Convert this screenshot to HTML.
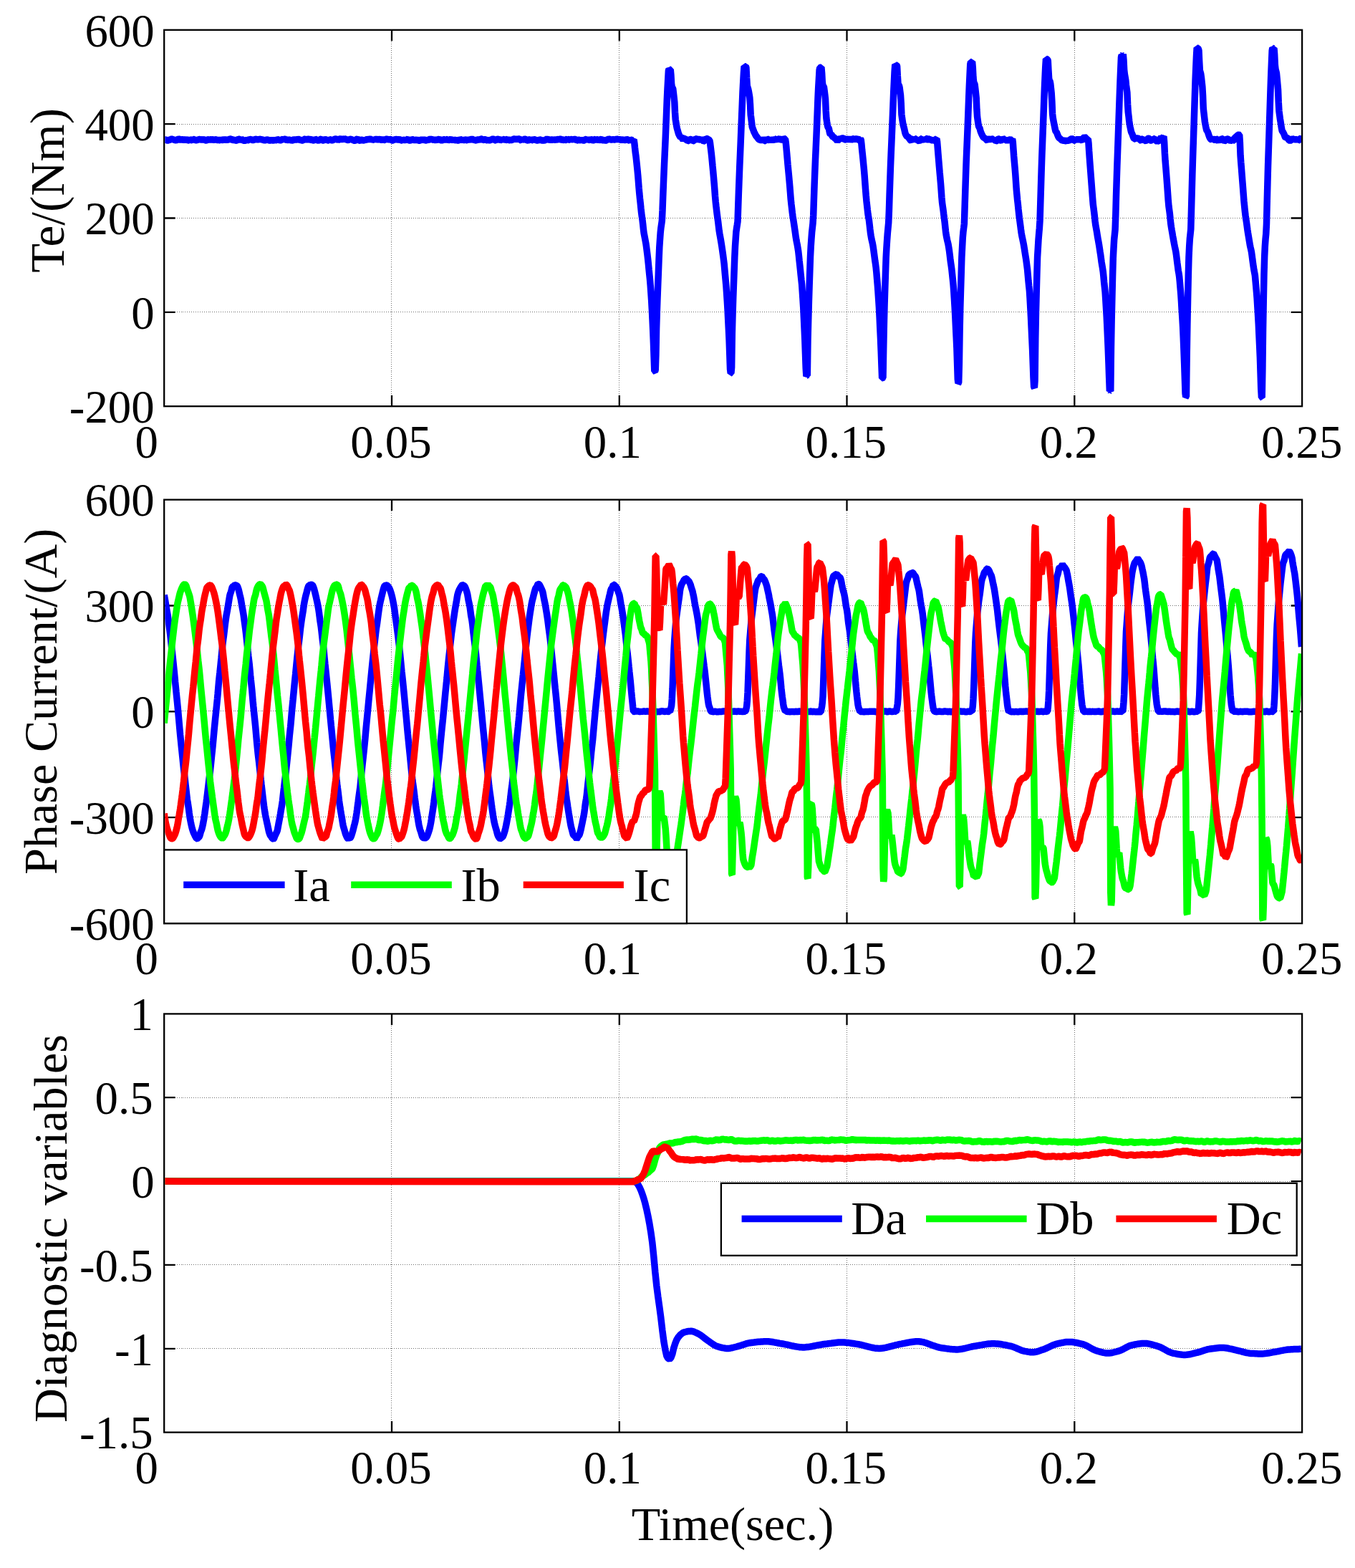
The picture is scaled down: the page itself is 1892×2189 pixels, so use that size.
<!DOCTYPE html>
<html lang="en"><head><meta charset="utf-8"><title>Te, phase current and diagnostic variables</title>
<style>
html,body{margin:0;padding:0;background:#fff}
body{width:1892px;height:2189px;overflow:hidden}
svg{display:block}
text{font-family:"Liberation Serif","DejaVu Serif",serif;fill:#000}
.tl text{font-size:64.8px}
.al{font-size:66.2px}
.lg{font-size:66.4px}
.g{stroke:#707070;stroke-width:1;stroke-dasharray:1 1.92;fill:none;shape-rendering:crispEdges}
.a{stroke:#000;stroke-width:2.3;fill:none}
.c{fill:none;stroke-width:9.5;stroke-linejoin:bevel;stroke-linecap:butt}
</style></head>
<body>
<svg width="1892" height="2189" viewBox="0 0 1892 2189">
<rect width="1892" height="2189" fill="#fff"/>
<defs>
<clipPath id="cp0"><rect x="230.35" y="42.95" width="1586.6" height="523.1"/></clipPath>
<clipPath id="cp1"><rect x="230.35" y="698.75" width="1586.6" height="589.2"/></clipPath>
<clipPath id="cp2"><rect x="230.35" y="1416.55" width="1586.6" height="581.9"/></clipPath>
</defs>
<g id="axes1">
<path class="g" d="M546.5 567.2V41.8M864.5 567.2V41.8M1182.5 567.2V41.8M1500.5 567.2V41.8M229.2 173.5H1818.1M229.2 304.5H1818.1M229.2 435.5H1818.1"/>
<path class="a" d="M547 567.2v-15.5M547 41.8v15.5M864.8 567.2v-15.5M864.8 41.8v15.5M1182.5 567.2v-15.5M1182.5 41.8v15.5M1500.3 567.2v-15.5M1500.3 41.8v15.5M229.2 173.2h15.5M1818.1 173.2h-15.5M229.2 304.5h15.5M1818.1 304.5h-15.5M229.2 435.9h15.5M1818.1 435.9h-15.5"/>
<rect class="a" x="229.2" y="41.8" width="1588.9" height="525.4"/>
<g clip-path="url(#cp0)">
<path class="c" stroke="#0000ff" d="M229.2 195.8l0.7-0.3l0.7-0.4l0.7 0l0.7 0.3l0.7 0.3l0.7 0.3l0.7 0.2l0.7-0.2l0.7-0.5l0.7-0.3l0.7 0l0.7-0.1l0.7-0.4l0.7-0.4l0.7-0.2l0.7 0.2l0.7 0.2l0.7 0.3l0.7 0.2l0.7 0.2l0.7 0.2l0.7 0.2l0.7 0.1l0.7 0.1l0.7-0.2l0.7-0.5l0.7-0.4l0.7-0.3l0.7-0.3l0.7 0.1l0.7 0.3l0.7 0.4l0.7 0.6l0.7 0.6l0.7-0.7l0.7-0.7l0.7-0.2l0.7 0.3l0.7 0.3l0.7 0.5l0.7 0.5l0.7-0.6l0.7-0.9l0.7-0.5l0.7 0.6l0.7 0.6l0.7 0.4l0.7 0.3l0.7-0.1l0.7-0.7l0.7-0.8l0.7 0.4l0.7 0.3l0.7 0.4l0.7 0.3l0.7 0.2l0.7-0.8l0.7-0.8l0.7 0.1l0.7 0.4l0.7 0.3l0.7 0.3l0.7 0.2l0.7 0l0.7-0.1l0.7-0.1l0.7-0.3l0.7-0.2l0.7-0.2l0.7-0.3l0.7 0l0.7 0.3l0.7 0.3l0.7-0.1l0.7-0.2l0.7 0.1l0.7 0.1l0.7 0l0.7-0.1l0.7-0.1l0.7 0.4l0.7 0.5l0.7 0.2l0.7 0l0.7-0.1l0.7-0.5l0.7-0.4l0.7-0.1l0.7 0.3l0.7 0.2l0.7-0.3l0.7-0.4l0.7 0.1l0.7 0.2l0.7 0.1l0.7-0.1l0.7-0.1l0.7 0.2l0.7 0.3l0.7 0.1l0.7-0.3l0.7-0.3l0.7 0.1l0.7 0.1l0.7 0.2l0.7 0.2l0.7 0.2l0.7-0.3l0.7-0.3l0.7 0.3l0.7 0.5l0.7 0.1l0.7-0.7l0.7-0.8l0.7 0.4l0.7 0.6l0.7 0.2l0.7-0.3l0.7-0.4l0.7 0l0.7 0l0.7 0.2l0.7 0.2l0.7 0.1l0.7-0.1l0.7-0.1l0.7-0.1l0.7-0.1l0.7-0.2l0.7-0.4l0.7-0.5l0.7 0.1l0.7 0l0.7 0.4l0.7 0.6l0.7 0.6l0.7-0.1l0.7-0.2l0.7 0l0.7 0.2l0.7 0.1l0.7 0.3l0.7 0.3l0.7-0.1l0.7-0.3l0.7-0.4l0.7-0.7l0.7-0.6l0.7 0.1l0.7 0.3l0.7 0.3l0.7 0.3l0.7 0.2l0.7-0.3l0.7-0.4l0.7 0.3l0.7 0.7l0.7 0.7l0.7 0l0.7-0.1l0.7 0l0.7-0.1l0.7-0.2l0.7-0.4l0.7-0.4l0.7 0.3l0.7 0.4l0.7-0.1l0.7-0.8l0.7-0.7l0.7 0.2l0.7 0.2l0.7 0.1l0.7 0.2l0.7 0.2l0.7 0.3l0.7 0.2l0.7-0.1l0.7-0.2l0.7-0.3l0.7-0.4l0.7-0.3l0.7 0.1l0.7 0.2l0.7 0.1l0.7 0l0.7 0l0.7 0l0.7-0.1l0.7-0.1l0.7-0.1l0.7-0.1l0.7 0.3l0.7 0.2l0.7 0.1l0.7 0.1l0.7 0.1l0.7 0.3l0.7 0.4l0.7 0l0.7 0l0.7-0.1l0.7-0.2l0.7-0.3l0.7-0.1l0.7-0.1l0.7 0.2l0.7 0.3l0.7 0.3l0.7 0.1l0.7 0.2l0.7-0.2l0.7-0.2l0.7-0.1l0.7 0.1l0.7 0.2l0.7 0.1l0.7 0.1l0.7-0.3l0.7-0.9l0.7-0.9l0.7 0.8l0.7 0.9l0.7 0l0.7-0.6l0.7-0.5l0.7 0.2l0.7 0.2l0.7 0.3l0.7 0.3l0.7 0.2l0.7 0l0.7-0.1l0.7-0.5l0.7-0.6l0.7-0.1l0.7 0.5l0.7 0.5l0.7-0.6l0.7-0.6l0.7-0.1l0.7 0.3l0.7 0.3l0.7 0.5l0.7 0.5l0.7-0.2l0.7-0.4l0.7-0.2l0.7 0.2l0.7 0.1l0.7 0.2l0.7 0.1l0.7 0.1l0.7 0.1l0.7 0.1l0.7 0l0.7-0.1l0.7-0.5l0.7-0.7l0.7-0.7l0.7 0.5l0.7 0.4l0.7 0.2l0.7 0l0.7-0.1l0.7-0.4l0.7-0.4l0.7 0.3l0.7 0.5l0.7 0.4l0.7 0l0.7 0.1l0.7 0.2l0.7 0.2l0.7 0.2l0.7 0.1l0.7 0l0.7-0.8l0.7-0.9l0.7-0.1l0.7 0.1l0.7 0.2l0.7 0.4l0.7 0.5l0.7-0.4l0.7-0.6l0.7-0.3l0.7 0.1l0.7 0.1l0.7 0.4l0.7 0.4l0.7-0.1l0.7-0.5l0.7-0.2l0.7 0.6l0.7 0.6l0.7 0.3l0.7 0.1l0.7-0.2l0.7-0.9l0.7-0.8l0.7 0.3l0.7 0.5l0.7 0.4l0.7 0.3l0.7 0.3l0.7 0.1l0.7 0.2l0.7-0.3l0.7-0.7l0.7-0.7l0.7-0.1l0.7-0.1l0.7 0.5l0.7 0.7l0.7 0.6l0.7 0l0.7 0l0.7-0.6l0.7-0.7l0.7-0.3l0.7 0.2l0.7 0.3l0.7 0.3l0.7 0.2l0.7 0.2l0.7 0.2l0.7 0l0.7-0.7l0.7-0.7l0.7 0.2l0.7 0.5l0.7 0.4l0.7 0.1l0.7 0.2l0.7-0.2l0.7-0.3l0.7-0.3l0.7-0.4l0.7-0.4l0.7-0.2l0.7-0.1l0.7 0.1l0.7 0.3l0.7 0.2l0.7 0.6l0.7 0.5l0.7-0.4l0.7-0.8l0.7-0.5l0.7-0.1l0.7 0l0.7 0.3l0.7 0.4l0.7 0l0.7-0.3l0.7-0.3l0.7 0.1l0.7 0.1l0.7 0l0.7-0.2l0.7 0l0.7 0.5l0.7 0.5l0.7 0.3l0.7 0.2l0.7 0l0.7-0.2l0.7-0.3l0.7-0.3l0.7-0.3l0.7-0.1l0.7 0.2l0.7 0.2l0.7 0.3l0.7 0.2l0.7 0.4l0.7 0.3l0.7 0.3l0.7 0.1l0.7 0l0.7-0.5l0.7-0.8l0.7-0.6l0.7-0.2l0.7-0.3l0.7 0.7l0.7 0.9l0.7 0.5l0.7 0.1l0.7 0.1l0.7-0.5l0.7-0.5l0.7 0l0.7 0.3l0.7 0.3l0.7 0.1l0.7 0.1l0.7-0.2l0.7-0.2l0.7-0.1l0.7 0.2l0.7 0.3l0.7-0.7l0.7-0.9l0.7-0.4l0.7 0.3l0.7 0.2l0.7 0.1l0.7 0l0.7-0.1l0.7-0.2l0.7 0l0.7 0.8l0.7 0.8l0.7-0.4l0.7-0.9l0.7-0.5l0.7 0.7l0.7 0.7l0.7-0.5l0.7-0.6l0.7-0.2l0.7 0.3l0.7 0.3l0.7 0l0.7 0.1l0.7-0.1l0.7-0.3l0.7-0.1l0.7 0.3l0.7 0.4l0.7 0.1l0.7 0l0.7-0.1l0.7-0.2l0.7-0.2l0.7 0.3l0.7 0.5l0.7 0l0.7-0.6l0.7-0.6l0.7 0l0.7 0l0.7 0.1l0.7 0.2l0.7 0.2l0.7 0l0.7 0l0.7-0.1l0.7-0.2l0.7 0.1l0.7 0.7l0.7 0.8l0.7 0l0.7-0.1l0.7-0.4l0.7-0.7l0.7-0.8l0.7 0.3l0.7 0.3l0.7 0l0.7-0.1l0.7-0.1l0.7 0.2l0.7 0.2l0.7 0l0.7-0.2l0.7-0.1l0.7 0.3l0.7 0.2l0.7 0.4l0.7 0.4l0.7 0l0.7-0.5l0.7-0.6l0.7 0.3l0.7 0.3l0.7 0.1l0.7-0.1l0.7 0l0.7 0.1l0.7 0.2l0.7-0.5l0.7-0.7l0.7-0.3l0.7 0.7l0.7 0.7l0.7 0.3l0.7 0.2l0.7 0l0.7-0.4l0.7-0.3l0.7-0.3l0.7-0.4l0.7 0.1l0.7 0.4l0.7 0.4l0.7 0l0.7 0l0.7 0l0.7 0l0.7-0.2l0.7-0.6l0.7-0.5l0.7 0.7l0.7 0.8l0.7 0.5l0.7 0l0.7 0l0.7-0.6l0.7-0.5l0.7-0.2l0.7 0.2l0.7 0.1l0.7-0.6l0.7-0.6l0.7 0.6l0.7 0.9l0.7 0.7l0.7-0.2l0.7-0.2l0.7-0.1l0.7-0.2l0.7-0.1l0.7 0.1l0.7 0.2l0.7-0.6l0.7-0.6l0.7-0.2l0.7 0.1l0.7 0.1l0.7 0l0.7-0.1l0.7 0.2l0.7 0.4l0.7 0.1l0.7-0.5l0.7-0.5l0.7 0.6l0.7 0.8l0.7 0.3l0.7-0.4l0.7-0.5l0.7 0l0.7 0l0.7-0.2l0.7-0.4l0.7-0.2l0.7 0.6l0.7 0.6l0.7 0.3l0.7 0.1l0.7 0.1l0.7-0.2l0.7-0.2l0.7-0.4l0.7-0.4l0.7 0l0.7 0.6l0.7 0.5l0.7-0.6l0.7-0.7l0.7 0.1l0.7 0.7l0.7 0.6l0.7-0.3l0.7-0.2l0.7-0.3l0.7-0.3l0.7-0.1l0.7 0.2l0.7 0.2l0.7 0.2l0.7 0.1l0.7-0.1l0.7-0.4l0.7-0.4l0.7 0.6l0.7 0.6l0.7 0l0.7-0.4l0.7-0.3l0.7 0.5l0.7 0.5l0.7 0.1l0.7-0.1l0.7-0.3l0.7-0.7l0.7-0.8l0.7 0.4l0.7 0.6l0.7 0.1l0.7-0.3l0.7-0.4l0.7 0.5l0.7 0.5l0.7 0l0.7-0.2l0.7-0.2l0.7-0.1l0.7-0.1l0.7 0.3l0.7 0.5l0.7 0.1l0.7-0.9l0.7-0.9l0.7 0.4l0.7 0.5l0.7 0.2l0.7-0.3l0.7-0.2l0.7-0.3l0.7-0.3l0.7 0.3l0.7 0.7l0.7 0.6l0.7-0.2l0.7-0.2l0.7 0.2l0.7 0.4l0.7 0.1l0.7-0.3l0.7-0.3l0.7-0.3l0.7-0.2l0.7 0.1l0.7 0.7l0.7 0.6l0.7-0.9l0.7-0.9l0.7-0.4l0.7 0l0.7 0l0.7 0.7l0.7 0.7l0.7-0.1l0.7-0.3l0.7-0.3l0.7 0l0.7 0l0.7 0.4l0.7 0.6l0.7 0l0.7-0.5l0.7-0.6l0.7 0.6l0.7 0.5l0.7 0.1l0.7-0.2l0.7-0.3l0.7-0.3l0.7-0.3l0.7-0.3l0.7-0.3l0.7-0.1l0.7 0.2l0.7 0.2l0.7 0.6l0.7 0.8l0.7 0.1l0.7-0.5l0.7-0.6l0.7-0.3l0.7-0.2l0.7-0.1l0.7 0.2l0.7 0.2l0.7 0.6l0.7 0.6l0.7-0.3l0.7-0.8l0.7-0.3l0.7 0.6l0.7 0.6l0.7-0.5l0.7-0.6l0.7 0l0.7 0.8l0.7 0.9l0.7-0.5l0.7-0.4l0.7-0.5l0.7-0.5l0.7-0.3l0.7 0.9l0.7 0.9l0.7-0.1l0.7-0.6l0.7-0.3l0.7 0.4l0.7 0.3l0.7-0.1l0.7-0.2l0.7-0.3l0.7-0.5l0.7-0.4l0.7 0l0.7 0l0.7 0.1l0.7 0l0.7 0l0.7 0.1l0.7 0l0.7-0.1l0.7-0.1l0.7-0.1l0.7 0l0.7 0l0.7 0.8l0.7 0.9l0.7 0.2l0.7-0.9l0.7-0.9l0.7 0.4l0.7 0.5l0.7-0.1l0.7-0.4l0.7-0.3l0.7 0.1l0.7 0.1l0.7 0.4l0.7 0.6l0.7 0.4l0.7 0.2l0.7 0.2l0.7-0.4l0.7-0.5l0.7-0.5l0.7-0.4l0.7-0.5l0.7 1l0.7 1l0.7-0.1l0.7-1l0.7-0.8l0.7 0.4l0.7 0.3l0.7 0.3l0.7 0.1l0.7 0.2l0.7 0.4l0.7 0.3l0.7 0l0.7 0l0.7-0.2l0.7-0.2l0.7-0.2l0.7-0.2l0.7-0.2l0.7 0.1l0.7 0.5l0.7 0.4l0.7 0l0.7 0l0.7 0l0.7 0l0.7 0l0.7-0.2l0.7-0.1l0.7-0.6l0.7-0.6l0.7-0.3l0.7 0.2l0.7 0.2l0.7 0.2l0.7 0.2l0.7 0.1l0.7 0l0.7 0.1l0.7 0.3l0.7 0.4l0.7-0.4l0.7-0.6l0.7-0.3l0.7 0.4l0.7 0.5l0.7-0.2l0.7-0.3l0.7 0l0.7 0.4l0.7 0.4l0.7-0.6l0.7-0.6l0.7-0.1l0.7 0.3l0.7 0.2l0.7-0.4l0.7-0.4l0.7 0l0.7 0.1l0.7 0.3l0.7 0.8l0.7 0.7l0.7-0.4l0.7-0.7l0.7-0.1l0.7 0.6l0.7 0.6l0.7-0.4l0.7-0.4l0.7-0.4l0.7-0.5l0.7-0.3l0.7 0.8l0.7 0.7l0.7-0.3l0.7-0.8l0.7-0.3l0.7 0.8l0.7 0.8l0.7-0.6l0.7-0.8l0.7-0.2l0.7 0.7l0.7 0.7l0.7-0.6l0.7-0.5l0.7-0.1l0.7 0.2l0.7 0.2l0.7 0.6l0.7 0.7l0.7-0.2l0.7-0.5l0.7-0.3l0.7 0.2l0.7 0.2l0.7 0.1l0.7 0.1l0.7-0.3l0.7-0.6l0.7-0.7l0.7 0.8l0.7 0.7l0.7 0.4l0.7 0.1l0.7-0.1l0.7-0.7l0.7-0.8l0.7 0l0.7 0.4l0.7 0.3l0.7-0.3l0.7-0.3l0.7 0.4l0.7 0.5l0.7-0.1l0.7-0.7l0.7-0.8l0.7 0.5l0.7 0.5l0.7 0.4l0.7 0.3l0.7 0.2l0.7 0l0.7-0.1l0.7-0.5l0.7-0.6l0.7-0.2l0.7 0.7l0.7 0.7l0.7-0.4l0.7-0.6l0.7-0.1l0.7 0.6l0.7 0.6l0.7-0.3l0.7-0.4l0.7-0.3l0.7-0.3l0.7-0.2l0.7 0.5l0.7 0.6l0.7 0.3l0.7 0l0.7 0.1l0.7-0.2l0.7-0.1l0.7 0.3l0.7 0.2l0.7-0.1l0.7-0.8l0.7-0.7l0.7 0l0.7 0l0.7-0.1l0.7-0.1l0.7 0l0.7 0.4l0.7 0.4l0.7 0l0.7-0.1l0.7-0.1l0.7-0.1l0.7 0l0.7 0.1l0.7 0.1l0.7-0.1l0.7-0.2l0.7-0.1l0.7-0.3l0.7-0.3l0.7 0.2l0.7 0.4l0.7 0.4l0.7-0.2l0.7-0.2l0.7 0.1l0.7 0.2l0.7 0.2l0.7 0.5l0.7 0.5l0.7-0.6l0.7-0.7l0.7-0.3l0.7 0.5l0.7 0.5l0.7 0l0.7 0l0.7-0.2l0.7-0.4l0.7-0.3l0.7 0.2l0.7 0.2l0.7 0.4l0.7 0.5l0.7 0.2l0.7-0.6l0.7-0.7l0.7 0.3l0.7 0.3l0.7 0.3l0.7 0.1l0.7 0.2l0.7-0.5l0.7-0.5l0.7 4.6l0.7 6.7l0.7 6.4l0.7 4.8l0.7 6.3l0.7 6.7l0.7 6.8l0.7 7.3l0.7 8.8l0.7 8.9l0.7 8l0.7 7l0.7 6.2l0.7 6.9l0.7 6.8l0.7 5.1l0.7 4.8l0.7 6l0.7 6.8l0.7 5.5l0.7 3.6l0.7 3.6l0.7 3.7l0.7 3.8l0.7 4.9l0.7 5.6l0.7 5.6l0.7 6.1l0.7 6.8l0.7 7.4l0.7 6.9l0.7 6.9l0.7 8.4l0.7 9.9l0.7 10.2l0.7 12.6l0.7 14.8l0.7 15l0.7 17.1l0.7 20.1l0.7 19.6l0.7 0.3l0.7-1.6l0.7-21l0.7-37.6l0.7-22.4l0.7-20l0.7-18.4l0.7-17.8l0.7-18.8l0.7-16l0.7-10.4l0.7-9.8l0.7-6.4l0.7-4.8l0.7-4.9l0.7-14.7l0.7-19.2l0.7-17.6l0.7-17.3l0.7-16.1l0.7-15.1l0.7-15.6l0.7-17.4l0.7-18.3l0.7-18.3l0.7-15.1l0.7-12.8l0.7-12.3l0.7-2.1l0.7 0.5l0.7 0.1l0.7 0.1l0.7 7.6l0.7 12.2l0.7 4.6l0.7 1l0.7 1.2l0.7 6l0.7 6.3l0.7 6.4l0.7 14.6l0.7 9.6l0.7 4.4l0.7 4.4l0.7 3.5l0.7 2.5l0.7 2.5l0.7 2.5l0.7 1.6l0.7 1.3l0.7 1.3l0.7 0.8l0.7-0.4l0.7-0.5l0.7 1.5l0.7 2l0.7 0.8l0.7-0.9l0.7-0.8l0.7 0.4l0.7 0.4l0.7 0.4l0.7 0.3l0.7 0.4l0.7 0.9l0.7 0.9l0.7-0.2l0.7-0.6l0.7-0.6l0.7-0.5l0.7-0.5l0.7 0l0.7 0l0.7 0.5l0.7 1l0.7 1l0.7-0.2l0.7-0.1l0.7-0.8l0.7-1.3l0.7-1.1l0.7 0.2l0.7 0.2l0.7 0.2l0.7 0.3l0.7 0l0.7-0.2l0.7-0.3l0.7 0.5l0.7 0.6l0.7 0.1l0.7-0.6l0.7-0.7l0.7 0.7l0.7 0.7l0.7 0.7l0.7 0.6l0.7 0.6l0.7-0.2l0.7-0.1l0.7-1.1l0.7-1.4l0.7-1l0.7 0.2l0.7 0.2l0.7 0.4l0.7 0.4l0.7 0.4l0.7 0.4l0.7 0.5l0.7 3.9l0.7 5.6l0.7 5.7l0.7 6.1l0.7 7.1l0.7 7.5l0.7 7.4l0.7 7.8l0.7 8.3l0.7 8.7l0.7 9.7l0.7 8.1l0.7 6.2l0.7 6l0.7 5.8l0.7 5.1l0.7 4.9l0.7 6l0.7 6l0.7 4.4l0.7 3.9l0.7 3.9l0.7 4.2l0.7 4.3l0.7 4.7l0.7 4.9l0.7 5l0.7 5.5l0.7 5.5l0.7 8l0.7 8l0.7 7.5l0.7 7.7l0.7 10.3l0.7 10.7l0.7 11.8l0.7 14.4l0.7 13.8l0.7 14.8l0.7 20.2l0.7 20.2l0.7 5.5l0.7-0.2l0.7-7.6l0.7-47.6l0.7-26.2l0.7-22.6l0.7-19.1l0.7-19.1l0.7-19.5l0.7-15.1l0.7-10.2l0.7-10.2l0.7-5l0.7-4.5l0.7-4.6l0.7-20.8l0.7-20.4l0.7-18.4l0.7-18.3l0.7-16.3l0.7-16.9l0.7-18.1l0.7-17.4l0.7-17.2l0.7-17.3l0.7-13.5l0.7-13.1l0.7-9.2l0.7 0.2l0.7 0.1l0.7 0l0.7 1.5l0.7 14l0.7 11.7l0.7 2.4l0.7 2l0.7 3.4l0.7 4.1l0.7 4.1l0.7 10.1l0.7 14.5l0.7 5.1l0.7 5.8l0.7 5.9l0.7 1.8l0.7 1.8l0.7 2l0.7 1.9l0.7 1l0.7 1.5l0.7 1.5l0.7 1.1l0.7 0.9l0.7 0.8l0.7 0.9l0.7 1l0.7 0.7l0.7 0.6l0.7 0.3l0.7 0l0.7 0l0.7 0.6l0.7 0.5l0.7-0.5l0.7-1.3l0.7-1l0.7 0.9l0.7 0.9l0.7 0.8l0.7 0.7l0.7 0.1l0.7-1.6l0.7-1.6l0.7 0.4l0.7 0.6l0.7 0.5l0.7 0.3l0.7 0.2l0.7-0.5l0.7-0.6l0.7 0.4l0.7 1.2l0.7 0.9l0.7-0.9l0.7-0.9l0.7-0.3l0.7 0l0.7 0.2l0.7 0.9l0.7 0.8l0.7-1.4l0.7-1.6l0.7-0.3l0.7 1.6l0.7 1.6l0.7-1.4l0.7-1.4l0.7-0.3l0.7 0.5l0.7 0.4l0.7 0.2l0.7 0.2l0.7 0l0.7 0l0.7-0.2l0.7-0.9l0.7-0.8l0.7 0.4l0.7 0.5l0.7 0.3l0.7 4.5l0.7 6.8l0.7 7.8l0.7 8.2l0.7 8l0.7 7.5l0.7 7.3l0.7 7.8l0.7 7.9l0.7 8.9l0.7 9.1l0.7 6.6l0.7 6.1l0.7 6.1l0.7 5.3l0.7 4.3l0.7 4.6l0.7 4.7l0.7 4.8l0.7 5.1l0.7 5.1l0.7 4.2l0.7 3.6l0.7 3.5l0.7 4.1l0.7 4.5l0.7 6.3l0.7 6.9l0.7 6.4l0.7 6.7l0.7 7.1l0.7 6.5l0.7 6.3l0.7 10.2l0.7 10.9l0.7 10.9l0.7 14.9l0.7 15.3l0.7 15.5l0.7 19.6l0.7 19.8l0.7 11.1l0.7-0.9l0.7-0.1l0.7-49.5l0.7-27.7l0.7-25.9l0.7-21.8l0.7-20.7l0.7-20.3l0.7-13.8l0.7-10.4l0.7-9.4l0.7-6.3l0.7-6.3l0.7-11.3l0.7-21.7l0.7-20.4l0.7-18.4l0.7-17.4l0.7-15.6l0.7-15.9l0.7-17.3l0.7-18.4l0.7-18.5l0.7-14.8l0.7-12l0.7-12.5l0.7-3.3l0.7-0.3l0.7-0.1l0.7-0.1l0.7 7.8l0.7 12.9l0.7 5.2l0.7 0.6l0.7 0.7l0.7 5.2l0.7 5.7l0.7 6.2l0.7 16l0.7 10.9l0.7 4.8l0.7 4.6l0.7 2.9l0.7 1l0.7 1l0.7 3.9l0.7 3l0.7 1.1l0.7-0.1l0.7 0.1l0.7 1.5l0.7 1.6l0.7 0.4l0.7 0.3l0.7 0.4l0.7 0.8l0.7 0.7l0.7 0.5l0.7 0.6l0.7 0.7l0.7 1l0.7 1l0.7-0.9l0.7-0.9l0.7-0.7l0.7-0.6l0.7-0.5l0.7 0.3l0.7 0.3l0.7-0.3l0.7-0.5l0.7-0.3l0.7 0l0.7 0l0.7 0.7l0.7 0.8l0.7 0.5l0.7 0.1l0.7 0.2l0.7-0.5l0.7-0.5l0.7-0.1l0.7 0.3l0.7 0.1l0.7-0.5l0.7-0.6l0.7 0.6l0.7 1.1l0.7 0.6l0.7-0.5l0.7-0.5l0.7-0.5l0.7-0.4l0.7 0l0.7 0.7l0.7 0.6l0.7-0.5l0.7-0.6l0.7-0.1l0.7 0.1l0.7 0.1l0.7-0.3l0.7-0.3l0.7 0.8l0.7 1.2l0.7 0.6l0.7-0.9l0.7-1l0.7 1l0.7 5.6l0.7 7.8l0.7 6.5l0.7 6.7l0.7 7.3l0.7 7.3l0.7 8.3l0.7 9.7l0.7 9.5l0.7 8.6l0.7 7.9l0.7 6.3l0.7 6.4l0.7 6l0.7 4.4l0.7 3.7l0.7 6l0.7 6.3l0.7 5.9l0.7 4.2l0.7 4.1l0.7 3l0.7 3l0.7 3.7l0.7 4.7l0.7 5.3l0.7 5.3l0.7 5.4l0.7 4.5l0.7 5.4l0.7 7.1l0.7 8.4l0.7 8.4l0.7 9.5l0.7 10.5l0.7 10.8l0.7 13.8l0.7 15.7l0.7 14.5l0.7 17l0.7 19.5l0.7 18.6l0.7 0l0.7-0.6l0.7-40.1l0.7-34.9l0.7-27.7l0.7-22.5l0.7-21.5l0.7-21.1l0.7-12.9l0.7-11l0.7-9.6l0.7-7.5l0.7-7.5l0.7-16.7l0.7-22.5l0.7-20.1l0.7-19.9l0.7-17.3l0.7-16.2l0.7-17l0.7-17.3l0.7-17.3l0.7-17.8l0.7-14.8l0.7-14.4l0.7-9.6l0.7 0.5l0.7 0.3l0.7 0.1l0.7 1.3l0.7 13.3l0.7 11.3l0.7 1.6l0.7 0.9l0.7 2.9l0.7 5.3l0.7 5.4l0.7 10.9l0.7 16l0.7 5.3l0.7 4.4l0.7 4.4l0.7 2.5l0.7 2.5l0.7 3l0.7 3.3l0.7 2.2l0.7 1.2l0.7 1.2l0.7 0.6l0.7 0.2l0.7 0.1l0.7 1.2l0.7 1.3l0.7 0.9l0.7 0.9l0.7 0.8l0.7 0.5l0.7 0.6l0.7-1.4l0.7-1.7l0.7-0.3l0.7 1.5l0.7 1.5l0.7-1.4l0.7-1.5l0.7 0.1l0.7 1.2l0.7 1l0.7-0.1l0.7-0.2l0.7 0.4l0.7 0.7l0.7 0.3l0.7-0.6l0.7-0.6l0.7-1l0.7-1.1l0.7-0.1l0.7 1.2l0.7 1.1l0.7-0.8l0.7-0.8l0.7 0.3l0.7 1.1l0.7 0.7l0.7-1.5l0.7-1.5l0.7 0l0.7 0.5l0.7 0.6l0.7 0.7l0.7 0.6l0.7-0.7l0.7-1l0.7-0.2l0.7 1l0.7 0.9l0.7 0l0.7-0.1l0.7 0l0.7 0l0.7 0l0.7 0.3l0.7 0.3l0.7-0.6l0.7-0.9l0.7-0.7l0.7-0.3l0.7 4l0.7 8.7l0.7 8.8l0.7 8.4l0.7 8.3l0.7 8.4l0.7 7.7l0.7 8.1l0.7 9.1l0.7 10l0.7 7.9l0.7 4.9l0.7 4.9l0.7 5.7l0.7 5.6l0.7 5.5l0.7 6.6l0.7 6.7l0.7 5l0.7 3.7l0.7 3.3l0.7 2.9l0.7 2.9l0.7 4.1l0.7 4.5l0.7 5.5l0.7 5.9l0.7 5.7l0.7 4.5l0.7 5.1l0.7 6.7l0.7 6.6l0.7 6.9l0.7 9.1l0.7 11.3l0.7 11.6l0.7 13.2l0.7 15.2l0.7 14l0.7 14.9l0.7 21.9l0.7 21.9l0.7 5.5l0.7-0.8l0.7-26.6l0.7-46l0.7-31.9l0.7-24.3l0.7-23.1l0.7-23.6l0.7-13.7l0.7-13.4l0.7-8l0.7-5.6l0.7-5.8l0.7-22.5l0.7-22.4l0.7-21.5l0.7-20.6l0.7-17.2l0.7-16.6l0.7-17.4l0.7-18.8l0.7-18.8l0.7-17.4l0.7-14.7l0.7-14.5l0.7-3.3l0.7 0l0.7-0.1l0.7-0.2l0.7 8l0.7 14l0.7 6.5l0.7 1.5l0.7 1.6l0.7 5.8l0.7 6.5l0.7 6.4l0.7 15.9l0.7 10.8l0.7 5l0.7 5l0.7 3.5l0.7 1.2l0.7 1.3l0.7 2.8l0.7 2.2l0.7 1.7l0.7 1.6l0.7 1.5l0.7 1.3l0.7 1.4l0.7 0.4l0.7 0.4l0.7 0.5l0.7 0.4l0.7 0.5l0.7 0.8l0.7 1l0.7 0.4l0.7-0.9l0.7-0.9l0.7 0l0.7 0.1l0.7 0l0.7 0.1l0.7 0.1l0.7-0.4l0.7-0.5l0.7 0.3l0.7 0.9l0.7 0.8l0.7-0.5l0.7-0.4l0.7 0.6l0.7 0.9l0.7 0.7l0.7-0.2l0.7-0.2l0.7-1l0.7-1.1l0.7-0.6l0.7 0l0.7 0l0.7 1.1l0.7 1l0.7 0.2l0.7-0.4l0.7-0.6l0.7-1l0.7-1l0.7 0.5l0.7 1.2l0.7 0.7l0.7-0.5l0.7-0.4l0.7 0.6l0.7 0.7l0.7 0.4l0.7-0.4l0.7-0.4l0.7 0.1l0.7 0l0.7-0.4l0.7-0.4l0.7-0.3l0.7 0.4l0.7 0.4l0.7-0.7l0.7-0.7l0.7 4.3l0.7 10.1l0.7 9.8l0.7 8.1l0.7 7.9l0.7 8.8l0.7 10.3l0.7 10.4l0.7 7.5l0.7 7.5l0.7 6.1l0.7 6.9l0.7 6.7l0.7 6l0.7 5.2l0.7 5.3l0.7 5.5l0.7 5.1l0.7 4l0.7 3.1l0.7 3.4l0.7 3.4l0.7 3.8l0.7 4.4l0.7 4.5l0.7 4.3l0.7 4.3l0.7 4.9l0.7 5.4l0.7 5.4l0.7 7.9l0.7 8l0.7 6.9l0.7 6.6l0.7 10.9l0.7 12.9l0.7 12.9l0.7 15.3l0.7 14.9l0.7 15.2l0.7 19.5l0.7 19.9l0.7 12.9l0.7 1l0.7-9.8l0.7-59l0.7-36.2l0.7-27.2l0.7-26.4l0.7-23.7l0.7-11.7l0.7-12.3l0.7-8.6l0.7-7.9l0.7-11.2l0.7-23.8l0.7-22.9l0.7-23.2l0.7-20.7l0.7-17.6l0.7-18.2l0.7-18.8l0.7-19l0.7-19.2l0.7-15.6l0.7-15.2l0.7-10.8l0.7 0.2l0.7 0.3l0.7 0.4l0.7 1.6l0.7 13.8l0.7 11.6l0.7 2l0.7 1.4l0.7 3.5l0.7 6.5l0.7 6.5l0.7 11.8l0.7 17.2l0.7 6l0.7 3.7l0.7 3.8l0.7 3.2l0.7 3.7l0.7 3.1l0.7 1.5l0.7 0.3l0.7 1.7l0.7 2l0.7 1.7l0.7 1.6l0.7 1l0.7 0.6l0.7 0.5l0.7 0.6l0.7 0.7l0.7 0.6l0.7 0.5l0.7 0.6l0.7-0.1l0.7-0.1l0.7-0.1l0.7 0.2l0.7 0.2l0.7 0.2l0.7 0.1l0.7-0.4l0.7-1l0.7-1.1l0.7 1l0.7 0.9l0.7 0.1l0.7-0.6l0.7-0.6l0.7-0.5l0.7-0.4l0.7-0.3l0.7-0.2l0.7 0.2l0.7 1.2l0.7 1.1l0.7-0.1l0.7-0.2l0.7-0.6l0.7-1.1l0.7-1.1l0.7 1l0.7 1l0.7-0.2l0.7-1l0.7-0.8l0.7 0.7l0.7 0.6l0.7 0.5l0.7 0.3l0.7 0.3l0.7 0.1l0.7 0.2l0.7-0.8l0.7-1.3l0.7-1.1l0.7-0.7l0.7-0.7l0.7 0.5l0.7 0.8l0.7 0.7l0.7 0.5l0.7 0.4l0.7-0.1l0.7 0l0.7 5.9l0.7 11l0.7 10.1l0.7 9.3l0.7 9.2l0.7 9.2l0.7 9.2l0.7 9.3l0.7 9.2l0.7 8.7l0.7 5.3l0.7 5.4l0.7 6.2l0.7 6.8l0.7 5.4l0.7 3.8l0.7 3.8l0.7 4.3l0.7 4.6l0.7 3.8l0.7 3.9l0.7 4l0.7 4.6l0.7 4.7l0.7 4.4l0.7 5.2l0.7 5.2l0.7 4.1l0.7 4.1l0.7 4.8l0.7 7l0.7 7.7l0.7 6.5l0.7 6.6l0.7 10.6l0.7 12.1l0.7 11.8l0.7 14.4l0.7 15.9l0.7 16.1l0.7 18.8l0.7 20.5l0.7 18.3l0.7-0.4l0.7 0.8l0.7-61.2l0.7-39.4l0.7-30.4l0.7-29.6l0.7-25l0.7-13.6l0.7-12.6l0.7-6.7l0.7-7l0.7-19.1l0.7-26.5l0.7-22.7l0.7-21.8l0.7-19.1l0.7-20.1l0.7-21l0.7-19.9l0.7-19.8l0.7-18.6l0.7-16.2l0.7-15.9l0.7-3.3l0.7 0.6l0.7-0.6l0.7-0.9l0.7 7.6l0.7 14.2l0.7 6.1l0.7 3.8l0.7 4.2l0.7 6.8l0.7 5.3l0.7 5.4l0.7 16.3l0.7 10.9l0.7 5.7l0.7 6.4l0.7 5.3l0.7 3.6l0.7 3.5l0.7 3l0.7 1.7l0.7 1.4l0.7 2l0.7 1.9l0.7 1.5l0.7 1.5l0.7 0l0.7-0.5l0.7-0.5l0.7 0l0.7 0.1l0.7 0l0.7 0.1l0.7 0.1l0.7 0.4l0.7 0.4l0.7 0.6l0.7 0.6l0.7 0.7l0.7 0.5l0.7 0.5l0.7-1.4l0.7-1.7l0.7-0.3l0.7 1.5l0.7 1.6l0.7-0.1l0.7-0.1l0.7-0.1l0.7-0.2l0.7-0.3l0.7-1l0.7-1.1l0.7-0.4l0.7-0.1l0.7 0.2l0.7 1.3l0.7 1.3l0.7 0.1l0.7-0.2l0.7-0.4l0.7-0.5l0.7-0.5l0.7 0l0.7-0.1l0.7-0.3l0.7-0.6l0.7-0.3l0.7 1.8l0.7 1.9l0.7 0.3l0.7-0.3l0.7-0.2l0.7 0.3l0.7 0l0.7-0.9l0.7-1l0.7-1.2l0.7-1.3l0.7-1.2l0.7 0.8l0.7 0.7l0.7-0.4l0.7-1.2l0.7-0.9l0.7 8.1l0.7 15.3l0.7 10.7l0.7 8.4l0.7 8.7l0.7 9.4l0.7 9.4l0.7 9.9l0.7 10l0.7 7.7l0.7 5.2l0.7 5.2l0.7 7l0.7 6.8l0.7 4.8l0.7 4.2l0.7 4.1l0.7 4.2l0.7 4l0.7 3.6l0.7 3.8l0.7 3.6l0.7 3.3l0.7 3.3l0.7 4.6l0.7 5.8l0.7 5.7l0.7 5.3l0.7 5.4l0.7 3.6l0.7 4.7l0.7 7.4l0.7 8.2l0.7 8.2l0.7 10.4l0.7 12.5l0.7 11l0.7 12.2l0.7 15.7l0.7 17.4l0.7 18.6l0.7 21l0.7 20.8l0.7 4.4l0.7-0.6l0.7-55.9l0.7-44.2l0.7-34.6l0.7-33.5l0.7-25.9l0.7-15.1l0.7-10.9l0.7-6.5l0.7-6.8l0.7-25.6l0.7-26.1l0.7-25.5l0.7-22.9l0.7-20.7l0.7-21.6l0.7-22.1l0.7-21.9l0.7-21.9l0.7-16.7l0.7-16l0.7-12.2l0.7 0.2l0.7 0.2l0.7 1.1l0.7 2.1l0.7 15.4l0.7 12.6l0.7 2.2l0.7 2.7l0.7 5l0.7 6.4l0.7 6.5l0.7 12l0.7 18.2l0.7 6.1l0.7 6.2l0.7 6.2l0.7 3.8l0.7 3.5l0.7 3.4l0.7 1.9l0.7 0.5l0.7 1.7l0.7 2.1l0.7 2.1l0.7 2.1l0.7 1.5l0.7 1l0.7 1.1l0.7 0.2l0.7-0.9l0.7-0.8l0.7 0.7l0.7 0.7l0.7 0.3l0.7 0.4l0.7 0.1l0.7-0.8l0.7-0.8l0.7 0.4l0.7 0.9l0.7 0.8l0.7 0.7l0.7 0.7l0.7-1l0.7-1.4l0.7-0.6l0.7 0.4l0.7 0.4l0.7-0.7l0.7-0.6l0.7 0.1l0.7 0.8l0.7 0.7l0.7 0.9l0.7 0.8l0.7-0.3l0.7-0.8l0.7-0.8l0.7-0.6l0.7-0.6l0.7 0.1l0.7 0.1l0.7 0.4l0.7 0.6l0.7 0.6l0.7 0.4l0.7 0.5l0.7-0.3l0.7-0.7l0.7-0.7l0.7 0.1l0.7 0.1l0.7 0.4l0.7 0.6l0.7 0l0.7-2.6l0.7-2.7l0.7-0.1l0.7 0.3l0.7-0.7l0.7-0.9l0.7-0.9l0.7-0.3l0.7-0.2l0.7 0.3l0.7 10.6l0.7 18.5l0.7 9.4l0.7 8.6l0.7 9l0.7 9l0.7 9l0.7 9.2l0.7 9.3l0.7 7.2l0.7 6.8l0.7 6l0.7 4.9l0.7 4.4l0.7 5.2l0.7 5.3l0.7 4.6l0.7 4.2l0.7 4.2l0.7 4.3l0.7 4.2l0.7 3.3l0.7 3l0.7 3.4l0.7 4.9l0.7 5.7l0.7 5.1l0.7 5l0.7 4.4l0.7 3.6l0.7 3.8l0.7 7.7l0.7 7.7l0.7 8l0.7 8.8l0.7 11.9l0.7 11.8l0.7 12.1l0.7 15.4l0.7 15l0.7 15.7l0.7 22l0.7 22.2l0.7 12l0.7 0.3l0.7-38l0.7-57.1l0.7-39.8l0.7-37.2l0.7-24.6l0.7-14.8l0.7-9.9l0.7-7.1l0.7-13.4l0.7-29l0.7-26.8l0.7-25.9l0.7-21.3l0.7-20.9l0.7-22l0.7-21.7l0.7-21.7l0.7-19.7l0.7-16.6l0.7-16.6l0.7-4l0.7 0.5l0.7 0.1l0.7-0.2l0.7 8.6l0.7 14.8l0.7 6.1l0.7 2.6l0.7 3l0.7 7.4l0.7 7.7l0.7 7.7l0.7 17.8l0.7 12.1l0.7 5.2l0.7 5.4l0.7 4.2l0.7 4.6l0.7 4.6l0.7 3.3l0.7 1.3l0.7 0.9l0.7 1.4l0.7 1.4l0.7 1.8l0.7 2.1l0.7 0.7l0.7 0l0.7 0.1l0.7 0.4l0.7 0.4l0.7 0.7l0.7 1.2l0.7 1.1l0.7 0.2l0.7 0.3l0.7-0.3l0.7-0.8l0.7-0.7l0.7-0.4l0.7-0.5l0.7 0.3l0.7 0.6l0.7 0.4l0.7-0.2l0.7-0.1l0.7 0l0.7 0.1l0.7-0.1l0.7-0.4l0.7-0.4l0.7 1l0.7 1l0.7-0.2l0.7-1l0.7-1l0.7-0.3l0.7-0.3l0.7 0.8"/>
</g>
<g class="tl" text-anchor="end"><text x="215.6" y="64.5">600</text><text x="215.6" y="195.9">400</text><text x="215.6" y="327.2">200</text><text x="215.6" y="458.6">0</text><text x="215.6" y="589.9">-200</text></g>
<g class="tl"><text x="188.6" y="638.5">0</text><text x="489.2" y="638.5">0.05</text><text x="814.8" y="638.5">0.1</text><text x="1124.5" y="638.5">0.15</text><text x="1451.8" y="638.5">0.2</text><text x="1760.9" y="638.5">0.25</text></g>
<text class="al" transform="translate(88.9 264.4) rotate(-90)" x="-116.3" y="0" style="font-size:67px">Te/(Nm)</text>
</g>
<g id="axes2">
<path class="g" d="M546.5 1289.1V697.6M864.5 1289.1V697.6M1182.5 1289.1V697.6M1500.5 1289.1V697.6M229.2 845.5H1818.1M229.2 992.5H1818.1M229.2 1140.5H1818.1"/>
<path class="a" d="M547 1289.1v-15.5M547 697.6v15.5M864.8 1289.1v-15.5M864.8 697.6v15.5M1182.5 1289.1v-15.5M1182.5 697.6v15.5M1500.3 1289.1v-15.5M1500.3 697.6v15.5M229.2 845.5h15.5M1818.1 845.5h-15.5M229.2 993.3h15.5M1818.1 993.3h-15.5M229.2 1141.2h15.5M1818.1 1141.2h-15.5"/>
<rect class="a" x="229.2" y="697.6" width="1588.9" height="591.5"/>
<g clip-path="url(#cp1)">
<path class="c" stroke="#0000ff" d="M229.2 830.6l0.7 3.6l0.7 3.9l0.7 4.1l0.7 4.3l0.7 4.5l0.7 3.5l0.7 3.9l0.7 4.9l0.7 5.5l0.7 5.4l0.7 5.2l0.7 5.4l0.7 6.4l0.7 6.7l0.7 6.4l0.7 6.1l0.7 6.2l0.7 6.6l0.7 6.7l0.7 7l0.7 7.4l0.7 7.4l0.7 7l0.7 7.1l0.7 6.9l0.7 6.9l0.7 7.1l0.7 7.6l0.7 7.6l0.7 8l0.7 8l0.7 7.5l0.7 7l0.7 7l0.7 6.7l0.7 6.6l0.7 6.8l0.7 7l0.7 6.7l0.7 5.8l0.7 5.7l0.7 6.3l0.7 6.3l0.7 6.3l0.7 6.2l0.7 6.1l0.7 4.5l0.7 4.2l0.7 4.7l0.7 5.5l0.7 5.3l0.7 3.9l0.7 3.7l0.7 3.3l0.7 3.1l0.7 2.8l0.7 2.3l0.7 2l0.7 1.8l0.7 1.5l0.7 1.4l0.7 1.5l0.7 1.2l0.7 1.2l0.7 0.9l0.7 0.1l0.7-0.6l0.7-1l0.7-0.4l0.7-0.7l0.7-1.7l0.7-2.5l0.7-2.6l0.7-1.6l0.7-1.9l0.7-2.7l0.7-3.1l0.7-3.5l0.7-3.9l0.7-4.2l0.7-4.8l0.7-5.2l0.7-5.1l0.7-4.9l0.7-5.2l0.7-5.6l0.7-5.8l0.7-5.9l0.7-6l0.7-6l0.7-5.5l0.7-5.6l0.7-6.5l0.7-7.1l0.7-6.9l0.7-6.6l0.7-6.8l0.7-7.5l0.7-7.8l0.7-7.6l0.7-7.2l0.7-7.2l0.7-6.7l0.7-6.7l0.7-6.9l0.7-7.2l0.7-7.4l0.7-8.3l0.7-8.3l0.7-6.9l0.7-6.1l0.7-6.5l0.7-7.1l0.7-7l0.7-7.2l0.7-7.1l0.7-6.4l0.7-5.4l0.7-5.1l0.7-6.2l0.7-6l0.7-5.6l0.7-5l0.7-4.8l0.7-3.9l0.7-3.7l0.7-4.3l0.7-4.2l0.7-4.2l0.7-4.3l0.7-4l0.7-2.4l0.7-1.8l0.7-2.3l0.7-2.9l0.7-2.5l0.7-0.4l0.7-0.1l0.7-0.5l0.7-0.9l0.7-0.6l0.7 0.1l0.7 0.4l0.7 0.2l0.7 0.2l0.7 0.7l0.7 1.7l0.7 2l0.7 2.6l0.7 3l0.7 3l0.7 2.8l0.7 3.2l0.7 4.1l0.7 4.4l0.7 3.9l0.7 3.7l0.7 4l0.7 5l0.7 5.1l0.7 5.1l0.7 5.1l0.7 5.6l0.7 6.3l0.7 6.5l0.7 6.8l0.7 6.9l0.7 6.5l0.7 5.7l0.7 5.9l0.7 7.6l0.7 7.6l0.7 6.9l0.7 6.4l0.7 6.7l0.7 8.1l0.7 8.2l0.7 7.3l0.7 6.9l0.7 6.8l0.7 6.9l0.7 6.8l0.7 7.9l0.7 8.1l0.7 7.7l0.7 7.2l0.7 7.1l0.7 6l0.7 5.9l0.7 6.2l0.7 6.5l0.7 6.4l0.7 6.4l0.7 6.3l0.7 6.1l0.7 6.1l0.7 5.9l0.7 5.8l0.7 5.7l0.7 4.8l0.7 4.6l0.7 4l0.7 3.5l0.7 3.2l0.7 3.3l0.7 3l0.7 3.3l0.7 3.5l0.7 3.1l0.7 2.2l0.7 2l0.7 1.3l0.7 0.9l0.7 0.9l0.7 1.2l0.7 0.9l0.7 0.6l0.7 0.3l0.7-0.6l0.7-1.8l0.7-2.2l0.7-1.1l0.7-1.5l0.7-1.5l0.7-1.6l0.7-2.1l0.7-3.7l0.7-4l0.7-3.7l0.7-3.6l0.7-4l0.7-4.1l0.7-4.4l0.7-4l0.7-4.1l0.7-5l0.7-6.2l0.7-6.3l0.7-5.8l0.7-6l0.7-5.7l0.7-5.6l0.7-5.8l0.7-6.4l0.7-6.5l0.7-6.7l0.7-7l0.7-7.1l0.7-7.5l0.7-7.6l0.7-6.8l0.7-6.6l0.7-7.4l0.7-8.3l0.7-8.3l0.7-7l0.7-7l0.7-7.2l0.7-7.3l0.7-7.3l0.7-6.9l0.7-6.8l0.7-7.2l0.7-7.3l0.7-7.1l0.7-6.7l0.7-6.6l0.7-5.4l0.7-5.2l0.7-5.8l0.7-6.6l0.7-6.5l0.7-5.2l0.7-5l0.7-4.7l0.7-4.2l0.7-4.2l0.7-5.1l0.7-4.9l0.7-3.9l0.7-3.5l0.7-3.1l0.7-2.8l0.7-2.4l0.7-3l0.7-2.7l0.7-2.3l0.7-1.6l0.7-1.3l0.7-0.1l0.7 0.1l0.7-0.2l0.7-0.4l0.7-0.1l0.7 0.3l0.7 0.5l0.7 1.2l0.7 1.8l0.7 2.1l0.7 2.6l0.7 2.8l0.7 2.8l0.7 3l0.7 3.2l0.7 3.1l0.7 3.4l0.7 3.7l0.7 3.9l0.7 4.8l0.7 5.5l0.7 5.5l0.7 4.4l0.7 4.6l0.7 5.9l0.7 6.5l0.7 6.2l0.7 5.4l0.7 5.6l0.7 7.2l0.7 7.5l0.7 7.2l0.7 6.7l0.7 6.7l0.7 6.7l0.7 6.8l0.7 7l0.7 7.2l0.7 7.2l0.7 7.5l0.7 7.5l0.7 7.5l0.7 7.5l0.7 7.3l0.7 7.2l0.7 7.1l0.7 7.3l0.7 7.3l0.7 6.8l0.7 6.2l0.7 6.1l0.7 7.1l0.7 7l0.7 6.9l0.7 6.7l0.7 6.4l0.7 5.6l0.7 5.3l0.7 6l0.7 6l0.7 5.5l0.7 4.4l0.7 4.2l0.7 4.1l0.7 4l0.7 4.1l0.7 4.5l0.7 4.1l0.7 2.6l0.7 2.3l0.7 2.5l0.7 2.5l0.7 2.2l0.7 1.8l0.7 1.6l0.7 1.4l0.7 1.1l0.7 0.5l0.7-0.6l0.7-0.8l0.7 0.2l0.7 0.1l0.7-0.6l0.7-1.7l0.7-1.9l0.7-2.2l0.7-2.4l0.7-2.6l0.7-2.8l0.7-2.9l0.7-2.5l0.7-2.8l0.7-3.6l0.7-4.1l0.7-4.6l0.7-5l0.7-5.4l0.7-5.3l0.7-5.5l0.7-5.3l0.7-4.9l0.7-5l0.7-7.3l0.7-7.4l0.7-6.8l0.7-6.5l0.7-6.5l0.7-6.2l0.7-6.4l0.7-6.7l0.7-7l0.7-7.2l0.7-8l0.7-8l0.7-7.2l0.7-7.1l0.7-7.2l0.7-7.5l0.7-7.5l0.7-7.1l0.7-7l0.7-7.2l0.7-7.3l0.7-7.2l0.7-7l0.7-7l0.7-6.8l0.7-6.7l0.7-6.4l0.7-6.1l0.7-6l0.7-6.3l0.7-6.2l0.7-5.5l0.7-4.7l0.7-4.5l0.7-5.6l0.7-5.3l0.7-5l0.7-4.8l0.7-4.3l0.7-3.3l0.7-2.9l0.7-3.1l0.7-2.9l0.7-2.8l0.7-3.1l0.7-2.7l0.7-2.4l0.7-2.1l0.7-1.3l0.7-0.2l0.7 0l0.7-0.3l0.7 0l0.7 0.3l0.7 0.7l0.7 0.9l0.7 0.8l0.7 1.2l0.7 1.5l0.7 1.8l0.7 2.1l0.7 2.3l0.7 2.5l0.7 2.9l0.7 3.3l0.7 3.5l0.7 3.7l0.7 3.9l0.7 5.4l0.7 5.6l0.7 5.1l0.7 4.8l0.7 5l0.7 5.2l0.7 5.4l0.7 5.7l0.7 5.9l0.7 6.1l0.7 6.7l0.7 6.7l0.7 7.2l0.7 7.4l0.7 7l0.7 6.3l0.7 6.5l0.7 6.9l0.7 7.1l0.7 7.4l0.7 7.7l0.7 7.7l0.7 7.3l0.7 7.3l0.7 7.6l0.7 7.7l0.7 7.6l0.7 7l0.7 7l0.7 6.9l0.7 6.9l0.7 7.1l0.7 7.4l0.7 7.2l0.7 6.3l0.7 6.2l0.7 5.6l0.7 5.1l0.7 5.1l0.7 5.8l0.7 5.6l0.7 5.5l0.7 5.2l0.7 4.8l0.7 4.1l0.7 3.9l0.7 4.7l0.7 4.7l0.7 4l0.7 3.3l0.7 3l0.7 2.1l0.7 1.9l0.7 2.3l0.7 2.6l0.7 2.1l0.7 0.8l0.7 0.6l0.7 0.2l0.7-0.1l0.7-0.1l0.7 0.2l0.7-0.1l0.7-0.7l0.7-1.1l0.7-1.5l0.7-1.7l0.7-2l0.7-2.1l0.7-2.3l0.7-2.8l0.7-3.3l0.7-3.6l0.7-4.4l0.7-4.7l0.7-4.4l0.7-4.5l0.7-4.8l0.7-5.5l0.7-5.7l0.7-5.1l0.7-5.1l0.7-5.6l0.7-6.3l0.7-6.4l0.7-6.4l0.7-6.6l0.7-6.1l0.7-5.8l0.7-6.3l0.7-7.9l0.7-8.1l0.7-7.3l0.7-7l0.7-7l0.7-6.6l0.7-6.7l0.7-7.3l0.7-7.5l0.7-7.5l0.7-7.5l0.7-7.4l0.7-6.8l0.7-6.7l0.7-7.3l0.7-7.8l0.7-7.5l0.7-6.9l0.7-6.8l0.7-6.3l0.7-6l0.7-6.2l0.7-6.6l0.7-6.5l0.7-5.2l0.7-4.9l0.7-4.8l0.7-4.9l0.7-4.6l0.7-4.9l0.7-4.6l0.7-4.2l0.7-3.9l0.7-3.8l0.7-4.5l0.7-4.2l0.7-2.8l0.7-2.2l0.7-1.9l0.7-1.4l0.7-1.1l0.7-1.5l0.7-1.2l0.7-1l0.7-0.9l0.7-0.5l0.7 0.1l0.7 0.5l0.7 0.4l0.7 0.5l0.7 0.9l0.7 1.6l0.7 1.8l0.7 2l0.7 2.3l0.7 2.8l0.7 4.1l0.7 4.3l0.7 3.1l0.7 3.1l0.7 4l0.7 5.2l0.7 5.5l0.7 3.6l0.7 3.8l0.7 5.3l0.7 6.4l0.7 6.5l0.7 5.5l0.7 5.7l0.7 5.7l0.7 5.8l0.7 6.3l0.7 7.4l0.7 7.5l0.7 7.1l0.7 7l0.7 7.1l0.7 7.1l0.7 7.3l0.7 7.2l0.7 7.3l0.7 7.3l0.7 7.3l0.7 7.4l0.7 7.4l0.7 7.5l0.7 6.9l0.7 6.8l0.7 7l0.7 7.8l0.7 7.7l0.7 6.5l0.7 6.2l0.7 6.2l0.7 6.3l0.7 6.1l0.7 7.2l0.7 7l0.7 5.7l0.7 4.8l0.7 4.8l0.7 5.5l0.7 5.3l0.7 5.2l0.7 4.9l0.7 4.7l0.7 4.3l0.7 4l0.7 3.1l0.7 2.8l0.7 2.5l0.7 2.5l0.7 2.2l0.7 2.9l0.7 2.6l0.7 1.9l0.7 1.4l0.7 1.1l0.7 0.9l0.7 0.6l0.7-0.2l0.7-0.8l0.7-0.7l0.7-0.1l0.7-0.3l0.7-1.4l0.7-1.7l0.7-2l0.7-2.1l0.7-2.5l0.7-3l0.7-3.2l0.7-3.5l0.7-3.8l0.7-4l0.7-4.3l0.7-4.6l0.7-4.4l0.7-4.6l0.7-5l0.7-6.2l0.7-6.3l0.7-5.4l0.7-5.3l0.7-5.7l0.7-6.1l0.7-6.3l0.7-6.6l0.7-6.7l0.7-7.3l0.7-7.7l0.7-7.7l0.7-6.8l0.7-7l0.7-6.6l0.7-6.5l0.7-6.8l0.7-7.5l0.7-7.6l0.7-8l0.7-8.1l0.7-7.6l0.7-6.8l0.7-6.8l0.7-6.8l0.7-6.6l0.7-6.8l0.7-6.8l0.7-6.8l0.7-7l0.7-6.9l0.7-6.9l0.7-6.7l0.7-6.3l0.7-5.7l0.7-5.5l0.7-5.6l0.7-5.5l0.7-5.1l0.7-4.6l0.7-4.4l0.7-4.4l0.7-4.2l0.7-3.4l0.7-2.7l0.7-2.6l0.7-3l0.7-2.7l0.7-2.7l0.7-2.4l0.7-2l0.7-1l0.7-0.6l0.7-1.7l0.7-1.6l0.7-0.8l0.7 0l0.7 0.4l0.7 1.1l0.7 1.4l0.7 1.3l0.7 1.4l0.7 1.6l0.7 1.6l0.7 1.8l0.7 3.3l0.7 3.9l0.7 3.8l0.7 3.1l0.7 3.4l0.7 4l0.7 4.2l0.7 4.4l0.7 4.4l0.7 4.7l0.7 5.5l0.7 5.7l0.7 5.3l0.7 5.1l0.7 5.5l0.7 6.4l0.7 6.6l0.7 6.9l0.7 7l0.7 7l0.7 6.8l0.7 6.9l0.7 7l0.7 7l0.7 6.9l0.7 6.7l0.7 6.7l0.7 7.6l0.7 7.7l0.7 8l0.7 8.1l0.7 8l0.7 7.3l0.7 7.2l0.7 7l0.7 7l0.7 6.6l0.7 6l0.7 5.9l0.7 6.6l0.7 6.6l0.7 6.5l0.7 6.5l0.7 6.3l0.7 6.7l0.7 6.6l0.7 5.4l0.7 4.6l0.7 4.5l0.7 5l0.7 4.7l0.7 4.5l0.7 4.3l0.7 4.2l0.7 4.3l0.7 4l0.7 3.1l0.7 2.6l0.7 2.6l0.7 2.8l0.7 2.4l0.7 0.8l0.7 0.5l0.7 0.7l0.7 0.8l0.7 0.6l0.7 1.3l0.7 0.9l0.7-0.8l0.7-1.6l0.7-1.4l0.7-0.5l0.7-0.8l0.7-1.9l0.7-2.4l0.7-2.7l0.7-3.3l0.7-3.5l0.7-3.2l0.7-3.5l0.7-3.5l0.7-3.5l0.7-3.9l0.7-5.5l0.7-5.7l0.7-4.5l0.7-4.1l0.7-5l0.7-6.8l0.7-7l0.7-6.1l0.7-6l0.7-6l0.7-6l0.7-6l0.7-7.4l0.7-7.6l0.7-6.6l0.7-6l0.7-6.3l0.7-7.9l0.7-8l0.7-7.8l0.7-7.8l0.7-7.6l0.7-7.2l0.7-7.3l0.7-6.8l0.7-6.8l0.7-6.8l0.7-6.8l0.7-6.7l0.7-7.7l0.7-7.7l0.7-7l0.7-6.5l0.7-6.4l0.7-6.1l0.7-6.1l0.7-5.9l0.7-5.8l0.7-5.6l0.7-5.4l0.7-5.2l0.7-5.5l0.7-5.4l0.7-4.9l0.7-4.3l0.7-4.1l0.7-3.3l0.7-3l0.7-3l0.7-3.1l0.7-2.8l0.7-3.2l0.7-2.8l0.7-1.6l0.7-0.9l0.7-1.1l0.7-2.1l0.7-1.8l0.7 0.1l0.7 0.7l0.7 0.7l0.7 0.6l0.7 0.9l0.7 0.6l0.7 1l0.7 1.6l0.7 2.1l0.7 2.3l0.7 1.8l0.7 2l0.7 3.6l0.7 4.4l0.7 4.3l0.7 3.7l0.7 4l0.7 4.3l0.7 4.5l0.7 4.9l0.7 5.1l0.7 5.3l0.7 5l0.7 5.2l0.7 6.2l0.7 7l0.7 6.9l0.7 6l0.7 6.2l0.7 6.6l0.7 7l0.7 6.8l0.7 6.5l0.7 6.5l0.7 7.6l0.7 7.8l0.7 7.4l0.7 6.8l0.7 6.9l0.7 6.3l0.7 0.2l0.7-0.1l0.7-0.3l0.7-0.2l0.7 0l0.7 0l0.7 0.1l0.7 0l0.7 0.1l0.7 0l0.7 0.1l0.7 0.2l0.7 0.2l0.7 0l0.7-0.4l0.7-0.4l0.7 0.3l0.7 0.2l0.7 0l0.7-0.2l0.7-0.2l0.7 0.1l0.7 0.2l0.7 0l0.7 0l0.7-0.1l0.7 0l0.7-0.1l0.7 0.1l0.7 0.1l0.7 0.1l0.7-0.1l0.7 0l0.7-0.1l0.7 0l0.7 0.1l0.7 0.1l0.7 0.1l0.7-0.1l0.7-0.2l0.7 0.2l0.7 0.3l0.7 0.2l0.7-0.4l0.7-0.3l0.7 0.3l0.7 0.3l0.7 0l0.7-0.3l0.7-0.4l0.7 0.3l0.7 0.4l0.7-0.1l0.7-0.4l0.7-0.3l0.7 0l0.7-0.1l0.7 0.1l0.7 0l0.7 0.1l0.7 0.3l0.7 0.2l0.7-0.1l0.7-0.2l0.7-0.1l0.7 0l0.7 0l0.7 0.2l0.7 0.2l0.7-0.1l0.7-0.3l0.7-0.2l0.7 0.2l0.7-2l0.7-2.9l0.7-3.1l0.7-9l0.7-14.5l0.7-19.7l0.7-18.6l0.7-18.3l0.7-12.1l0.7-9.2l0.7-9.1l0.7-8.3l0.7-5.6l0.7-5.4l0.7-5l0.7-5l0.7-4.9l0.7-4.8l0.7-5.5l0.7-5.8l0.7-3.8l0.7-2.2l0.7-2.3l0.7-1.3l0.7-1.1l0.7-1.1l0.7-1.4l0.7-1.4l0.7-0.6l0.7-0.6l0.7-0.8l0.7 0.1l0.7 0.4l0.7 0.8l0.7 0.9l0.7 0.5l0.7 0.6l0.7 0.8l0.7 1.5l0.7 1.5l0.7 1.6l0.7 2.4l0.7 2.3l0.7 2.2l0.7 2.1l0.7 3.3l0.7 3.2l0.7 3.9l0.7 4.3l0.7 4.1l0.7 3.4l0.7 3.4l0.7 3.6l0.7 3.7l0.7 4.3l0.7 4.5l0.7 4.5l0.7 5.6l0.7 5.8l0.7 5.3l0.7 4.5l0.7 4.6l0.7 5.3l0.7 5.2l0.7 5.3l0.7 5.4l0.7 5.4l0.7 5.5l0.7 5.4l0.7 6l0.7 6.6l0.7 6.6l0.7 6.6l0.7 6.7l0.7 6l0.7 5.1l0.7 4.7l0.7 2.9l0.7 1.5l0.7 2.2l0.7 2.9l0.7 0.4l0.7 0.1l0.7 0.1l0.7 0.2l0.7 0.2l0.7-0.1l0.7-0.2l0.7-0.1l0.7 0l0.7 0.1l0.7 0.1l0.7 0.2l0.7 0.1l0.7-0.1l0.7 0l0.7-0.1l0.7 0l0.7 0l0.7-0.1l0.7 0l0.7 0l0.7 0l0.7-0.2l0.7-0.2l0.7-0.1l0.7 0l0.7 0l0.7-0.1l0.7 0l0.7 0l0.7 0l0.7 0l0.7 0.2l0.7 0.3l0.7 0.1l0.7 0l0.7-0.1l0.7-0.2l0.7-0.3l0.7 0.2l0.7 0.4l0.7 0.2l0.7-0.2l0.7-0.2l0.7 0l0.7 0.1l0.7-0.1l0.7-0.2l0.7-0.2l0.7 0.3l0.7 0.4l0.7-0.1l0.7-0.3l0.7-0.3l0.7 0.1l0.7 0l0.7 0.1l0.7 0.1l0.7 0.1l0.7 0l0.7 0l0.7 0.1l0.7 0l0.7 0.1l0.7 0.1l0.7 0.2l0.7-0.4l0.7-0.4l0.7 0l0.7-0.6l0.7-2.6l0.7-3.6l0.7-7.6l0.7-11.6l0.7-19.1l0.7-19.3l0.7-19.8l0.7-15.5l0.7-8.4l0.7-8.3l0.7-8.4l0.7-6.2l0.7-5.5l0.7-5.8l0.7-5.7l0.7-5.7l0.7-5.9l0.7-5.7l0.7-4.6l0.7-3.4l0.7-1.8l0.7-1.9l0.7-2l0.7-2.1l0.7-1.8l0.7-0.6l0.7-0.6l0.7-0.9l0.7-1.4l0.7-1.4l0.7-0.6l0.7-0.1l0.7 0.7l0.7 1.3l0.7 1.3l0.7 0.6l0.7 0.5l0.7 1.4l0.7 1.6l0.7 1.9l0.7 2l0.7 2.1l0.7 3l0.7 3.3l0.7 3.1l0.7 3.2l0.7 4.1l0.7 3.4l0.7 3.3l0.7 3.9l0.7 4.2l0.7 4.2l0.7 3.9l0.7 4.9l0.7 5.8l0.7 6.1l0.7 5.8l0.7 5l0.7 5l0.7 5l0.7 5.3l0.7 5.4l0.7 5.4l0.7 5.4l0.7 6.2l0.7 6.1l0.7 5.3l0.7 5.3l0.7 6.2l0.7 7.6l0.7 7.5l0.7 6.6l0.7 5.5l0.7 4.6l0.7 5.7l0.7 4.2l0.7 1.7l0.7 1.6l0.7 2.3l0.7-0.1l0.7-0.1l0.7 0.4l0.7 0.4l0.7 0l0.7-0.2l0.7-0.2l0.7 0.3l0.7 0.3l0.7 0l0.7-0.2l0.7-0.1l0.7 0l0.7 0l0.7 0l0.7 0l0.7 0.1l0.7 0.1l0.7 0.2l0.7-0.4l0.7-0.3l0.7 0l0.7 0.4l0.7 0.2l0.7-0.3l0.7-0.3l0.7-0.1l0.7-0.1l0.7 0l0.7 0.4l0.7 0.3l0.7-0.2l0.7-0.4l0.7-0.1l0.7 0.2l0.7 0.1l0.7 0.2l0.7 0.1l0.7 0l0.7-0.3l0.7-0.2l0.7 0.2l0.7 0.2l0.7 0.1l0.7-0.1l0.7 0l0.7 0l0.7 0.1l0.7-0.2l0.7-0.3l0.7 0l0.7 0.2l0.7 0.3l0.7 0l0.7 0.1l0.7-0.2l0.7-0.3l0.7-0.2l0.7 0.4l0.7 0.3l0.7 0.1l0.7 0l0.7 0l0.7-0.3l0.7-0.3l0.7 0.2l0.7 0.3l0.7 0.1l0.7 0l0.7 0l0.7-0.3l0.7-3.6l0.7-3.6l0.7-5.4l0.7-8.8l0.7-19.5l0.7-19.7l0.7-20l0.7-18.7l0.7-9.1l0.7-9.5l0.7-9.6l0.7-6.9l0.7-5.4l0.7-5.5l0.7-5.5l0.7-5.2l0.7-5.4l0.7-5.4l0.7-5.3l0.7-4.8l0.7-2.2l0.7-2.6l0.7-2.6l0.7-2.4l0.7-2.3l0.7-0.8l0.7-0.3l0.7-0.4l0.7-0.6l0.7-0.7l0.7-0.2l0.7 0.6l0.7 0.6l0.7 0.9l0.7 1l0.7 0.8l0.7 0.1l0.7 0.3l0.7 1.5l0.7 2.1l0.7 3.6l0.7 3.6l0.7 3.4l0.7 2.9l0.7 2.9l0.7 2.2l0.7 3.3l0.7 4l0.7 4.9l0.7 4.9l0.7 3.5l0.7 3.4l0.7 5.1l0.7 6.5l0.7 6.2l0.7 4.6l0.7 4.5l0.7 5.5l0.7 5.9l0.7 5.8l0.7 5.7l0.7 5.7l0.7 5.8l0.7 6l0.7 5.7l0.7 5.5l0.7 5.8l0.7 7.5l0.7 7.5l0.7 7.4l0.7 7.2l0.7 6.6l0.7 5.7l0.7 5.7l0.7 3.5l0.7 2l0.7 2.2l0.7 1.8l0.7 0l0.7 0l0.7 0l0.7 0l0.7 0.1l0.7 0l0.7 0.2l0.7 0.1l0.7-0.1l0.7-0.1l0.7-0.2l0.7 0l0.7 0l0.7 0l0.7 0.1l0.7 0l0.7-0.1l0.7 0l0.7-0.1l0.7 0l0.7-0.1l0.7 0l0.7-0.1l0.7 0.1l0.7 0.1l0.7 0l0.7-0.1l0.7-0.1l0.7 0.2l0.7 0.2l0.7 0.1l0.7 0.1l0.7 0.1l0.7-0.1l0.7 0l0.7 0l0.7 0l0.7-0.2l0.7-0.2l0.7-0.3l0.7 0l0.7-0.1l0.7 0l0.7 0.1l0.7 0.1l0.7 0.1l0.7 0.2l0.7-0.1l0.7-0.2l0.7-0.2l0.7 0l0.7 0l0.7 0.4l0.7 0.4l0.7 0.1l0.7-0.3l0.7-0.3l0.7-0.1l0.7-0.2l0.7 0.1l0.7 0.2l0.7 0.2l0.7 0.1l0.7 0l0.7 0l0.7-0.1l0.7-0.1l0.7-0.2l0.7-0.1l0.7 0.1l0.7 0.2l0.7 0l0.7-1.6l0.7-4.8l0.7-4.2l0.7-8.8l0.7-16.8l0.7-20l0.7-20.1l0.7-21.4l0.7-11.4l0.7-8.6l0.7-8.2l0.7-7.3l0.7-5.5l0.7-5.5l0.7-6l0.7-5.8l0.7-5.7l0.7-5.8l0.7-5.9l0.7-5.4l0.7-2.7l0.7-2l0.7-1.7l0.7-1.9l0.7-2.8l0.7-1.6l0.7-0.3l0.7 0.2l0.7-0.1l0.7-1.2l0.7-1.2l0.7 0.2l0.7 0.2l0.7 0.5l0.7 1.1l0.7 1.7l0.7 0.5l0.7 0.6l0.7 1.1l0.7 2.3l0.7 3.4l0.7 3.1l0.7 3.1l0.7 2.7l0.7 2.6l0.7 3.2l0.7 5.2l0.7 5.3l0.7 4.4l0.7 4.3l0.7 4l0.7 3.8l0.7 4.8l0.7 6l0.7 5.9l0.7 5.7l0.7 5.5l0.7 5.7l0.7 6.5l0.7 6.8l0.7 6.1l0.7 5.8l0.7 6l0.7 6.5l0.7 6.4l0.7 6.1l0.7 7.4l0.7 7.6l0.7 7.7l0.7 7.7l0.7 6.3l0.7 5l0.7 5.6l0.7 4.2l0.7 2.9l0.7 1.9l0.7 0.6l0.7 0.1l0.7 0.2l0.7 0.2l0.7-0.1l0.7 0l0.7-0.1l0.7-0.1l0.7-0.1l0.7-0.2l0.7-0.1l0.7 0.2l0.7 0.2l0.7 0.1l0.7 0l0.7 0l0.7 0l0.7 0l0.7-0.1l0.7-0.3l0.7-0.2l0.7 0.1l0.7 0.1l0.7 0.1l0.7 0.1l0.7 0.2l0.7 0.1l0.7 0.1l0.7-0.2l0.7-0.3l0.7 0l0.7 0.3l0.7 0.3l0.7 0l0.7 0l0.7-0.2l0.7-0.4l0.7-0.2l0.7 0.3l0.7 0.2l0.7 0l0.7-0.2l0.7-0.1l0.7-0.1l0.7-0.1l0.7 0l0.7 0l0.7 0.1l0.7 0.1l0.7 0l0.7-0.2l0.7-0.1l0.7 0.1l0.7 0.3l0.7 0.2l0.7-0.1l0.7-0.1l0.7 0l0.7-0.1l0.7 0.1l0.7 0.2l0.7 0.2l0.7 0.1l0.7 0l0.7-0.1l0.7-0.2l0.7-0.2l0.7-0.1l0.7 0l0.7 0l0.7 0.2l0.7 0l0.7-0.1l0.7 0l0.7 0.1l0.7-2.7l0.7-4.8l0.7-10.2l0.7-15.7l0.7-20.9l0.7-20.9l0.7-20.8l0.7-13.7l0.7-9.1l0.7-8.8l0.7-8.7l0.7-6l0.7-6l0.7-5.8l0.7-4.8l0.7-4.4l0.7-5.4l0.7-5.7l0.7-5.6l0.7-3.6l0.7-2.4l0.7-1.9l0.7-1.8l0.7-2.3l0.7-2l0.7-1.1l0.7-0.7l0.7-0.7l0.7-1.3l0.7-1.5l0.7-0.2l0.7 0.6l0.7 0.6l0.7 0.9l0.7 1.4l0.7 1.7l0.7 1.6l0.7 1.6l0.7 1.2l0.7 2.6l0.7 3.1l0.7 3.5l0.7 3.4l0.7 3.1l0.7 3.5l0.7 4.6l0.7 4.6l0.7 4.8l0.7 5l0.7 5l0.7 5.3l0.7 6.4l0.7 6.3l0.7 6.1l0.7 6l0.7 5.5l0.7 5.5l0.7 5.6l0.7 5.8l0.7 6l0.7 6.8l0.7 6.8l0.7 6.9l0.7 7l0.7 8.3l0.7 8.4l0.7 8.5l0.7 7.3l0.7 6.5l0.7 5.6l0.7 6.7l0.7 4.4l0.7 2.8l0.7 2.7l0.7-0.3l0.7-0.4l0.7-0.2l0.7 0.3l0.7 0.4l0.7 0l0.7-0.2l0.7 0l0.7 0.1l0.7 0.1l0.7 0l0.7-0.1l0.7-0.1l0.7 0l0.7 0l0.7 0.1l0.7 0.1l0.7 0l0.7 0l0.7-0.1l0.7-0.1l0.7-0.2l0.7-0.1l0.7 0l0.7 0.1l0.7 0.3l0.7 0.2l0.7-0.2l0.7-0.3l0.7-0.2l0.7 0.1l0.7 0l0.7-0.1l0.7-0.1l0.7 0l0.7 0.1l0.7 0.1l0.7 0.1l0.7 0.1l0.7-0.1l0.7-0.2l0.7 0l0.7 0.1l0.7 0.1l0.7 0l0.7 0.1l0.7 0l0.7-0.1l0.7-0.1l0.7 0.2l0.7 0.2l0.7 0l0.7-0.1l0.7-0.1l0.7-0.1l0.7-0.1l0.7 0.1l0.7 0.2l0.7 0.1l0.7-0.1l0.7-0.1l0.7 0l0.7-0.1l0.7-0.1l0.7-0.1l0.7-0.1l0.7 0.4l0.7 0.3l0.7 0l0.7-0.4l0.7-0.3l0.7 0.1l0.7 0.1l0.7 0.1l0.7 0.1l0.7 0.1l0.7-0.5l0.7-5.4l0.7-9.3l0.7-13.3l0.7-21.9l0.7-21.5l0.7-21.6l0.7-16.2l0.7-8.6l0.7-8.8l0.7-9l0.7-6.6l0.7-6.8l0.7-6.7l0.7-5.9l0.7-4.9l0.7-5.3l0.7-6.4l0.7-6.3l0.7-4l0.7-1.6l0.7-2.5l0.7-3.4l0.7-3.5l0.7-1.1l0.7 0l0.7-0.3l0.7-0.6l0.7-0.7l0.7-1.6l0.7-0.9l0.7 0.8l0.7 1.2l0.7 0.9l0.7 0.6l0.7 1.1l0.7 1.1l0.7 1.1l0.7 1.5l0.7 3.2l0.7 3.1l0.7 4.3l0.7 4.3l0.7 3.6l0.7 3.9l0.7 4.6l0.7 5.2l0.7 5.1l0.7 4.7l0.7 4.5l0.7 5.5l0.7 6.1l0.7 6.2l0.7 6.4l0.7 6.5l0.7 6.8l0.7 7.1l0.7 7.6l0.7 6.2l0.7 6.3l0.7 6.8l0.7 7.1l0.7 7.1l0.7 8.5l0.7 9l0.7 8.5l0.7 8.2l0.7 7.8l0.7 6.5l0.7 6.5l0.7 3.6l0.7 2.9l0.7 3l0.7 0.2l0.7 0.1l0.7-0.1l0.7-0.2l0.7-0.1l0.7 0l0.7 0l0.7 0.3l0.7 0.3l0.7-0.2l0.7-0.3l0.7-0.2l0.7 0.2l0.7 0.2l0.7 0l0.7 0l0.7-0.1l0.7-0.1l0.7-0.1l0.7 0.2l0.7 0.1l0.7 0.1l0.7 0l0.7 0l0.7-0.1l0.7-0.1l0.7-0.1l0.7-0.1l0.7-0.1l0.7-0.1l0.7 0l0.7 0.2l0.7 0.4l0.7 0.2l0.7 0l0.7 0.1l0.7-0.3l0.7-0.4l0.7-0.1l0.7 0l0.7 0.1l0.7 0.1l0.7 0.2l0.7 0l0.7 0.1l0.7 0.1l0.7 0l0.7 0l0.7 0l0.7 0l0.7-0.1l0.7 0l0.7-0.1l0.7 0l0.7 0l0.7-0.2l0.7-0.2l0.7-0.2l0.7 0.2l0.7 0.2l0.7 0.1l0.7 0.1l0.7 0l0.7-0.2l0.7-0.1l0.7-0.1l0.7 0l0.7 0l0.7 0.1l0.7 0.1l0.7 0l0.7 0.1l0.7-0.1l0.7-0.3l0.7-0.1l0.7 0.3l0.7 0.3l0.7 0.1l0.7-4.6l0.7-8.7l0.7-11.1l0.7-22.2l0.7-22.2l0.7-22.1l0.7-20.8l0.7-9.8l0.7-9.7l0.7-9.3l0.7-7.6l0.7-5.9l0.7-5.7l0.7-5.8l0.7-6.7l0.7-6.4l0.7-5.5l0.7-5.1l0.7-5.2l0.7-3.4l0.7-3.3l0.7-2.6l0.7-2.3l0.7-2.3l0.7-0.6l0.7-0.5l0.7-1.3l0.7-1.3l0.7-1l0.7-0.6l0.7 0.6l0.7 1.2l0.7 1.2l0.7 0.8l0.7 1.1l0.7 1.3l0.7 2l0.7 2.4l0.7 3.3l0.7 3.2l0.7 3.4l0.7 3.9l0.7 3.8l0.7 5.5l0.7 6.1l0.7 5.4l0.7 4.9l0.7 4.9l0.7 4.8l0.7 6.2l0.7 6.9l0.7 7.3l0.7 7l0.7 6.5l0.7 6.4l0.7 7.2l0.7 7.4l0.7 7.6l0.7 8.1l0.7 8l0.7 6.9l0.7 7.7l0.7 9.2l0.7 9.4l0.7 9.4l0.7 8.4l0.7 6.5l0.7 6.7l0.7 3.9l0.7 3.4l0.7 3.2l0.7 0.2l0.7-0.1l0.7-0.1l0.7-0.1l0.7 0.1l0.7 0.1l0.7 0l0.7 0.1l0.7-0.1l0.7-0.1l0.7-0.1l0.7 0l0.7 0l0.7 0l0.7 0l0.7 0.1l0.7 0.3l0.7 0.4l0.7-0.2l0.7-0.3l0.7-0.1l0.7 0.1l0.7 0l0.7 0.1l0.7 0.2l0.7 0l0.7 0l0.7 0l0.7 0l0.7 0l0.7 0l0.7 0.1l0.7 0l0.7-0.1l0.7-0.2l0.7-0.2l0.7-0.1l0.7 0l0.7 0.2l0.7 0.2l0.7-0.1l0.7-0.1l0.7 0.1l0.7 0.2l0.7 0.1l0.7-0.3l0.7-0.3l0.7 0.1l0.7 0.2l0.7 0.1l0.7-0.3l0.7-0.3l0.7 0.1l0.7 0.1l0.7 0.1l0.7 0l0.7 0l0.7-0.1l0.7-0.1l0.7 0.1l0.7 0.3l0.7 0.3l0.7 0l0.7 0l0.7-0.2l0.7-0.2l0.7-0.2l0.7 0.2l0.7 0.2l0.7 0.1l0.7 0.1l0.7 0l0.7-0.1l0.7-0.2l0.7-0.1l0.7 0l0.7 0l0.7 0.1l0.7 0.1l0.7-1.7l0.7-9.9l0.7-10.8l0.7-19.1l0.7-22.6l0.7-22.8l0.7-22.8l0.7-12.3l0.7-10.5l0.7-10l0.7-8.6l0.7-6.1l0.7-6.8l0.7-6.8l0.7-6.4l0.7-5.8l0.7-5.9l0.7-6.3l0.7-6.4l0.7-2.7l0.7-2l0.7-2.3l0.7-3.3l0.7-3.3l0.7-1.1l0.7-0.5l0.7-0.6l0.7-0.8l0.7-0.8l0.7-1.5l0.7-0.2l0.7 0.9l0.7 1.5l0.7 1.5l0.7 1.3l0.7 1.3l0.7 1.2l0.7 1.4l0.7 3.9l0.7 5l0.7 5l0.7 4l0.7 3.9l0.7 5.4l0.7 6l0.7 5.9l0.7 5.4l0.7 5.4l0.7 6l0.7 7.2l0.7 7.2l0.7 7.8l0.7 7.7l0.7 7.1l0.7 7l0.7 7.6l0.7 8l0.7 8.1l0.7 7.9l0.7 7.9l0.7 8.5l0.7 10l0.7 9.9l0.7 10.8l0.7 10.1l0.7 7.2l0.7 6.6l0.7 3.6l0.7 3.6l0.7 1.8l0.7-0.1l0.7 0l0.7-0.1l0.7 0l0.7 0l0.7-0.1l0.7 0l0.7 0.1l0.7 0.3l0.7 0.3l0.7-0.1l0.7-0.1l0.7-0.1l0.7-0.1l0.7-0.1l0.7 0.1l0.7 0l0.7 0.1l0.7 0.1l0.7 0.1l0.7-0.3l0.7-0.2l0.7 0l0.7-0.1l0.7 0.1l0.7 0l0.7 0.1l0.7 0l0.7 0l0.7 0.1l0.7 0.2l0.7 0.1l0.7 0l0.7 0.1l0.7 0l0.7-0.1l0.7 0l0.7-0.1l0.7 0l0.7-0.1l0.7-0.1l0.7-0.1l0.7-0.1l0.7-0.2l0.7 0.3l0.7 0.4l0.7 0.1l0.7 0l0.7-0.1l0.7-0.1l0.7-0.2l0.7 0l0.7 0.1l0.7 0.1l0.7 0.1l0.7 0.1l0.7-0.2l0.7-0.3l0.7-0.1l0.7 0.1l0.7 0.1l0.7 0.2l0.7 0.2l0.7-0.1l0.7-0.4l0.7-0.2l0.7-0.1l0.7 0l0.7 0.2l0.7 0.4l0.7 0.2l0.7 0l0.7 0l0.7-0.4l0.7-0.3l0.7-0.1l0.7 0.2l0.7 0.2l0.7 0.1l0.7 0l0.7 0l0.7-7.9l0.7-11.2l0.7-16.6l0.7-23.4l0.7-23.4l0.7-23.3l0.7-15.6l0.7-10.1l0.7-10l0.7-10.1l0.7-6.7l0.7-7l0.7-7.3l0.7-7.3l0.7-5.9l0.7-6l0.7-5.9l0.7-5.9l0.7-3.8l0.7-1.8l0.7-1.7l0.7-2.8l0.7-3.1l0.7-2.2l0.7-0.7l0.7-0.7l0.7-0.5l0.7-0.5l0.7-1.1l0.7-0.9l0.7-0.5l0.7 0.7l0.7 0.6l0.7 1.8l0.7 1.8l0.7 2l0.7 2.9l0.7 5l0.7 4.3l0.7 4l0.7 3.9l0.7 3.5l0.7 5.3l0.7 5.8l0.7 6l0.7 6l0.7 6.2l0.7 7.4l0.7 8.7l0.7 8.7l0.7 7.8l0.7 7.2l0.7 7.4l0.7 8.8l0.7 9l0.7 8.6"/>
<path class="c" stroke="#00ff00" d="M229.2 1009.6l0.7-7l0.7-7.1l0.7-6.9l0.7-6.9l0.7-6.9l0.7-7.2l0.7-7.1l0.7-7.7l0.7-7.8l0.7-7.5l0.7-6.8l0.7-6.7l0.7-6.3l0.7-6.2l0.7-6.4l0.7-6.8l0.7-6.6l0.7-6.1l0.7-6l0.7-5.6l0.7-5.3l0.7-5.1l0.7-4.6l0.7-4.5l0.7-4.5l0.7-4.5l0.7-4l0.7-3l0.7-2.8l0.7-3.1l0.7-3l0.7-2.5l0.7-2l0.7-1.7l0.7-1.9l0.7-1.6l0.7-1.5l0.7-1.1l0.7-0.9l0.7-0.5l0.7-0.3l0.7 0.4l0.7 0.8l0.7 1.3l0.7 2.1l0.7 2.5l0.7 1.7l0.7 1.9l0.7 2.1l0.7 2.1l0.7 2.4l0.7 3.8l0.7 4.1l0.7 4.3l0.7 4.4l0.7 4.7l0.7 4.7l0.7 4.9l0.7 5.1l0.7 5.3l0.7 5.6l0.7 5.7l0.7 6l0.7 5.6l0.7 5.7l0.7 6.2l0.7 6.8l0.7 6.8l0.7 6.1l0.7 6.1l0.7 7.1l0.7 7.9l0.7 7.7l0.7 7.1l0.7 7l0.7 7l0.7 7l0.7 7.1l0.7 7.4l0.7 7.4l0.7 7.8l0.7 7.8l0.7 7.3l0.7 6.5l0.7 6.5l0.7 7.1l0.7 7.1l0.7 6.8l0.7 6.7l0.7 6.7l0.7 6.8l0.7 6.7l0.7 5.7l0.7 5.2l0.7 5.1l0.7 5.3l0.7 5.2l0.7 5.1l0.7 5l0.7 5l0.7 5l0.7 4.8l0.7 3l0.7 2.7l0.7 3.4l0.7 3.7l0.7 3.3l0.7 2.4l0.7 2.1l0.7 1.8l0.7 1.4l0.7 1.2l0.7 1l0.7 0.6l0.7 0.6l0.7 0.4l0.7-0.4l0.7-1.1l0.7-1.4l0.7-0.8l0.7-1.1l0.7-1.5l0.7-1.9l0.7-2.2l0.7-3l0.7-3.2l0.7-2.9l0.7-3l0.7-3.4l0.7-4.2l0.7-4.5l0.7-4.7l0.7-5l0.7-5.1l0.7-5.1l0.7-5.3l0.7-5.3l0.7-5.5l0.7-5.6l0.7-5.7l0.7-5.9l0.7-6.2l0.7-6.4l0.7-7l0.7-7.2l0.7-7.4l0.7-7.5l0.7-7.7l0.7-6.7l0.7-6.5l0.7-6.7l0.7-7l0.7-6.9l0.7-8.4l0.7-8.4l0.7-7.6l0.7-6.9l0.7-7l0.7-7.6l0.7-7.6l0.7-6.7l0.7-6.2l0.7-6.5l0.7-7.4l0.7-7.2l0.7-5.6l0.7-5.3l0.7-5.9l0.7-6.6l0.7-6.5l0.7-5.4l0.7-5.1l0.7-5.3l0.7-5.4l0.7-5l0.7-4.5l0.7-4.3l0.7-4.3l0.7-4.2l0.7-3.5l0.7-2.1l0.7-1.9l0.7-3.2l0.7-3.1l0.7-2.6l0.7-1.8l0.7-1.5l0.7-1.1l0.7-0.8l0.7-0.6l0.7-0.5l0.7-0.2l0.7 0.5l0.7 0.8l0.7 0.9l0.7 1.2l0.7 1.7l0.7 2.7l0.7 3l0.7 2.4l0.7 2.6l0.7 2.6l0.7 2.5l0.7 2.7l0.7 4.5l0.7 4.8l0.7 4l0.7 3.5l0.7 4l0.7 5.7l0.7 5.9l0.7 5.9l0.7 5.9l0.7 5.9l0.7 5.2l0.7 5.4l0.7 6.1l0.7 6.4l0.7 6.9l0.7 7.6l0.7 7.6l0.7 6.8l0.7 6.9l0.7 7.3l0.7 7.6l0.7 7.5l0.7 6.2l0.7 6.3l0.7 7.1l0.7 7.3l0.7 7.3l0.7 7.2l0.7 7.2l0.7 7.5l0.7 7.5l0.7 7.1l0.7 6.7l0.7 6.6l0.7 7.5l0.7 7.4l0.7 6.5l0.7 5.8l0.7 5.7l0.7 6.6l0.7 6.4l0.7 5.9l0.7 5.7l0.7 5.2l0.7 4.6l0.7 4.4l0.7 5.2l0.7 5.2l0.7 4.8l0.7 4.3l0.7 4.1l0.7 2.7l0.7 2.3l0.7 2.7l0.7 2.7l0.7 2.4l0.7 1.8l0.7 1.6l0.7 1.9l0.7 1.8l0.7 1.3l0.7 0.4l0.7 0l0.7 0l0.7-0.3l0.7-0.9l0.7-1.8l0.7-2l0.7-1.8l0.7-2l0.7-2.4l0.7-2.9l0.7-3.1l0.7-3l0.7-3.2l0.7-2.8l0.7-2.8l0.7-3.5l0.7-4.8l0.7-5.1l0.7-5.1l0.7-5.2l0.7-5.6l0.7-5.8l0.7-6.1l0.7-4.9l0.7-5.1l0.7-6.4l0.7-7.5l0.7-7.4l0.7-5.9l0.7-6l0.7-6.8l0.7-7l0.7-7.1l0.7-7l0.7-7.1l0.7-7.2l0.7-7.3l0.7-7.3l0.7-7.5l0.7-7.4l0.7-7.5l0.7-7.4l0.7-7.5l0.7-7.3l0.7-7.2l0.7-6.7l0.7-6.5l0.7-7.3l0.7-7.7l0.7-7.2l0.7-6.3l0.7-6.2l0.7-5.6l0.7-5.5l0.7-5.4l0.7-5.6l0.7-5.3l0.7-5.6l0.7-5.3l0.7-5.4l0.7-5.4l0.7-4.9l0.7-3.1l0.7-2.9l0.7-3.2l0.7-3.1l0.7-3.1l0.7-3.4l0.7-3.1l0.7-2.4l0.7-2l0.7-1.7l0.7-1.3l0.7-1.1l0.7-0.3l0.7-0.1l0.7-0.3l0.7-0.3l0.7 0l0.7 0.8l0.7 1.1l0.7 2.2l0.7 2.8l0.7 2.6l0.7 1.7l0.7 1.9l0.7 2.8l0.7 3.2l0.7 3.3l0.7 3.5l0.7 3.7l0.7 3.9l0.7 4.1l0.7 4.6l0.7 4.9l0.7 5.2l0.7 5.3l0.7 5.6l0.7 6.3l0.7 6.8l0.7 6.7l0.7 6.4l0.7 6.5l0.7 6.8l0.7 6.9l0.7 7l0.7 6.9l0.7 7.1l0.7 6.1l0.7 6.1l0.7 6.7l0.7 7.1l0.7 7.3l0.7 8.2l0.7 8.2l0.7 7.2l0.7 6.8l0.7 7.2l0.7 8l0.7 8l0.7 6.8l0.7 6.5l0.7 6.6l0.7 6.8l0.7 6.7l0.7 6.6l0.7 6.4l0.7 6.3l0.7 6l0.7 5.9l0.7 6.1l0.7 6l0.7 5.1l0.7 4.8l0.7 4.9l0.7 5.8l0.7 5.5l0.7 4.2l0.7 3.8l0.7 3.7l0.7 3.5l0.7 3.3l0.7 3.1l0.7 2.8l0.7 2.2l0.7 1.8l0.7 1.6l0.7 1.7l0.7 1.5l0.7 0.9l0.7 0.3l0.7 0.1l0.7-0.3l0.7-0.7l0.7-1.1l0.7-1.5l0.7-1.3l0.7-0.9l0.7-1.2l0.7-2.1l0.7-2.4l0.7-2.5l0.7-2.8l0.7-3l0.7-3.3l0.7-3.6l0.7-4.3l0.7-4.5l0.7-5l0.7-5.4l0.7-5.7l0.7-5.3l0.7-5.5l0.7-5.2l0.7-4.8l0.7-5l0.7-6.2l0.7-6.3l0.7-6.8l0.7-7.3l0.7-7.3l0.7-7.3l0.7-7.4l0.7-7.1l0.7-7.1l0.7-7.1l0.7-7.3l0.7-7.3l0.7-6.4l0.7-6.4l0.7-7l0.7-8l0.7-8l0.7-7.2l0.7-7.1l0.7-6.9l0.7-6.7l0.7-6.7l0.7-7.7l0.7-7.5l0.7-6.6l0.7-6.3l0.7-6.1l0.7-6.2l0.7-6.1l0.7-6.1l0.7-5.9l0.7-5.8l0.7-5.7l0.7-5.6l0.7-4.5l0.7-4.3l0.7-4.5l0.7-4.6l0.7-4.2l0.7-3.4l0.7-3.2l0.7-3l0.7-2.7l0.7-2.6l0.7-2.5l0.7-2.3l0.7-0.9l0.7-0.4l0.7-0.7l0.7-1.1l0.7-0.9l0.7 0.1l0.7 0.4l0.7 0.5l0.7 0.8l0.7 0.9l0.7 0.5l0.7 0.8l0.7 1.6l0.7 2l0.7 2.7l0.7 3.8l0.7 4.2l0.7 2.9l0.7 3l0.7 3.7l0.7 4.3l0.7 4.6l0.7 4.8l0.7 5.1l0.7 4.8l0.7 4.7l0.7 4.9l0.7 6.1l0.7 6.2l0.7 5.8l0.7 5.9l0.7 6.1l0.7 6.4l0.7 6.6l0.7 6.6l0.7 6.6l0.7 7l0.7 7.3l0.7 7.5l0.7 7.2l0.7 7.3l0.7 7.7l0.7 7.9l0.7 7.8l0.7 7.1l0.7 7l0.7 7.5l0.7 7.6l0.7 7.3l0.7 6.5l0.7 6.5l0.7 6.8l0.7 6.8l0.7 6.9l0.7 7.1l0.7 7l0.7 6l0.7 5.8l0.7 6.3l0.7 6.4l0.7 6.2l0.7 5l0.7 4.8l0.7 4.8l0.7 4.7l0.7 4.7l0.7 5l0.7 4.7l0.7 3.3l0.7 2.9l0.7 3.2l0.7 3.7l0.7 3.4l0.7 2.1l0.7 1.8l0.7 1.5l0.7 1.2l0.7 1l0.7 1.7l0.7 1.4l0.7 0.6l0.7 0l0.7-0.4l0.7-1.1l0.7-1.5l0.7-0.8l0.7-1l0.7-1.5l0.7-2l0.7-2.3l0.7-2.3l0.7-2.5l0.7-3.4l0.7-4.1l0.7-4.2l0.7-3.5l0.7-3.8l0.7-3.9l0.7-4.2l0.7-4.9l0.7-6.3l0.7-6.6l0.7-5l0.7-4.9l0.7-5.6l0.7-6.6l0.7-6.7l0.7-6.3l0.7-6.4l0.7-6.8l0.7-7.1l0.7-7.1l0.7-6.8l0.7-6.9l0.7-7.1l0.7-7.2l0.7-7.1l0.7-6.8l0.7-6.8l0.7-7.3l0.7-7.4l0.7-7.3l0.7-7.2l0.7-7.2l0.7-7.2l0.7-7l0.7-7.5l0.7-7.7l0.7-7.4l0.7-6.2l0.7-6.1l0.7-6.3l0.7-6.2l0.7-6.3l0.7-7l0.7-6.7l0.7-5.1l0.7-4.7l0.7-4.8l0.7-5.2l0.7-4.9l0.7-5l0.7-4.8l0.7-3.9l0.7-3.2l0.7-3l0.7-3.2l0.7-2.9l0.7-2.7l0.7-2.4l0.7-2.3l0.7-2.7l0.7-2.3l0.7-0.3l0.7 0.3l0.7-0.3l0.7-1l0.7-0.7l0.7 0.9l0.7 1.2l0.7 0.7l0.7 0.4l0.7 0.9l0.7 2.4l0.7 2.7l0.7 2l0.7 2.1l0.7 2.6l0.7 3.9l0.7 4.1l0.7 4l0.7 4.2l0.7 4.2l0.7 4.2l0.7 4.5l0.7 5.4l0.7 5.6l0.7 5.4l0.7 5.4l0.7 5.5l0.7 5.4l0.7 5.7l0.7 6.2l0.7 6.4l0.7 6.6l0.7 6.8l0.7 6.9l0.7 7.3l0.7 7.4l0.7 7.6l0.7 8l0.7 8l0.7 6.5l0.7 6.6l0.7 7.4l0.7 7.9l0.7 7.8l0.7 7.1l0.7 7.1l0.7 7.2l0.7 7.3l0.7 7.1l0.7 7l0.7 6.8l0.7 6.4l0.7 6.1l0.7 6.6l0.7 7.3l0.7 7.1l0.7 5.5l0.7 5.4l0.7 5.8l0.7 6.2l0.7 5.8l0.7 3.9l0.7 3.8l0.7 4.4l0.7 4.6l0.7 4.3l0.7 3.9l0.7 3.7l0.7 4.1l0.7 3.9l0.7 2.9l0.7 1.8l0.7 1.5l0.7 2.4l0.7 2.1l0.7 1.7l0.7 1.2l0.7 0.9l0.7 0.5l0.7 0.1l0.7-0.3l0.7-0.7l0.7-0.7l0.7-0.3l0.7-0.6l0.7-1.9l0.7-2.5l0.7-2.7l0.7-2.8l0.7-3.2l0.7-2.6l0.7-2.8l0.7-3.7l0.7-4.5l0.7-4.5l0.7-3.7l0.7-3.9l0.7-5.1l0.7-5.7l0.7-5.5l0.7-4.6l0.7-4.8l0.7-6.6l0.7-7.1l0.7-6.7l0.7-6.1l0.7-6.2l0.7-6.8l0.7-6.9l0.7-6.7l0.7-6.5l0.7-6.8l0.7-7.3l0.7-7.5l0.7-7.3l0.7-7.2l0.7-7.3l0.7-7.3l0.7-7.4l0.7-7.1l0.7-7.1l0.7-7.4l0.7-7.6l0.7-7.6l0.7-7l0.7-6.9l0.7-6.9l0.7-6.9l0.7-6.7l0.7-6.7l0.7-6.5l0.7-5.8l0.7-5.5l0.7-5.3l0.7-5.3l0.7-5.1l0.7-5.3l0.7-5l0.7-4.9l0.7-4.5l0.7-4.3l0.7-5.2l0.7-4.9l0.7-3.6l0.7-2.5l0.7-2.6l0.7-3.5l0.7-3.3l0.7-1.8l0.7-0.9l0.7-1l0.7-1.2l0.7-1l0.7-1.1l0.7-0.8l0.7-0.1l0.7 0.9l0.7 1.1l0.7 0.2l0.7 0.5l0.7 1.2l0.7 1.8l0.7 2.1l0.7 2l0.7 2.4l0.7 3.2l0.7 3.8l0.7 3.7l0.7 3.4l0.7 3.7l0.7 4.1l0.7 4.4l0.7 4.6l0.7 4.8l0.7 5.1l0.7 5.7l0.7 6l0.7 5.5l0.7 5.1l0.7 5.4l0.7 7l0.7 7.2l0.7 6.2l0.7 6.1l0.7 6.3l0.7 7.1l0.7 7.3l0.7 6.9l0.7 6.9l0.7 7.4l0.7 7.9l0.7 7.9l0.7 7.9l0.7 7.9l0.7 7l0.7 6.4l0.7 6.5l0.7 7.2l0.7 7l0.7 7.5l0.7 7.6l0.7 7.1l0.7 6.2l0.7 6.1l0.7 6.9l0.7 6.9l0.7 6.6l0.7 6.3l0.7 6.1l0.7 5.3l0.7 5.2l0.7 5.8l0.7 6.2l0.7 5.7l0.7 4.2l0.7 3.9l0.7 4.2l0.7 4.3l0.7 3.8l0.7 2.9l0.7 2.6l0.7 3.8l0.7 3.7l0.7 2.6l0.7 1.1l0.7 0.8l0.7 1.9l0.7 1.5l0.7 0.8l0.7 0.1l0.7-0.1l0.7 0.1l0.7-0.2l0.7-0.7l0.7-0.9l0.7-1.2l0.7-1.2l0.7-1.5l0.7-2.4l0.7-2.8l0.7-2.7l0.7-2.5l0.7-2.8l0.7-3.4l0.7-3.6l0.7-4.3l0.7-4.8l0.7-4.8l0.7-4l0.7-4.3l0.7-5.7l0.7-6.3l0.7-6l0.7-5.2l0.7-5.4l0.7-5.9l0.7-6l0.7-6.4l0.7-6.9l0.7-7l0.7-7.6l0.7-7.7l0.7-7.4l0.7-7l0.7-7.2l0.7-7.2l0.7-7.4l0.7-7.2l0.7-7.3l0.7-7.1l0.7-6.8l0.7-6.9l0.7-6.7l0.7-6.7l0.7-7.2l0.7-7.8l0.7-7.8l0.7-7l0.7-7l0.7-7.6l0.7-7.9l0.7-7.5l0.7-6l0.7-5.6l0.7-6.5l0.7-6.8l0.7-6.5l0.7-5.7l0.7-4.7l0.7-4.3l0.7-4l0.7-3.9l0.7-1.9l0.7-0.8l0.7-0.6l0.7-0.6l0.7 0l0.7 1.7l0.7 2l0.7 0.8l0.7 0.8l0.7 0.5l0.7 3.1l0.7 3.6l0.7 4.4l0.7 4.5l0.7 3.5l0.7 3.4l0.7 3.2l0.7 3l0.7 0.9l0.7 2.4l0.7 2.5l0.7 1.3l0.7 0.3l0.7 0l0.7 1l0.7 1.1l0.7 0.5l0.7 0.3l0.7 0.5l0.7 0.7l0.7 0.8l0.7 2.4l0.7 2.4l0.7 2l0.7 3.3l0.7 8.2l0.7 7.7l0.7 7.7l0.7 10.7l0.7 16.2l0.7 16.1l0.7 19.2l0.7 22.1l0.7 22.1l0.7 24.2l0.7 26l0.7 116.1l0.7 18.6l0.7-5.3l0.7-34.9l0.7-34.4l0.7-25.2l0.7-3l0.7-4.4l0.7-2.1l0.7 1.8l0.7 1.9l0.7 11l0.7 12.9l0.7 12.8l0.7-1.4l0.7-1.8l0.7-1.5l0.7-0.3l0.7 5.3l0.7 5.7l0.7 5.5l0.7 9.3l0.7 12l0.7 12l0.7 5.6l0.7 2.4l0.7 1.7l0.7 1.2l0.7 1.3l0.7 2.2l0.7 1.4l0.7 0.5l0.7 0.5l0.7 0.3l0.7-0.4l0.7-0.4l0.7 0.6l0.7-0.3l0.7-0.9l0.7-1.7l0.7-1.9l0.7-4.5l0.7-4.4l0.7-4.5l0.7-4.6l0.7-4.6l0.7-4.5l0.7-4.6l0.7-4.8l0.7-4.8l0.7-4.8l0.7-4.6l0.7-5.2l0.7-5.4l0.7-5.4l0.7-5.6l0.7-5.8l0.7-5.9l0.7-4.8l0.7-4.9l0.7-5.8l0.7-6.5l0.7-6.2l0.7-5l0.7-5l0.7-6.3l0.7-7l0.7-6.8l0.7-6l0.7-6l0.7-5.6l0.7-5.6l0.7-6.1l0.7-6.5l0.7-6.6l0.7-6.6l0.7-6.5l0.7-6.2l0.7-5.9l0.7-6l0.7-6.7l0.7-6.3l0.7-6.2l0.7-6.2l0.7-5.8l0.7-4.9l0.7-4.9l0.7-6.2l0.7-6.4l0.7-6.4l0.7-6.5l0.7-6.4l0.7-6.8l0.7-6.9l0.7-6.3l0.7-6l0.7-5l0.7-5.7l0.7-5.7l0.7-5.3l0.7-5.3l0.7-3.2l0.7-2.3l0.7-2.3l0.7-3.9l0.7-3l0.7-1.1l0.7-0.8l0.7-0.8l0.7 0.1l0.7 0.9l0.7 1.3l0.7 0.8l0.7 1l0.7 1.3l0.7 3.2l0.7 3.5l0.7 3.3l0.7 3.6l0.7 4.1l0.7 4.1l0.7 3.6l0.7 3.5l0.7 2l0.7 1.3l0.7 1.2l0.7 1.3l0.7 1.2l0.7 1.4l0.7 1.5l0.7 1.4l0.7 0.5l0.7 0.4l0.7 0.5l0.7 0.3l0.7 0.2l0.7 1.2l0.7 1.4l0.7 2.1l0.7 2.2l0.7 8.1l0.7 8l0.7 8l0.7 7.7l0.7 14.7l0.7 15.7l0.7 17.9l0.7 23.4l0.7 22.7l0.7 23.6l0.7 27l0.7 83.8l0.7 62.3l0.7 1l0.7-28l0.7-34.1l0.7-34.2l0.7-5.8l0.7-3.7l0.7-3.4l0.7 2l0.7 2l0.7 7.8l0.7 12l0.7 12.1l0.7 3.6l0.7-0.6l0.7-1.1l0.7-1.4l0.7 2.4l0.7 5.5l0.7 5.5l0.7 7.4l0.7 11.2l0.7 11l0.7 7.9l0.7 2.5l0.7 2l0.7 2l0.7 1.5l0.7 1.1l0.7 1.1l0.7 0.5l0.7 0.5l0.7 0.1l0.7-0.1l0.7 0.2l0.7 0.7l0.7-0.8l0.7-0.8l0.7-0.8l0.7-1.4l0.7-5.1l0.7-5.6l0.7-4l0.7-4l0.7-4.6l0.7-5l0.7-4.9l0.7-4.7l0.7-4.7l0.7-4.4l0.7-4.3l0.7-5.4l0.7-6.5l0.7-6.5l0.7-5.9l0.7-5.9l0.7-5.6l0.7-5.4l0.7-5.4l0.7-7l0.7-6.9l0.7-6.6l0.7-6.3l0.7-6.2l0.7-5.8l0.7-5.9l0.7-6.5l0.7-6.6l0.7-6.7l0.7-6.7l0.7-6.7l0.7-6.7l0.7-6.6l0.7-6.3l0.7-5.8l0.7-5.8l0.7-7.2l0.7-7.1l0.7-6.9l0.7-6.2l0.7-6l0.7-5.3l0.7-5.4l0.7-5.7l0.7-6l0.7-6.3l0.7-6.5l0.7-6.5l0.7-6.1l0.7-6l0.7-6.6l0.7-7.4l0.7-7.3l0.7-5.9l0.7-4.8l0.7-4.8l0.7-4.7l0.7-4.8l0.7-4.8l0.7-3.3l0.7-4.1l0.7-4.5l0.7-4l0.7-1.1l0.7 0.1l0.7-1l0.7-1.3l0.7-0.9l0.7 0.8l0.7 1.5l0.7 1.7l0.7 1.7l0.7 1.4l0.7 3l0.7 3.8l0.7 3l0.7 3l0.7 3.6l0.7 3.8l0.7 4l0.7 4.4l0.7 3.6l0.7 1.1l0.7 0.9l0.7 1.1l0.7 1.4l0.7 1.4l0.7 0.2l0.7 0.2l0.7 0.6l0.7 0.9l0.7 0.8l0.7 0.4l0.7 0.2l0.7 0.2l0.7 0.8l0.7 1.7l0.7 2l0.7 1.9l0.7 6l0.7 8.5l0.7 8.3l0.7 8.2l0.7 12.6l0.7 15.2l0.7 15.2l0.7 22.2l0.7 22.7l0.7 22.8l0.7 27.1l0.7 49.8l0.7 108.8l0.7 1.7l0.7-15.6l0.7-32.2l0.7-32.2l0.7-14.9l0.7-4.3l0.7-4.6l0.7-0.2l0.7 1.7l0.7 5.3l0.7 12.6l0.7 12.3l0.7 7.6l0.7-1.1l0.7-1.6l0.7-1.7l0.7 0.4l0.7 6.2l0.7 6.3l0.7 6.5l0.7 8.8l0.7 8.5l0.7 8.2l0.7 2.1l0.7 2.2l0.7 2.2l0.7 1.3l0.7 1.3l0.7 1.8l0.7 0.6l0.7 0.3l0.7 1l0.7 1.1l0.7 0.3l0.7 0.1l0.7-1l0.7-2l0.7-2l0.7-1.7l0.7-3.7l0.7-4.9l0.7-4.7l0.7-4.6l0.7-4.5l0.7-4.4l0.7-4.9l0.7-5.3l0.7-5.2l0.7-4.5l0.7-4.6l0.7-6.2l0.7-6.8l0.7-6.5l0.7-5.5l0.7-5.6l0.7-6.6l0.7-6.9l0.7-6.3l0.7-5.5l0.7-5.6l0.7-7.3l0.7-7.4l0.7-7l0.7-6.9l0.7-6.9l0.7-6l0.7-5.9l0.7-7.1l0.7-7.5l0.7-7.4l0.7-6.8l0.7-6.8l0.7-7.1l0.7-7.3l0.7-7l0.7-6.8l0.7-6.9l0.7-5.9l0.7-5.9l0.7-6l0.7-6.3l0.7-6.2l0.7-5.9l0.7-6.2l0.7-6.6l0.7-6.7l0.7-6.6l0.7-6.3l0.7-6.2l0.7-6.9l0.7-6.9l0.7-6.3l0.7-4.8l0.7-4.7l0.7-5.2l0.7-5.2l0.7-4.6l0.7-3.2l0.7-3.2l0.7-3.8l0.7-3.8l0.7-1.9l0.7-1.3l0.7-1.1l0.7-0.2l0.7-0.2l0.7 1.5l0.7 1.9l0.7 1.8l0.7 1.4l0.7 1.4l0.7 2.3l0.7 3.1l0.7 3.6l0.7 4l0.7 3.9l0.7 4.1l0.7 4.2l0.7 3.7l0.7 3.3l0.7 1.4l0.7 1.1l0.7 1.1l0.7 1.6l0.7 1.7l0.7 1.2l0.7 0.8l0.7 0.8l0.7 1.2l0.7 1.2l0.7 0.5l0.7 0l0.7-0.1l0.7 0.9l0.7 1.2l0.7 2l0.7 1.7l0.7 1.5l0.7 2.8l0.7 7.1l0.7 8.5l0.7 8.7l0.7 10.1l0.7 13.8l0.7 13.7l0.7 20.1l0.7 23.6l0.7 23.2l0.7 25.6l0.7 27.9l0.7 126.8l0.7 17.9l0.7-4.8l0.7-31.4l0.7-31.2l0.7-22.8l0.7-4l0.7-4.4l0.7-1.5l0.7 2.4l0.7 2l0.7 10.7l0.7 12.1l0.7 11.8l0.7-0.7l0.7-0.4l0.7-0.7l0.7-2.1l0.7 4.5l0.7 6.3l0.7 6.7l0.7 6.6l0.7 6.4l0.7 6.5l0.7 3.5l0.7 2.3l0.7 1.9l0.7 1.6l0.7 1.6l0.7 2.3l0.7 1.5l0.7 0.2l0.7 0l0.7 0.2l0.7 1l0.7 1l0.7-0.1l0.7-1.6l0.7-1.5l0.7-1.4l0.7-2.6l0.7-5.6l0.7-5.7l0.7-5.6l0.7-5.7l0.7-5.7l0.7-4l0.7-4.1l0.7-5.3l0.7-6.1l0.7-6l0.7-6.1l0.7-6.3l0.7-6.6l0.7-6.7l0.7-6.5l0.7-6l0.7-6l0.7-6.4l0.7-6.5l0.7-6.4l0.7-6.6l0.7-6.5l0.7-7.3l0.7-7.5l0.7-7.7l0.7-7.9l0.7-7.6l0.7-6.3l0.7-6.2l0.7-7.7l0.7-8.2l0.7-7.9l0.7-7.1l0.7-7.1l0.7-7.2l0.7-7.2l0.7-6.1l0.7-5.4l0.7-5.5l0.7-6.9l0.7-6.9l0.7-6.4l0.7-6.1l0.7-6.2l0.7-7l0.7-7l0.7-6.9l0.7-6.7l0.7-6.6l0.7-6.3l0.7-5.9l0.7-6.1l0.7-6.2l0.7-5.9l0.7-5.4l0.7-4.6l0.7-2.9l0.7-2.8l0.7-3.6l0.7-4l0.7-1l0.7-0.9l0.7-0.9l0.7-0.4l0.7-0.3l0.7 2l0.7 1.8l0.7 1.9l0.7 1.7l0.7 1.7l0.7 3.2l0.7 3.9l0.7 3.9l0.7 4.3l0.7 4.2l0.7 3.5l0.7 3.2l0.7 3.3l0.7 4l0.7 2.4l0.7 2.2l0.7 2.1l0.7 2.1l0.7 1.7l0.7 1.7l0.7-0.2l0.7-0.4l0.7 0.2l0.7 1l0.7 1l0.7 0.7l0.7 0.7l0.7 0.3l0.7 0.3l0.7 0.3l0.7 1.4l0.7 1.7l0.7 1.6l0.7 1.6l0.7 7.5l0.7 7.9l0.7 7.9l0.7 7.5l0.7 13.9l0.7 14.4l0.7 17.2l0.7 24l0.7 22.5l0.7 23.8l0.7 29l0.7 92.7l0.7 65.7l0.7 0.3l0.7-26.6l0.7-29.7l0.7-29.2l0.7-5.1l0.7-5.1l0.7-4.6l0.7 3l0.7 3.1l0.7 8.2l0.7 11.6l0.7 11.6l0.7 2.6l0.7-1.3l0.7-1.1l0.7-0.9l0.7 3.5l0.7 6.1l0.7 6l0.7 6.2l0.7 4.8l0.7 4.8l0.7 3.9l0.7 2.4l0.7 1.8l0.7 1.7l0.7 2.3l0.7 3.1l0.7 2.7l0.7-0.2l0.7-0.1l0.7 0.1l0.7 0.3l0.7 0.4l0.7 0.4l0.7-1.3l0.7-1.4l0.7-1.3l0.7-2.1l0.7-6.4l0.7-6.4l0.7-5.5l0.7-5.4l0.7-5.4l0.7-5.6l0.7-5.5l0.7-4.4l0.7-4.4l0.7-5.4l0.7-7.4l0.7-7.3l0.7-6.4l0.7-6.5l0.7-7.2l0.7-7.5l0.7-7.1l0.7-6.2l0.7-6.3l0.7-7.9l0.7-8.2l0.7-7.5l0.7-6.5l0.7-6.9l0.7-8.5l0.7-8.4l0.7-7.4l0.7-6.6l0.7-6.9l0.7-8.2l0.7-8.2l0.7-7.5l0.7-7.3l0.7-7.4l0.7-7.6l0.7-6.8l0.7-6.9l0.7-6.9l0.7-6.6l0.7-6.2l0.7-6.2l0.7-7.4l0.7-7.3l0.7-6.5l0.7-5.8l0.7-6l0.7-7.2l0.7-7.2l0.7-7.1l0.7-6.6l0.7-5.7l0.7-5.4l0.7-5.5l0.7-5.6l0.7-4.4l0.7-3.9l0.7-4.1l0.7-4l0.7-2.9l0.7-0.3l0.7-0.3l0.7-0.2l0.7-0.3l0.7-0.2l0.7 2l0.7 2.5l0.7 2.8l0.7 2.4l0.7 1.9l0.7 3.4l0.7 4.5l0.7 4.5l0.7 4.1l0.7 3.6l0.7 3l0.7 4.4l0.7 4.3l0.7 3.9l0.7 2.6l0.7 1.7l0.7 1.9l0.7 2l0.7 2l0.7 2l0.7 1.6l0.7 1.1l0.7 1.1l0.7 0.7l0.7 0.6l0.7 0.7l0.7 0.8l0.7 0.6l0.7 0.2l0.7 0.2l0.7 0.6l0.7 1.6l0.7 2.1l0.7 0.8l0.7 0.8l0.7 5.3l0.7 7.7l0.7 7.5l0.7 7.2l0.7 11.2l0.7 12.8l0.7 12.7l0.7 23.1l0.7 24.4l0.7 24.4l0.7 30.1l0.7 57.3l0.7 118.8l0.7 1.2l0.7-16.9l0.7-32.6l0.7-32.7l0.7-15.6l0.7-5.7l0.7-5.5l0.7 0.8l0.7 3l0.7 5.2l0.7 12l0.7 12.2l0.7 7.4l0.7-1.1l0.7-0.9l0.7-0.8l0.7 0.7l0.7 6.8l0.7 6.9l0.7 7.3l0.7 4.4l0.7 3.5l0.7 3.1l0.7 2l0.7 2.7l0.7 2.7l0.7 2.1l0.7 2l0.7 2l0.7 0.5l0.7 0l0.7 1l0.7 0.9l0.7 0.2l0.7-0.3l0.7-1.5l0.7-1.4l0.7-1.4l0.7-1.8l0.7-5.7l0.7-5.9l0.7-5.3l0.7-5.3l0.7-6.3l0.7-6.4l0.7-6.2l0.7-5.9l0.7-6l0.7-5.2l0.7-6.5l0.7-7.1l0.7-7.4l0.7-7.4l0.7-7.1l0.7-7.1l0.7-7.9l0.7-8.4l0.7-8l0.7-6.8l0.7-6.8l0.7-8.4l0.7-8.7l0.7-8.2l0.7-7.1l0.7-7l0.7-8.2l0.7-8.2l0.7-8.3l0.7-8.2l0.7-8.3l0.7-8.7l0.7-8.7l0.7-8l0.7-6.8l0.7-6.3l0.7-6.2l0.7-6.3l0.7-7l0.7-7.1l0.7-7.3l0.7-7.1l0.7-7.1l0.7-7.8l0.7-7.9l0.7-7.4l0.7-7l0.7-6.9l0.7-5.7l0.7-5.1l0.7-5.7l0.7-6l0.7-6l0.7-4.3l0.7-3.9l0.7-4.1l0.7-4.3l0.7-2.7l0.7-0.5l0.7-0.5l0.7 0.1l0.7 0.2l0.7 0.4l0.7 1.8l0.7 2l0.7 3.3l0.7 3.2l0.7 1.9l0.7 3l0.7 4l0.7 5.1l0.7 5l0.7 4.8l0.7 4.2l0.7 4.2l0.7 4.1l0.7 4.1l0.7 3.8l0.7 2.3l0.7 2.1l0.7 2.1l0.7 2.1l0.7 2.1l0.7 2.2l0.7 0.3l0.7-0.1l0.7 0.2l0.7 0.9l0.7 0.9l0.7 0.9l0.7 0.9l0.7 0.7l0.7 0.2l0.7 0.3l0.7 0.8l0.7 1.1l0.7 1.6l0.7 1.2l0.7 1.3l0.7 3.3l0.7 7.1l0.7 6.8l0.7 6.7l0.7 8.6l0.7 12.7l0.7 12.7l0.7 19.4l0.7 24l0.7 24.6l0.7 29.6l0.7 32.8l0.7 145l0.7 17.7l0.7-5.6l0.7-33.2l0.7-33.1l0.7-24.4l0.7-5.1l0.7-5.8l0.7-2.5l0.7 2.7l0.7 3.1l0.7 11.7l0.7 12.3l0.7 11.7l0.7-1.4l0.7-1.5l0.7-1.5l0.7-1.1l0.7 6.6l0.7 7.4l0.7 7.4l0.7 5.4l0.7 3.8l0.7 3.9l0.7 2.4l0.7 1.9l0.7 2.3l0.7 3.1l0.7 3l0.7 1.8l0.7 0.5l0.7-0.1l0.7 0.5l0.7 0.4l0.7 0.5l0.7 0.5l0.7 0l0.7-1.2l0.7-1.5l0.7-2.5l0.7-5.4l0.7-6l0.7-5.6l0.7-5.8l0.7-6.6l0.7-6.6l0.7-6.2l0.7-6.1l0.7-6.5l0.7-7l0.7-8.4l0.7-7l0.7-7l0.7-7.7l0.7-8.3l0.7-8.3l0.7-8.9l0.7-9l0.7-7.9l0.7-7.4l0.7-7.8l0.7-8.8l0.7-9.1l0.7-8.6l0.7-8.3l0.7-8.7l0.7-9l0.7-9l0.7-8.3l0.7-8.4l0.7-8.6l0.7-8.7l0.7-8.8l0.7-8l0.7-7.3l0.7-7l0.7-6.9l0.7-7.1l0.7-8l0.7-8.2l0.7-6.6l0.7-6.4l0.7-6.8l0.7-7.4l0.7-7.4l0.7-7l0.7-7.1l0.7-6.5l0.7-6.3l0.7-6.2l0.7-6.2l0.7-6.3l0.7-4.1l0.7-3.8l0.7-3.9l0.7-4.3l0.7-2.2l0.7-0.8l0.7-0.7l0.7-0.5l0.7 0l0.7 2l0.7 2.2l0.7 2.2l0.7 2.2l0.7 2.4l0.7 2.3l0.7 4.2l0.7 4.8l0.7 5.2l0.7 5.2l0.7 5.2l0.7 4.5l0.7 4.4l0.7 4.3l0.7 4.4l0.7 4l0.7 2l0.7 1.7l0.7 2.9l0.7 3l0.7 2.8l0.7 2.9l0.7 2l0.7 0.7l0.7 0.7l0.7 0.8l0.7 0.9l0.7 0.9l0.7 0.7l0.7 0.7l0.7 0.8l0.7 0.6l0.7 0l0.7-0.8l0.7-0.9l0.7 2.1l0.7 2.2l0.7 1.7l0.7 1.4l0.7 6.1l0.7 6.1l0.7 6l0.7 6.5l0.7 12.2l0.7 12l0.7 15.2l0.7 24.6l0.7 24.8l0.7 27l0.7 33.5l0.7 108.6l0.7 73.4l0.7 1.5l0.7-30l0.7-34.3l0.7-34.3l0.7-6l0.7-5.9l0.7-5.1l0.7 3.7l0.7 4l0.7 8.9l0.7 11.4l0.7 11.3l0.7 3.1l0.7-0.5l0.7-1.1l0.7-1.7l0.7 3.4l0.7 7.2l0.7 7.1l0.7 6.6l0.7 3.9l0.7 3.8l0.7 2.5l0.7 2l0.7 2l0.7 1.9l0.7 2.3l0.7 3.5l0.7 3l0.7-0.2l0.7-0.5l0.7 0l0.7 0.7l0.7 0.6l0.7 0.4l0.7-1.7l0.7-1.8l0.7-1.8l0.7-3.8l0.7-6.8l0.7-6.7l0.7-6.7l0.7-6.5l0.7-6.7l0.7-6.7l0.7-6.8l0.7-7.4l0.7-7.9l0.7-8.6l0.7-7.9l0.7-7.9l0.7-8.5l0.7-8.5l0.7-8.7l0.7-9.4l0.7-9.2l0.7-8.5l0.7-8.5l0.7-8.5l0.7-8.7l0.7-9.2l0.7-9.9l0.7-9.8l0.7-9.6l0.7-9.5l0.7-9.3l0.7-9.2l0.7-9.2l0.7-9.1l0.7-9.2l0.7-8.1l0.7-7l0.7-7.1l0.7-7.3l0.7-7.2l0.7-7.9l0.7-8.3l0.7-8.1l0.7-7.7l0.7-7.7l0.7-7.5l0.7-7.6l0.7-7.3l0.7-7l0.7-6l0.7-6.2l0.7-6.3l0.7-6.6l0.7-6.9l0.7-4.7l0.7-3.6l0.7-3.6l0.7-4.3l0.7-1.7l0.7-0.7l0.7-0.2l0.7-0.1l0.7-1l0.7 1.7l0.7 2.9l0.7 3.5l0.7 3.4l0.7 2.6l0.7 2.6l0.7 4.1l0.7 4.8l0.7 4.9l0.7 5.7l0.7 5.7l0.7 4.3l0.7 3.8l0.7 4l0.7 4.9l0.7 5l0.7 3.1l0.7 2.1l0.7 2.2l0.7 2.2l0.7 2.2l0.7 2.7l0.7 2.6l0.7 1.4l0.7 1.6l0.7 1.3l0.7 0.2l0.7 0.3l0.7 0.5l0.7 0.8l0.7 1.1l0.7 1.3l0.7 1.2l0.7-0.6l0.7-0.8l0.7-0.4l0.7 0.9l0.7 1.5l0.7 1.7l0.7 1.7l0.7 4.9l0.7 6.7l0.7 6.7l0.7 6.6l0.7 10.3l0.7 11.2l0.7 10.8l0.7 24l0.7 25.5l0.7 25.5l0.7 34.4l0.7 66.8l0.7 130.7l0.7 1.1l0.7-18.3l0.7-33.5l0.7-33.4l0.7-15.9l0.7-6.5l0.7-6.4l0.7 1l0.7 3.4l0.7 6.4l0.7 13l0.7 12.6l0.7 6.2l0.7-2.3l0.7-1.5l0.7-1.4l0.7 1l0.7 8l0.7 8l0.7 7.7l0.7 1.5l0.7 1l0.7 1l0.7 2.3l0.7 2.7l0.7 2.7l0.7 2.4l0.7 2.4l0.7 2.5l0.7 1.1l0.7 0.7l0.7 0.5l0.7 0.5l0.7 0.3l0.7 0.1l0.7-1.4l0.7-2.6l0.7-2.6l0.7-2.7l0.7-6.4l0.7-6.5l0.7-6.9l0.7-7l0.7-7.5l0.7-7.7l0.7-7.5l0.7-6.7l0.7-7.3l0.7-8.2l0.7-8.3l0.7-8.5l0.7-9.1l0.7-9l0.7-9.5l0.7-9.9l0.7-9.7l0.7-9.6l0.7-9.6l0.7-9.5l0.7-10l0.7-10.1l0.7-10.1l0.7-10l0.7-9.7l0.7-9.6l0.7-9.5l0.7-9.4l0.7-9.7l0.7-9.7l0.7-8.8l0.7-7.9l0.7-8l0.7-7.5l0.7-7.2l0.7-7.3l0.7-7.9l0.7-7.9l0.7-7.5"/>
<path class="c" stroke="#ff0000" d="M229.2 1135.6l0.7 4.7l0.7 4.4l0.7 3.8l0.7 3.2l0.7 2.8l0.7 2.3l0.7 2l0.7 2.1l0.7 2l0.7 2l0.7 2.1l0.7 1.8l0.7 1.1l0.7 0.6l0.7 0.3l0.7-0.1l0.7-0.4l0.7-0.8l0.7-1.2l0.7-1.3l0.7-1.4l0.7-1.7l0.7-2.1l0.7-2.4l0.7-2.6l0.7-3l0.7-3.4l0.7-4.3l0.7-4.5l0.7-3.8l0.7-3.9l0.7-4.4l0.7-5l0.7-5.2l0.7-5.1l0.7-5.3l0.7-5.6l0.7-6l0.7-6.1l0.7-6.6l0.7-6.8l0.7-6l0.7-5.7l0.7-6.2l0.7-7.2l0.7-7.3l0.7-6.8l0.7-6.7l0.7-7.4l0.7-8.3l0.7-8.3l0.7-7.3l0.7-7.3l0.7-7.3l0.7-7.3l0.7-7.1l0.7-6.4l0.7-6.3l0.7-7.2l0.7-7.5l0.7-7.3l0.7-6.6l0.7-6.5l0.7-7.3l0.7-7.4l0.7-6.6l0.7-5.4l0.7-5.2l0.7-6.8l0.7-6.5l0.7-5.3l0.7-4.3l0.7-4.3l0.7-5.3l0.7-5.2l0.7-4.1l0.7-3.6l0.7-3.7l0.7-4l0.7-3.8l0.7-3.2l0.7-2.9l0.7-2.8l0.7-2.7l0.7-2.6l0.7-1l0.7-0.8l0.7-0.7l0.7-0.7l0.7-0.3l0.7-0.3l0.7-0.1l0.7 0.5l0.7 0.9l0.7 1.2l0.7 1.6l0.7 1.9l0.7 1.8l0.7 2l0.7 2.4l0.7 2.7l0.7 3.1l0.7 3.2l0.7 3.5l0.7 3.8l0.7 4.1l0.7 4.3l0.7 5l0.7 5.2l0.7 5.3l0.7 5.5l0.7 5.6l0.7 5.6l0.7 5.7l0.7 5.4l0.7 5.5l0.7 6l0.7 6.8l0.7 6.9l0.7 7.2l0.7 7.4l0.7 7.1l0.7 7.1l0.7 7.2l0.7 7.6l0.7 7.7l0.7 7.5l0.7 7.4l0.7 7.4l0.7 7.3l0.7 7.2l0.7 6.9l0.7 6.9l0.7 7.1l0.7 7.3l0.7 7.2l0.7 7.1l0.7 7.1l0.7 6.3l0.7 5.8l0.7 5.7l0.7 6.6l0.7 6.4l0.7 5.8l0.7 5.5l0.7 5.6l0.7 6.2l0.7 6l0.7 5.5l0.7 5.2l0.7 4.3l0.7 3.1l0.7 3l0.7 3.9l0.7 3.8l0.7 3.4l0.7 3.1l0.7 2.9l0.7 3.1l0.7 2.9l0.7 1.7l0.7 1.1l0.7 0.8l0.7 0.7l0.7 0.5l0.7 0.5l0.7 0.3l0.7-0.2l0.7-0.7l0.7-1l0.7-1.2l0.7-1.5l0.7-1.5l0.7-1.7l0.7-2l0.7-2.5l0.7-2.8l0.7-3.5l0.7-4l0.7-4l0.7-3.6l0.7-3.9l0.7-5l0.7-5.3l0.7-4.9l0.7-4l0.7-4.2l0.7-6.7l0.7-6.8l0.7-6.1l0.7-5.6l0.7-5.7l0.7-6l0.7-6l0.7-7.2l0.7-7.7l0.7-7.5l0.7-7.1l0.7-7.2l0.7-6.7l0.7-6.6l0.7-7.2l0.7-7.6l0.7-7.7l0.7-7.6l0.7-7.6l0.7-7.2l0.7-6.9l0.7-6.9l0.7-6.8l0.7-6.9l0.7-7l0.7-7.2l0.7-7.1l0.7-7.3l0.7-7.1l0.7-6.1l0.7-5.7l0.7-5.7l0.7-5.7l0.7-5.4l0.7-6.5l0.7-6.3l0.7-5.3l0.7-4.4l0.7-4.2l0.7-4.7l0.7-4.4l0.7-3.9l0.7-3.6l0.7-3.5l0.7-3.8l0.7-3.6l0.7-2.6l0.7-2.3l0.7-1.9l0.7-1.6l0.7-1.3l0.7-0.6l0.7-0.2l0.7-0.6l0.7-0.8l0.7-0.5l0.7 0.3l0.7 0.6l0.7 1.3l0.7 1.8l0.7 1.7l0.7 1.1l0.7 1.4l0.7 2.5l0.7 3l0.7 3.3l0.7 3.5l0.7 3.9l0.7 3.5l0.7 3.9l0.7 4.4l0.7 4.9l0.7 5l0.7 5.1l0.7 5.2l0.7 5.1l0.7 5l0.7 5.5l0.7 6l0.7 6.2l0.7 7l0.7 7.4l0.7 6.9l0.7 6.3l0.7 6.4l0.7 6.6l0.7 6.8l0.7 6.9l0.7 7.1l0.7 7.3l0.7 7.7l0.7 7.8l0.7 7.8l0.7 7.9l0.7 7.5l0.7 6.5l0.7 6.5l0.7 7.9l0.7 8.2l0.7 7.1l0.7 5.8l0.7 5.7l0.7 7.5l0.7 7.4l0.7 6.9l0.7 6.6l0.7 6.3l0.7 5.9l0.7 5.7l0.7 5.4l0.7 5.2l0.7 5.1l0.7 5.1l0.7 5l0.7 4.9l0.7 4.7l0.7 4.5l0.7 4.3l0.7 4.1l0.7 2.8l0.7 2.5l0.7 2.5l0.7 2.5l0.7 2.1l0.7 2.1l0.7 1.7l0.7 1.9l0.7 1.8l0.7 1.1l0.7-0.5l0.7-0.8l0.7-0.4l0.7-0.5l0.7-0.5l0.7-0.2l0.7-0.4l0.7-2.6l0.7-3l0.7-2.1l0.7-1.7l0.7-2.1l0.7-3.3l0.7-3.7l0.7-3.4l0.7-3.5l0.7-4.1l0.7-5.2l0.7-5.5l0.7-4.4l0.7-4.4l0.7-5.4l0.7-6.4l0.7-6.7l0.7-5.1l0.7-5.2l0.7-6.2l0.7-7l0.7-7l0.7-6.5l0.7-6.6l0.7-6.6l0.7-6.6l0.7-6.8l0.7-7.4l0.7-7.4l0.7-7.5l0.7-7.6l0.7-7.5l0.7-7.6l0.7-7.5l0.7-6.8l0.7-6.7l0.7-7.2l0.7-7.6l0.7-7.5l0.7-7.3l0.7-7.3l0.7-6.8l0.7-6.6l0.7-6.3l0.7-6l0.7-5.9l0.7-6.9l0.7-6.9l0.7-6.3l0.7-5.3l0.7-5.1l0.7-4.7l0.7-4.6l0.7-4.6l0.7-4.7l0.7-4.5l0.7-4.3l0.7-4l0.7-3.9l0.7-3.7l0.7-3.3l0.7-2.8l0.7-2.6l0.7-1.8l0.7-1.4l0.7-1.1l0.7-1l0.7-0.6l0.7-1.1l0.7-0.9l0.7 0.2l0.7 1l0.7 1.2l0.7 0.5l0.7 0.8l0.7 1.3l0.7 1.5l0.7 2l0.7 2.8l0.7 3l0.7 2.5l0.7 2.6l0.7 3.4l0.7 4.5l0.7 4.8l0.7 3.5l0.7 3.9l0.7 4.2l0.7 4.5l0.7 4.9l0.7 6.6l0.7 6.9l0.7 5.7l0.7 5.3l0.7 5.9l0.7 6.8l0.7 7l0.7 5.8l0.7 5.7l0.7 6.3l0.7 7.1l0.7 7.1l0.7 7.5l0.7 7.6l0.7 7.6l0.7 7.9l0.7 7.6l0.7 6.3l0.7 6.3l0.7 7.5l0.7 7.9l0.7 7.7l0.7 7.6l0.7 7.4l0.7 6.8l0.7 6.6l0.7 6.7l0.7 6.9l0.7 6.8l0.7 7.2l0.7 7l0.7 6.3l0.7 5.7l0.7 5.5l0.7 6l0.7 5.8l0.7 5.4l0.7 5.2l0.7 5l0.7 5l0.7 4.8l0.7 3.6l0.7 3.3l0.7 3.5l0.7 3.7l0.7 3.4l0.7 2.5l0.7 2.3l0.7 2.2l0.7 2.2l0.7 2l0.7 2.1l0.7 1.7l0.7 1.2l0.7 0.7l0.7 0.2l0.7-0.9l0.7-1.1l0.7-0.3l0.7-0.5l0.7-1.1l0.7-1.8l0.7-2.1l0.7-2l0.7-2.3l0.7-2.8l0.7-3.5l0.7-3.6l0.7-3.6l0.7-3.8l0.7-4.2l0.7-4.5l0.7-4.6l0.7-4.5l0.7-4.6l0.7-5.7l0.7-6l0.7-5.6l0.7-4.8l0.7-5.1l0.7-6.9l0.7-7.1l0.7-6.6l0.7-6.2l0.7-6.3l0.7-7.1l0.7-7.1l0.7-7.3l0.7-7.3l0.7-7.1l0.7-6.6l0.7-6.5l0.7-7.3l0.7-7.5l0.7-7.5l0.7-7.4l0.7-7.5l0.7-8l0.7-8l0.7-7.3l0.7-6.7l0.7-6.6l0.7-6.6l0.7-6.6l0.7-7.1l0.7-7.3l0.7-6.6l0.7-5.5l0.7-5.4l0.7-5.6l0.7-5.6l0.7-5.4l0.7-5.1l0.7-4.9l0.7-5.5l0.7-5.2l0.7-5l0.7-4.7l0.7-4.4l0.7-3.4l0.7-3.2l0.7-2.5l0.7-2l0.7-2.3l0.7-3l0.7-2.8l0.7-1.3l0.7-0.8l0.7-0.7l0.7-0.7l0.7-0.4l0.7-0.4l0.7-0.1l0.7 0.6l0.7 1.2l0.7 1.3l0.7 0.5l0.7 0.9l0.7 2.1l0.7 2.9l0.7 2.9l0.7 2.6l0.7 2.8l0.7 3.8l0.7 4.3l0.7 4l0.7 3.5l0.7 3.9l0.7 4.4l0.7 4.6l0.7 5.1l0.7 5.5l0.7 5.7l0.7 6l0.7 6.1l0.7 5.8l0.7 5.7l0.7 6.3l0.7 7.5l0.7 7.7l0.7 6.7l0.7 6.6l0.7 6.7l0.7 6.7l0.7 6.7l0.7 7.6l0.7 7.7l0.7 7.7l0.7 7.8l0.7 7.7l0.7 6.9l0.7 6.8l0.7 7l0.7 7l0.7 7.1l0.7 7.5l0.7 7.4l0.7 7.1l0.7 7l0.7 6.8l0.7 6.5l0.7 6.5l0.7 5.7l0.7 5.6l0.7 5.6l0.7 5.6l0.7 5.5l0.7 5.9l0.7 5.6l0.7 5.2l0.7 5l0.7 4.8l0.7 4.8l0.7 4.6l0.7 3.1l0.7 2.6l0.7 3.1l0.7 4l0.7 3.7l0.7 1.4l0.7 1.2l0.7 1.6l0.7 1.9l0.7 1.5l0.7 1.1l0.7 0.8l0.7 0.8l0.7 0.7l0.7 0.2l0.7-0.5l0.7-0.8l0.7-2.2l0.7-2.6l0.7-2.3l0.7-1.9l0.7-2.2l0.7-2.3l0.7-2.6l0.7-3.2l0.7-3.7l0.7-3.8l0.7-3.1l0.7-3.4l0.7-4.6l0.7-5.1l0.7-5.4l0.7-5.5l0.7-5.8l0.7-5.3l0.7-5.5l0.7-5.7l0.7-6.1l0.7-6.2l0.7-6.2l0.7-6.4l0.7-6.6l0.7-6.8l0.7-7l0.7-7.6l0.7-7.7l0.7-7l0.7-6.9l0.7-6.9l0.7-7l0.7-7.1l0.7-7.8l0.7-7.9l0.7-7.5l0.7-7l0.7-7l0.7-7.5l0.7-7.5l0.7-7.2l0.7-7.1l0.7-7l0.7-6.9l0.7-6.8l0.7-6.6l0.7-6.5l0.7-6.1l0.7-5.7l0.7-5.5l0.7-5.5l0.7-5.4l0.7-5l0.7-4.7l0.7-4.4l0.7-4.4l0.7-4.1l0.7-3.9l0.7-3.7l0.7-3.4l0.7-3.1l0.7-2.8l0.7-2.8l0.7-2.6l0.7-2.3l0.7-1.8l0.7-1.5l0.7-1.1l0.7-0.7l0.7-0.4l0.7-0.2l0.7 0.2l0.7 0.5l0.7 0.9l0.7 0.6l0.7 0.5l0.7 1.1l0.7 2.6l0.7 2.9l0.7 2.1l0.7 1.9l0.7 2.3l0.7 3.1l0.7 3.3l0.7 4.7l0.7 5l0.7 4.6l0.7 3.9l0.7 4.1l0.7 5.8l0.7 6l0.7 5.4l0.7 5.1l0.7 5.3l0.7 6l0.7 6.2l0.7 6.9l0.7 7.1l0.7 7.1l0.7 6.6l0.7 6.7l0.7 6.2l0.7 6.2l0.7 7.2l0.7 8.3l0.7 8.3l0.7 6.4l0.7 6.4l0.7 7.3l0.7 7.9l0.7 7.9l0.7 7.7l0.7 7.6l0.7 7.2l0.7 7.1l0.7 6.8l0.7 6.6l0.7 6.5l0.7 7.2l0.7 7.3l0.7 6.7l0.7 6.1l0.7 5.9l0.7 5.5l0.7 5.4l0.7 6l0.7 6.4l0.7 6l0.7 4.6l0.7 4.4l0.7 4.3l0.7 4l0.7 4l0.7 4.1l0.7 3.7l0.7 3.2l0.7 2.8l0.7 2.8l0.7 3l0.7 2.7l0.7 2l0.7 1.6l0.7 1.1l0.7 0.6l0.7 0.3l0.7 0.8l0.7 0.5l0.7-0.2l0.7-0.7l0.7-0.7l0.7-0.3l0.7-0.5l0.7-2.3l0.7-2.9l0.7-2.5l0.7-2.1l0.7-2.3l0.7-3l0.7-3.4l0.7-3.6l0.7-4l0.7-4.2l0.7-4.7l0.7-5l0.7-5.1l0.7-5.2l0.7-5.6l0.7-5.8l0.7-6l0.7-5.7l0.7-5.9l0.7-5.8l0.7-5.6l0.7-5.8l0.7-7.4l0.7-7.4l0.7-7.1l0.7-6.6l0.7-6.9l0.7-7.5l0.7-7.5l0.7-7.6l0.7-7.6l0.7-7.4l0.7-6.9l0.7-6.9l0.7-6.6l0.7-6.6l0.7-7.2l0.7-7.9l0.7-7.9l0.7-7.2l0.7-7l0.7-6.8l0.7-6.4l0.7-6.4l0.7-6.8l0.7-6.6l0.7-6.4l0.7-6.2l0.7-5.9l0.7-5.5l0.7-5.2l0.7-4.7l0.7-4.4l0.7-4.8l0.7-5.5l0.7-5.3l0.7-4.1l0.7-3.8l0.7-3.1l0.7-2.5l0.7-2.4l0.7-3.5l0.7-3.1l0.7-2.4l0.7-1.9l0.7-1.6l0.7-1.1l0.7-0.8l0.7 0l0.7 0.5l0.7 0.4l0.7 0.3l0.7 0.7l0.7 0.8l0.7 1.2l0.7 1l0.7 1l0.7 1.5l0.7 3.1l0.7 3.4l0.7 2.4l0.7 2.1l0.7 2.9l0.7 4.3l0.7 4.5l0.7 4.4l0.7 4.6l0.7 4.7l0.7 4.8l0.7 5.1l0.7 6l0.7 6.3l0.7 5.9l0.7 5.7l0.7 5.9l0.7 5.9l0.7 6.1l0.7 6.8l0.7 7l0.7 7.1l0.7 7l0.7 7l0.7 6.5l0.7 6.3l0.7 6.9l0.7 7.6l0.7 7.6l0.7 7.3l0.7 7.4l0.7 7.8l0.7 8.1l0.7 7.9l0.7 7.1l0.7 7.1l0.7 6.6l0.7 6.3l0.7 6.7l0.7 7.7l0.7 7.6l0.7 5.7l0.7 5.3l0.7 5.8l0.7 6.5l0.7 6.3l0.7 5.6l0.7 5.4l0.7 5.5l0.7 5.6l0.7 5.4l0.7 5.2l0.7 4.9l0.7 4.3l0.7 3.9l0.7 3.3l0.7 2.5l0.7 2.3l0.7 3l0.7 2.9l0.7 2.7l0.7 2.7l0.7 2.5l0.7 0.9l0.7 0.4l0.7 0.8l0.7 0.9l0.7 0.4l0.7-0.9l0.7-1.7l0.7-1.8l0.7-2.1l0.7-2.3l0.7-2.6l0.7-2.6l0.7-2.9l0.7-2.5l0.7-1.8l0.7-1.7l0.7-1.5l0.7 0.2l0.7 0.2l0.7-1l0.7-2.5l0.7-2.4l0.7-2l0.7-2.4l0.7-4l0.7-4.2l0.7-4l0.7-3l0.7-2.5l0.7-2.3l0.7-2.3l0.7-1.9l0.7-0.5l0.7-0.5l0.7-1.3l0.7-1.4l0.7-0.7l0.7-0.3l0.7-0.2l0.7-1.5l0.7-1.4l0.7-0.8l0.7-0.4l0.7-0.3l0.7 0l0.7 0l0.7-0.3l0.7-0.4l0.7-1l0.7-2l0.7-18.8l0.7-20.8l0.7-20.7l0.7-20.7l0.7-20.8l0.7-21.7l0.7-27.4l0.7-27.5l0.7-27.8l0.7-30.9l0.7-48.7l0.7-36.9l0.7 0l0.7 17.7l0.7 29.9l0.7 29.3l0.7 24.3l0.7-0.5l0.7 1.4l0.7 1.5l0.7-10.4l0.7-17.3l0.7-16.5l0.7 1.9l0.7 1.9l0.7 1.6l0.7 1.5l0.7 1.5l0.7-9.4l0.7-9.8l0.7-10.3l0.7-10.3l0.7-9.8l0.7-1.2l0.7-0.3l0.7-1.1l0.7-1.1l0.7-1.1l0.7-1.2l0.7 1l0.7 1.8l0.7 1.7l0.7 1.1l0.7 0.8l0.7 4.3l0.7 7.7l0.7 7.7l0.7 6.9l0.7 7.9l0.7 10.1l0.7 10.3l0.7 10.3l0.7 10.7l0.7 12.7l0.7 12.5l0.7 12.3l0.7 11.2l0.7 11.6l0.7 11.7l0.7 11l0.7 9.7l0.7 9.9l0.7 10l0.7 10.1l0.7 11.5l0.7 11.7l0.7 11.3l0.7 9l0.7 7.8l0.7 8.2l0.7 8.2l0.7 7.9l0.7 7.2l0.7 7.1l0.7 6.3l0.7 6.4l0.7 5.5l0.7 4.5l0.7 4.9l0.7 6.1l0.7 6.1l0.7 5.3l0.7 3.6l0.7 3.7l0.7 3.7l0.7 3.8l0.7 4l0.7 3.9l0.7 2.8l0.7 2.2l0.7 2.3l0.7 2.8l0.7 2.8l0.7 2.5l0.7 1.3l0.7 0.4l0.7 0.9l0.7 0.8l0.7 0l0.7 0l0.7-0.2l0.7-0.9l0.7-0.8l0.7-0.2l0.7-0.1l0.7-0.2l0.7-0.5l0.7-2.1l0.7-2.5l0.7-2.5l0.7-2.6l0.7-2.3l0.7-2.4l0.7-2.5l0.7-2.4l0.7-0.8l0.7-0.7l0.7-0.9l0.7-0.9l0.7-0.9l0.7-0.2l0.7-1.7l0.7-2l0.7-2.1l0.7-2.1l0.7-2.8l0.7-2.8l0.7-3.6l0.7-3.9l0.7-3.2l0.7-2.7l0.7-2.7l0.7-2.9l0.7-1.2l0.7-1.1l0.7-1.4l0.7-1.3l0.7-0.5l0.7-0.5l0.7-0.1l0.7-0.1l0.7-0.1l0.7-0.4l0.7-0.5l0.7-0.3l0.7-0.4l0.7-0.7l0.7-1.4l0.7-1.3l0.7-0.7l0.7-0.5l0.7-11.5l0.7-20.5l0.7-20.4l0.7-20.7l0.7-20.6l0.7-21.1l0.7-28l0.7-29.3l0.7-27.7l0.7-27.7l0.7-46.1l0.7-50.4l0.7-4.6l0.7 7.8l0.7 30.3l0.7 29.8l0.7 29.7l0.7 2l0.7 1.4l0.7 1.4l0.7-11.8l0.7-18.4l0.7-15.3l0.7 1.1l0.7 1.3l0.7 2.3l0.7 2.2l0.7-0.6l0.7-9.1l0.7-9l0.7-8.7l0.7-8.7l0.7-6l0.7-0.1l0.7-0.4l0.7-0.9l0.7-0.8l0.7-1.2l0.7-0.2l0.7 0.9l0.7 0.7l0.7 0.9l0.7 1.4l0.7 1.9l0.7 7.1l0.7 7l0.7 7l0.7 7.4l0.7 10.3l0.7 10.2l0.7 10.1l0.7 10.5l0.7 13.1l0.7 13.7l0.7 13l0.7 12.3l0.7 11.3l0.7 11.2l0.7 11.2l0.7 10.7l0.7 10.5l0.7 9.9l0.7 9.7l0.7 10.7l0.7 12.3l0.7 12.2l0.7 10.1l0.7 8l0.7 7.8l0.7 7.8l0.7 7.4l0.7 7.5l0.7 7.5l0.7 7.1l0.7 6.9l0.7 6.5l0.7 5.9l0.7 5.8l0.7 5.4l0.7 5.2l0.7 5l0.7 3.1l0.7 2.9l0.7 4.2l0.7 4.4l0.7 3.8l0.7 2.9l0.7 2.2l0.7 3.1l0.7 3.1l0.7 3.1l0.7 2.9l0.7 2.8l0.7 0.8l0.7-0.2l0.7 0.8l0.7 1.2l0.7 0.9l0.7 0.3l0.7 0l0.7-1.1l0.7-1l0.7-0.5l0.7 0.3l0.7 0.2l0.7-1l0.7-2.8l0.7-3l0.7-3.2l0.7-3.1l0.7-2.3l0.7-2.4l0.7-2.1l0.7-2.1l0.7-0.8l0.7-0.3l0.7-0.3l0.7-0.4l0.7-0.5l0.7-0.9l0.7-2.2l0.7-2.8l0.7-3l0.7-2.9l0.7-3.1l0.7-3.4l0.7-3.4l0.7-3.1l0.7-2.9l0.7-2.2l0.7-2.1l0.7-2.4l0.7-3.2l0.7-1.6l0.7-0.5l0.7-0.4l0.7-0.8l0.7-1.6l0.7-1.5l0.7-0.1l0.7-0.2l0.7 0l0.7-0.1l0.7-0.1l0.7-0.5l0.7-0.6l0.7-1.3l0.7-1.6l0.7-1.3l0.7-0.5l0.7-0.5l0.7-4.9l0.7-20.1l0.7-20.1l0.7-20.1l0.7-20.1l0.7-20.1l0.7-24.7l0.7-29.4l0.7-29.2l0.7-29.4l0.7-41.4l0.7-52.9l0.7-21.8l0.7 0.2l0.7 29.5l0.7 32l0.7 31.9l0.7 8.3l0.7 0.9l0.7 0.7l0.7-12.3l0.7-19.1l0.7-14l0.7 1.1l0.7 1.8l0.7 2.4l0.7 2.4l0.7-2.1l0.7-7.2l0.7-7.5l0.7-7.7l0.7-7.4l0.7-3l0.7-0.4l0.7-1.6l0.7-1.9l0.7-1.2l0.7-0.3l0.7 1.7l0.7 1.4l0.7 1.4l0.7 1.5l0.7 1.6l0.7 5.2l0.7 6.1l0.7 6.1l0.7 7.6l0.7 9.9l0.7 11l0.7 10l0.7 10l0.7 11.9l0.7 13.6l0.7 13.3l0.7 12.6l0.7 11.4l0.7 11.9l0.7 12l0.7 10.8l0.7 9.7l0.7 9.9l0.7 11.5l0.7 11.8l0.7 11.4l0.7 10.9l0.7 11l0.7 9.1l0.7 9.1l0.7 8.1l0.7 7.9l0.7 6.7l0.7 6.9l0.7 7l0.7 7.4l0.7 7.2l0.7 5.9l0.7 5.9l0.7 5.9l0.7 5.8l0.7 5.8l0.7 3.9l0.7 3.3l0.7 3.3l0.7 3.6l0.7 3.6l0.7 4.5l0.7 3.8l0.7 2.9l0.7 2.4l0.7 2.4l0.7 2.2l0.7 2.3l0.7 1.7l0.7 0.8l0.7 0.8l0.7 0.1l0.7 0.1l0.7 0.7l0.7 0.5l0.7-0.7l0.7-1l0.7-1l0.7-1.1l0.7-1.1l0.7-1l0.7-3l0.7-3.1l0.7-2.6l0.7-2.7l0.7-2.1l0.7-1.8l0.7-1.9l0.7-2.5l0.7-1.8l0.7-1.3l0.7-1.3l0.7-1.2l0.7-0.4l0.7-0.4l0.7-2l0.7-3.4l0.7-2.7l0.7-1.7l0.7-1.8l0.7-3.4l0.7-3.5l0.7-4l0.7-4.3l0.7-3.6l0.7-1.8l0.7-1.7l0.7-2.6l0.7-1.9l0.7-1.2l0.7-1.3l0.7-1.3l0.7-1l0.7-0.9l0.7-0.8l0.7-0.3l0.7-0.4l0.7-0.6l0.7-0.5l0.7-0.9l0.7-0.9l0.7-1.1l0.7-0.2l0.7-0.2l0.7-0.1l0.7-0.1l0.7-0.4l0.7-1.9l0.7-16.9l0.7-19.7l0.7-19.8l0.7-19.3l0.7-18.6l0.7-20.4l0.7-31l0.7-31l0.7-30.9l0.7-34.3l0.7-53.4l0.7-39.2l0.7 0.5l0.7 19.1l0.7 31.5l0.7 31.8l0.7 14.7l0.7 1.1l0.7 0.7l0.7-13.1l0.7-20.4l0.7-11.8l0.7 1.4l0.7 2.2l0.7 2.2l0.7 2.3l0.7-3.6l0.7-6.6l0.7-7.2l0.7-7.2l0.7-6.3l0.7-0.5l0.7-0.5l0.7-1l0.7-1.1l0.7-1.6l0.7-0.6l0.7 1.1l0.7 1.8l0.7 1.8l0.7 1.2l0.7 2.3l0.7 7.4l0.7 7.3l0.7 7.4l0.7 8.3l0.7 11.2l0.7 10.7l0.7 10.5l0.7 10.7l0.7 13.5l0.7 13.5l0.7 13.5l0.7 12.2l0.7 12.1l0.7 12.2l0.7 12.1l0.7 10l0.7 10.1l0.7 10.9l0.7 11.7l0.7 12.3l0.7 11.2l0.7 11.2l0.7 9.2l0.7 8.8l0.7 9l0.7 9.5l0.7 8.3l0.7 6.7l0.7 6.5l0.7 7.1l0.7 7.7l0.7 6.3l0.7 5.1l0.7 5.1l0.7 6l0.7 6.5l0.7 5.3l0.7 3.8l0.7 3.9l0.7 3.3l0.7 3l0.7 3.5l0.7 4l0.7 3.4l0.7 2.7l0.7 2.7l0.7 2.3l0.7 1.8l0.7 0.8l0.7 0.9l0.7 0.8l0.7 0.6l0.7 0.4l0.7 0.4l0.7 0.2l0.7-0.9l0.7-0.8l0.7-0.6l0.7-0.7l0.7-1l0.7-1.1l0.7-2.7l0.7-3.1l0.7-3.1l0.7-3.3l0.7-3.1l0.7-2.2l0.7-2.1l0.7-2.2l0.7-1.7l0.7-0.8l0.7-1.8l0.7-1.9l0.7-1l0.7-0.7l0.7-1l0.7-2.9l0.7-3.1l0.7-2l0.7-1.9l0.7-2.7l0.7-3.8l0.7-3.7l0.7-3l0.7-3l0.7-3.2l0.7-3.8l0.7-3.6l0.7-2.1l0.7-0.4l0.7-1l0.7-1.3l0.7-1.3l0.7-1l0.7-1.1l0.7-0.8l0.7-0.4l0.7-0.2l0.7 0.3l0.7 0.3l0.7-1.3l0.7-1.2l0.7-0.7l0.7-0.2l0.7-0.3l0.7-1.4l0.7-1.4l0.7 0l0.7 0.2l0.7-9.5l0.7-19.2l0.7-19.2l0.7-19.1l0.7-19.1l0.7-19.2l0.7-29.6l0.7-31.6l0.7-31.6l0.7-31.6l0.7-50.9l0.7-54.8l0.7-4l0.7 9.4l0.7 33.5l0.7 33.3l0.7 20.7l0.7 0.7l0.7 1.1l0.7-13.7l0.7-22l0.7-9.7l0.7 2.1l0.7 2.8l0.7 2.9l0.7 1.4l0.7-5.7l0.7-6.2l0.7-5.9l0.7-5.9l0.7-4.3l0.7-1l0.7-0.9l0.7-0.8l0.7-0.6l0.7-0.2l0.7 2l0.7 1.3l0.7 1.1l0.7 1.2l0.7 1.2l0.7 5.8l0.7 7.2l0.7 7.2l0.7 7.4l0.7 9.9l0.7 11l0.7 11.2l0.7 11.2l0.7 13.2l0.7 14.2l0.7 13.9l0.7 12.5l0.7 11.6l0.7 12.6l0.7 12.7l0.7 11.5l0.7 10.8l0.7 10.9l0.7 11.5l0.7 12.4l0.7 12.3l0.7 12l0.7 10l0.7 8.4l0.7 8.3l0.7 9l0.7 8.3l0.7 7.8l0.7 8.1l0.7 8.1l0.7 7.6l0.7 6.3l0.7 5.6l0.7 5.3l0.7 5.3l0.7 6.1l0.7 5.3l0.7 3.7l0.7 3.2l0.7 3.4l0.7 4.2l0.7 4.2l0.7 3.7l0.7 3.1l0.7 2.7l0.7 2l0.7 1.9l0.7 3.2l0.7 2.5l0.7 1.2l0.7 1l0.7 1.1l0.7-0.2l0.7-0.2l0.7-0.4l0.7-1.5l0.7-1.3l0.7-0.5l0.7-0.4l0.7-1l0.7-1.2l0.7-3l0.7-3.8l0.7-3.8l0.7-3.3l0.7-3l0.7-2.8l0.7-2.9l0.7-2.9l0.7-3.2l0.7-1.7l0.7-1.1l0.7-0.6l0.7-0.8l0.7-2.1l0.7-2l0.7-1.7l0.7-2l0.7-2.3l0.7-2.9l0.7-2.9l0.7-4.1l0.7-4.3l0.7-3.6l0.7-2.8l0.7-2.4l0.7-3.6l0.7-3.6l0.7-2.8l0.7-1.8l0.7-0.7l0.7-1.8l0.7-1.9l0.7-0.8l0.7-0.5l0.7-0.7l0.7-0.8l0.7-0.6l0.7-0.3l0.7-0.3l0.7-0.2l0.7-0.1l0.7-0.2l0.7-0.6l0.7-0.5l0.7-1.1l0.7-1.4l0.7-1.3l0.7-0.4l0.7-0.6l0.7-3.4l0.7-17l0.7-17.6l0.7-18.7l0.7-18.8l0.7-17.8l0.7-25.2l0.7-32.9l0.7-33.4l0.7-33.3l0.7-45.2l0.7-57.5l0.7-23.7l0.7-0.9l0.7 33.9l0.7 37.1l0.7 30.4l0.7 1.1l0.7 1l0.7-15.1l0.7-23.3l0.7-6.9l0.7 2.6l0.7 2.7l0.7 2.6l0.7 1.3l0.7-5.3l0.7-5.4l0.7-5.4l0.7-5.8l0.7-3.3l0.7-1.6l0.7-0.2l0.7-0.1l0.7-1.1l0.7-0.5l0.7 0.9l0.7 0.9l0.7 0.8l0.7 2l0.7 3.8l0.7 8.2l0.7 7.3l0.7 7.4l0.7 9l0.7 11.6l0.7 11.6l0.7 11.5l0.7 12.4l0.7 14.5l0.7 14.4l0.7 13.9l0.7 12.4l0.7 12.6l0.7 13.6l0.7 13l0.7 11.5l0.7 11.5l0.7 11.1l0.7 11.4l0.7 12l0.7 13.4l0.7 12.4l0.7 9l0.7 8.2l0.7 8.3l0.7 8.9l0.7 7.8l0.7 8.4l0.7 8.6l0.7 8.1l0.7 6.1l0.7 5.3l0.7 5.9l0.7 5.9l0.7 5.8l0.7 5.1l0.7 3.9l0.7 4.5l0.7 4.6l0.7 4.1l0.7 3.8l0.7 3.5l0.7 3.5l0.7 3.6l0.7 2.4l0.7 2.1l0.7 2.4l0.7 2.5l0.7 1.2l0.7 1.3l0.7 1.2l0.7 0.8l0.7 0.3l0.7-0.5l0.7-1.8l0.7-1.7l0.7-1.7l0.7-1.8l0.7-1.5l0.7-0.4l0.7-1.8l0.7-4.1l0.7-4.8l0.7-4.3l0.7-2.9l0.7-2.6l0.7-3.2l0.7-3.3l0.7-3.1l0.7-1.6l0.7-1.2l0.7-1.9l0.7-1.9l0.7-1.5l0.7-1.2l0.7-1.3l0.7-2.9l0.7-3l0.7-3.1l0.7-3.2l0.7-3.6l0.7-4l0.7-4l0.7-3.7l0.7-3.6l0.7-2.7l0.7-2.5l0.7-2.5l0.7-3.2l0.7-2.2l0.7-1.3l0.7-1.2l0.7-1.1l0.7-1l0.7-1l0.7-1.6l0.7-1.2l0.7-0.7l0.7 0.2l0.7 0.2l0.7-0.4l0.7-0.5l0.7-0.6l0.7-1l0.7-1l0.7 0l0.7-0.1l0.7-0.8l0.7-1.3l0.7-1.2l0.7-1.2l0.7-15l0.7-16.6l0.7-16.4l0.7-16.6l0.7-17.3l0.7-20.4l0.7-35.2l0.7-35.2l0.7-35l0.7-39.1l0.7-60.6l0.7-44.4l0.7-0.2l0.7 24.9l0.7 40.8l0.7 40.5l0.7 0.1l0.7 0l0.7-16.3l0.7-24l0.7-3.2l0.7 2.7l0.7 2.7l0.7 2.2l0.7-1.1l0.7-5.3l0.7-4.7l0.7-4.7l0.7-6l0.7-1.8l0.7-1.2l0.7-0.6l0.7-0.7l0.7-1.9l0.7 0.5l0.7 1.5l0.7 1.7l0.7 1.8l0.7 1.7l0.7 7.2l0.7 7.9l0.7 7.8l0.7 8.4l0.7 12.2l0.7 12.6l0.7 12.1l0.7 12.1l0.7 14.3l0.7 14.1l0.7 14.3l0.7 14l0.7 13.6l0.7 12.9l0.7 12.5l0.7 11.6l0.7 12.5l0.7 12.4l0.7 12.5l0.7 13.4l0.7 13l0.7 12.4l0.7 9.1l0.7 10.8l0.7 10.7l0.7 9.3l0.7 7.1l0.7 7.3l0.7 8.5l0.7 8.5l0.7 7l0.7 5.6l0.7 5.9l0.7 6.6l0.7 6.5l0.7 6.4l0.7 4.9l0.7 4.5l0.7 3.8l0.7 3.8l0.7 4.9l0.7 4.5l0.7 3.1l0.7 2.9l0.7 2.9l0.7 2.5l0.7 2.5l0.7 1.7l0.7 0.3l0.7 0.7l0.7 1.5l0.7 1.5l0.7 0.9l0.7 0l0.7-2l0.7-2.5l0.7-2.5l0.7-1.9l0.7-1.9l0.7-1.3l0.7-1.9l0.7-3.1l0.7-4.3l0.7-4.2l0.7-4.3l0.7-3.9l0.7-3.8l0.7-3.6l0.7-3.5l0.7-2.5l0.7-1.6l0.7-1.5l0.7-1.4l0.7-1.4l0.7-2.9l0.7-2.9l0.7-2.6l0.7-2.5l0.7-2.6l0.7-3.7l0.7-3.8l0.7-3.7l0.7-3.4l0.7-3.6l0.7-4l0.7-3.6l0.7-3l0.7-2.9l0.7-3.2l0.7-3.6l0.7-2l0.7-0.4l0.7-0.5l0.7-0.8l0.7-1.2l0.7-1.3l0.7-1.8l0.7-1l0.7-0.6l0.7-0.4l0.7-0.3l0.7 0.1l0.7 0.2l0.7-1l0.7-1.2l0.7-1l0.7-0.6l0.7-0.6l0.7 0.3l0.7 0.4l0.7-0.3l0.7-1l0.7-9.2l0.7-16.7l0.7-16.7l0.7-17.3l0.7-17.5l0.7-17l0.7-32.2l0.7-35.1l0.7-36.2l0.7-36.4l0.7-59.4l0.7-63.9l0.7-4.5l0.7 13.2l0.7 44.2l0.7 44.1l0.7 9.7l0.7 1.2l0.7-18.7l0.7-27.1l0.7-0.1l0.7 3.6l0.7 3.3l0.7 2.7l0.7-2.1l0.7-5.1l0.7-5l0.7-5.2l0.7-4l0.7-1.6l0.7-1.2l0.7-1.3l0.7-1.2l0.7-0.3l0.7 1.5l0.7 2l0.7 2l0.7 1.1l0.7 3.1l0.7 8.2l0.7 9.2l0.7 9.1l0.7 10.4l0.7 12.4l0.7 12.6l0.7 12.9l0.7 14.4l0.7 15.5l0.7 15.5l0.7 14.5l0.7 13.2l0.7 13.4l0.7 13.9l0.7 12.7l0.7 12.5l0.7 12.6l0.7 12.4l0.7 13.4l0.7 13.4l0.7 13.4l0.7 10.4l0.7 9.8l0.7 9.9l0.7 10l0.7 9.1l0.7 8.9l0.7 8.5l0.7 8.2l0.7 7.9l0.7 6.2l0.7 6.3l0.7 6.5l0.7 6.5l0.7 6.2l0.7 4.1l0.7 4.1l0.7 5l0.7 5.1l0.7 4.6l0.7 3.6l0.7 2.4l0.7 3.2l0.7 3.1l0.7 3.6l0.7 3.9l0.7 2.8l0.7-0.1l0.7-0.1l0.7 1l0.7 1.4l0.7 1.2l0.7-0.5l0.7-2.1l0.7-2.2l0.7-2.2l0.7-1.8l0.7-1.5l0.7-1.5l0.7-2.8l0.7-4.3l0.7-3.9l0.7-3.8l0.7-3.7l0.7-3.7l0.7-3.6l0.7-4.1l0.7-4.3l0.7-4l0.7-2.3l0.7-2.3l0.7-1.9l0.7-1.9l0.7-2.2l0.7-2.8l0.7-2.9l0.7-2.8l0.7-2.8l0.7-3.4l0.7-3.8l0.7-4.1l0.7-3.7l0.7-3.7l0.7-3.4l0.7-3.4l0.7-2.8l0.7-3.1l0.7-3.1l0.7-3.5l0.7-3.1l0.7-1.3l0.7-0.8l0.7-0.8l0.7-2.5l0.7-2.4l0.7-1.8l0.7-0.8l0.7-0.1l0.7 0l0.7 0l0.7-0.3l0.7-0.5l0.7-0.4l0.7-0.1l0.7-0.2l0.7-1l0.7-1.1l0.7-0.6l0.7 0.4l0.7 0.3l0.7-1.1l0.7-1.4l0.7-3.8l0.7-16.2l0.7-16.2l0.7-16.5l0.7-16.4l0.7-15.9l0.7-26.4l0.7-36.8l0.7-37.8l0.7-37.8l0.7-50.3l0.7-63.6l0.7-24.8l0.7-0.7l0.7 42.7l0.7 45.1l0.7 18l0.7 1.1l0.7-19.2l0.7-27.6l0.7 3.1l0.7 3.1l0.7 2.6l0.7 2.6l0.7-3.4l0.7-3.6l0.7-3.7l0.7-4.1l0.7-2.1l0.7-1.4l0.7-1.3l0.7-1.4l0.7-0.9l0.7 1.5l0.7 1.6l0.7 1.3l0.7 1.2l0.7 0.8l0.7 7.4l0.7 8.8l0.7 9.1l0.7 9.1l0.7 13.1l0.7 13l0.7 12.7l0.7 13l0.7 15.9l0.7 16.1l0.7 16l0.7 14.3l0.7 14.3l0.7 14.5l0.7 13.8l0.7 13.1l0.7 12.5l0.7 12.5l0.7 13.8l0.7 14.4l0.7 14.3l0.7 11.7l0.7 10.2l0.7 9.7l0.7 9.6l0.7 9.3l0.7 9.9l0.7 9.9l0.7 7.6l0.7 7.6l0.7 6.4l0.7 6.9l0.7 6.9l0.7 6.2l0.7 6.2l0.7 5l0.7 5.2l0.7 5.2l0.7 4.8l0.7 4.8l0.7 4l0.7 2.7l0.7 3.2l0.7 4l0.7 4l0.7 2.2l0.7 1.3l0.7 0.9l0.7 1.8l0.7 1.5l0.7 0.5l0.7 0.6l0.7-0.9"/>
</g>
<g class="legend">
<rect x="229.2" y="1186.4" width="729.7" height="102.7" fill="#fff" stroke="#000" stroke-width="2.3"/>
<line x1="256.2" y1="1235.2" x2="397.6" y2="1235.2" stroke="#0000ff" stroke-width="9.6"/><text class="lg" x="409.2" y="1257.6">Ia</text>
<line x1="490.2" y1="1235.2" x2="630.8" y2="1235.2" stroke="#00ff00" stroke-width="9.6"/><text class="lg" x="643.4" y="1257.6">Ib</text>
<line x1="730.7" y1="1235.2" x2="870.9" y2="1235.2" stroke="#ff0000" stroke-width="9.6"/><text class="lg" x="884.6" y="1257.6">Ic</text>
</g>
<g class="tl" text-anchor="end"><text x="215.6" y="720.3">600</text><text x="215.6" y="868.2">300</text><text x="215.6" y="1016">0</text><text x="215.6" y="1163.9">-300</text><text x="215.6" y="1311.8">-600</text></g>
<g class="tl"><text x="188.6" y="1360.4">0</text><text x="489.2" y="1360.4">0.05</text><text x="814.8" y="1360.4">0.1</text><text x="1124.5" y="1360.4">0.15</text><text x="1451.8" y="1360.4">0.2</text><text x="1760.9" y="1360.4">0.25</text></g>
<text class="al" transform="translate(78.6 979.75) rotate(-90)" x="-241.3" y="0">Phase Current/(A)</text>
</g>
<g id="axes3">
<path class="g" d="M546.5 1999.6V1415.4M864.5 1999.6V1415.4M1182.5 1999.6V1415.4M1500.5 1999.6V1415.4M229.2 1532.5H1818.1M229.2 1649.5H1818.1M229.2 1765.5H1818.1M229.2 1882.5H1818.1"/>
<path class="a" d="M547 1999.6v-15.5M547 1415.4v15.5M864.8 1999.6v-15.5M864.8 1415.4v15.5M1182.5 1999.6v-15.5M1182.5 1415.4v15.5M1500.3 1999.6v-15.5M1500.3 1415.4v15.5M229.2 1532.2h15.5M1818.1 1532.2h-15.5M229.2 1649.1h15.5M1818.1 1649.1h-15.5M229.2 1765.9h15.5M1818.1 1765.9h-15.5M229.2 1882.8h15.5M1818.1 1882.8h-15.5"/>
<rect class="a" x="229.2" y="1415.4" width="1588.9" height="584.2"/>
<g clip-path="url(#cp2)">
<path class="c" stroke="#0000ff" d="M229.2 1649.1l655.6-0.1l2 0.7l2 1.4l2 2.6l2 3.4l2 4.3l2 5.3l2 6l2 7.1l2 8.3l2 9.3l2 10.6l2 12.2l2 14.4l2 19.4l2 21.8l2 19l2 15.5l2 14.4l2 15l2 17.1l2 15.3l2 11.7l2 9l2 3.5l2 1.2l2-1.9l2-5.3l2-8.6l2-6.1l2-5.1l2-3.4l2-2.4l2-2l2-1.6l2-1l2-0.6l2-0.5l2-0.4l2-0.2l2-0.1l2 0.2l2 0.6l2 0.9l2 0.9l2 0.9l2 1.2l2 1.3l2 1.5l2 1.6l2 1.5l2 1.5l2 1.4l2 1.4l2 1.5l2 1.4l2 1.3l2 1.2l2 0.8l2 0.6l2 0.6l2 0.5l2 0.5l2 0.3l2 0.3l2 0.2l2 0l2-0.2l2-0.3l2-0.4l2-0.5l2-0.5l2-0.5l2-0.6l2-0.5l2-0.6l2-0.7l2-0.7l2-0.7l2-0.6l2-0.5l2-0.3l2-0.3l2-0.3l2-0.2l2-0.3l2-0.2l2-0.2l2-0.1l2-0.2l2-0.1l2-0.1l2 0l2 0l2 0l2 0.2l2 0.2l2 0.3l2 0.4l2 0.3l2 0.4l2 0.4l2 0.4l2 0.3l2 0.3l2 0.4l2 0.4l2 0.4l2 0.5l2 0.4l2 0.5l2 0.4l2 0.4l2 0.4l2 0.3l2 0.3l2 0.3l2 0.1l2 0.1l2 0l2-0.1l2-0.2l2-0.2l2-0.3l2-0.3l2-0.4l2-0.4l2-0.4l2-0.4l2-0.4l2-0.3l2-0.4l2-0.3l2-0.3l2-0.3l2-0.2l2-0.3l2-0.3l2-0.2l2-0.3l2-0.2l2-0.2l2-0.2l2-0.2l2-0.1l2 0l2 0l2 0l2 0.2l2 0.2l2 0.2l2 0.3l2 0.3l2 0.3l2 0.3l2 0.3l2 0.3l2 0.3l2 0.4l2 0.4l2 0.5l2 0.6l2 0.5l2 0.5l2 0.6l2 0.5l2 0.4l2 0.4l2 0.4l2 0.3l2 0.1l2 0.1l2 0l2-0.2l2-0.2l2-0.3l2-0.4l2-0.5l2-0.4l2-0.6l2-0.5l2-0.5l2-0.5l2-0.6l2-0.4l2-0.5l2-0.4l2-0.3l2-0.4l2-0.4l2-0.4l2-0.4l2-0.4l2-0.3l2-0.3l2-0.3l2-0.2l2-0.2l2 0l2 0l2 0.2l2 0.3l2 0.4l2 0.5l2 0.6l2 0.7l2 0.7l2 0.7l2 0.8l2 0.7l2 0.7l2 0.7l2 0.6l2 0.6l2 0.4l2 0.4l2 0.3l2 0.2l2 0.3l2 0.3l2 0.2l2 0.3l2 0.2l2 0.1l2 0.1l2 0.1l2 0l2-0.1l2-0.2l2-0.3l2-0.4l2-0.4l2-0.5l2-0.5l2-0.5l2-0.5l2-0.5l2-0.4l2-0.3l2-0.3l2-0.4l2-0.3l2-0.4l2-0.3l2-0.4l2-0.3l2-0.3l2-0.3l2-0.2l2-0.1l2-0.2l2 0l2 0l2 0.1l2 0.1l2 0.2l2 0.3l2 0.3l2 0.4l2 0.3l2 0.4l2 0.5l2 0.4l2 0.4l2 0.5l2 0.6l2 0.8l2 0.8l2 0.9l2 0.9l2 0.8l2 0.8l2 0.5l2 0.5l2 0.4l2 0.4l2 0.3l2 0.3l2 0.1l2 0l2-0.2l2-0.4l2-0.6l2-0.6l2-0.7l2-0.7l2-0.7l2-0.7l2-0.9l2-0.9l2-0.9l2-1l2-0.9l2-0.9l2-0.7l2-0.6l2-0.5l2-0.5l2-0.4l2-0.5l2-0.3l2-0.4l2-0.2l2-0.2l2 0l2 0l2 0.2l2 0.2l2 0.3l2 0.4l2 0.4l2 0.5l2 0.4l2 0.5l2 0.6l2 0.8l2 0.9l2 1l2 1.1l2 1.1l2 1.1l2 1l2 0.9l2 0.8l2 0.6l2 0.6l2 0.5l2 0.5l2 0.5l2 0.4l2 0.2l2 0.1l2 0l2-0.2l2-0.3l2-0.5l2-0.5l2-0.5l2-0.6l2-0.5l2-0.8l2-0.9l2-1l2-1.1l2-1.1l2-1l2-1l2-0.7l2-0.5l2-0.4l2-0.4l2-0.4l2-0.3l2-0.3l2-0.2l2-0.2l2-0.1l2 0l2 0.1l2 0.2l2 0.4l2 0.4l2 0.5l2 0.6l2 0.6l2 0.6l2 0.6l2 0.7l2 0.8l2 1l2 1.1l2 1.1l2 1.1l2 1.1l2 1l2 0.8l2 0.6l2 0.5l2 0.4l2 0.4l2 0.4l2 0.3l2 0.3l2 0.2l2 0.1l2 0l2-0.1l2-0.2l2-0.3l2-0.5l2-0.4l2-0.5l2-0.5l2-0.5l2-0.4l2-0.6l2-0.7l2-0.6l2-0.7l2-0.6l2-0.6l2-0.5l2-0.4l2-0.3l2-0.3l2-0.2l2-0.3l2-0.2l2-0.2l2-0.2l2-0.1l2 0l2 0.1l2 0.1l2 0.3l2 0.3l2 0.5l2 0.4l2 0.5l2 0.5l2 0.5l2 0.4l2 0.5l2 0.4l2 0.5l2 0.6l2 0.5l2 0.5l2 0.5l2 0.3l2 0.3l2 0.2l2 0.1l2 0.1l2 0.1l2 0.1l2 0.1l2 0l2 0l2 0l2-0.1l2-0.2l2-0.3l2-0.3l2-0.3l2-0.4l2-0.4l2-0.4l2-0.3l2-0.3l2-0.4l2-0.4l2-0.4l2-0.4l2-0.4l2-0.3l2-0.3l2-0.3l2-0.1l2-0.1l2-0.1l2-0.1l2-0.1l2-0.1l2 0l2-0.1l2 0"/>
<path class="c" stroke="#00ff00" d="M229.2 1649.1l655.6 0.1l2-0.9l2 0.5l2-2.4l2-0.3l2-2.3l2-2.2l2-0.3l2-1.5l2-1.7l2-1l2-1.8l2-1.8l2-1.8l2-5.3l2-7.6l2-6l2-4.4l2-5.9l2-2.2l2-1.5l2-1.1l2 0.3l2-1.1l2 0.4l2-1.2l2-0.2l2 0.1l2-0.4l2-1l2 0.2l2-0.7l2 0l2-0.5l2-0.3l2-1.2l2-0.6l2-0.4l2 0.2l2-0.2l2-0.5l2-0.4l2 0.3l2-0.3l2-0.3l2 1.6l2-0.1l2 0l2 0.7l2 0.7l2-0.5l2 0.7l2 0.2l2-1l2 0.3l2 0.3l2-0.6l2-0.7l2-0.9l2 1.1l2-0.1l2-0.5l2-1l2 0.6l2 0.4l2-0.3l2 0.9l2-0.4l2-0.7l2 0.7l2 1.4l2 0.3l2 0.1l2-0.9l2 0.2l2 0.7l2-0.9l2 1.4l2-0.7l2 0.4l2-0.2l2-0.4l2 0.8l2-1.1l2 0.4l2-0.2l2 0.5l2-0.1l2-0.5l2-0.2l2-0.2l2-0.3l2 0.6l2-0.8l2 0.6l2 0.9l2-0.5l2-0.4l2 0.8l2 0.1l2-0.4l2-0.7l2 0.9l2-0.2l2-0.2l2-0.3l2-0.4l2 0.1l2 0.3l2 0l2-0.1l2 0.5l2-0.9l2-0.2l2 0.1l2 0.7l2-1l2 0.5l2-0.3l2-0.2l2 1.4l2-0.9l2 0.8l2-0.6l2 0.7l2-1.3l2 0.3l2-0.2l2 0.8l2-0.8l2 0.5l2-0.6l2-0.3l2 1.3l2-0.2l2 0.1l2 0.3l2-0.3l2-1.3l2 0.4l2 0.2l2 0.8l2-1.5l2 1.1l2-1.1l2 0.2l2 0.1l2 0.3l2 0.7l2-0.1l2-0.8l2 1l2-1.5l2 0l2 0.7l2-0.3l2 0.9l2-1.4l2 1.4l2-1l2 0.8l2-1.2l2 1.4l2-0.1l2-0.4l2 0.4l2 0l2 0.1l2-0.2l2 0.5l2-0.5l2 0.3l2-0.3l2 0.9l2-1.4l2 1.2l2-0.7l2 0.8l2-0.7l2 0.4l2 0.6l2-0.4l2 0.5l2 0l2-0.8l2 1l2-0.7l2 0.2l2 0.2l2-0.3l2-0.2l2-0.1l2 0.7l2 0.1l2-0.9l2 0.6l2-0.8l2 0.8l2-0.6l2 0l2 0.5l2-0.4l2-0.1l2-0.3l2 0.7l2-0.8l2 0.4l2-1l2 1.3l2 0.1l2-1.3l2 0.3l2-0.6l2 0.5l2 0.7l2-0.5l2-0.8l2 1.3l2-0.7l2-0.8l2 0.5l2-0.4l2 1.2l2-0.8l2 0.2l2 0.6l2-0.3l2-0.6l2 0.2l2 0.3l2 1l2 0.2l2-0.2l2 0.1l2-0.2l2 0.1l2 1l2 0.3l2-0.4l2 0.3l2-0.4l2-0.7l2 0l2 1.2l2 0.1l2 0.2l2-1.1l2 0.7l2-0.1l2-0.1l2 0.2l2 0.2l2-1.2l2 0.8l2-0.5l2 0.6l2 0.1l2 0l2-0.3l2 0.2l2-1.3l2-0.1l2 0.5l2 0.4l2 0.1l2 0l2-1.3l2 0.7l2-0.4l2-0.9l2 0.3l2 0.4l2-1.2l2 1.1l2-1.2l2-0.1l2 0.5l2 0.8l2 0.1l2 0.3l2-0.9l2 0.3l2 0.1l2 0.2l2 0.6l2 1.1l2-0.4l2-0.4l2 1.1l2-0.5l2-0.8l2 0.1l2 0.8l2-0.5l2 0.2l2 0.2l2 0.4l2 0.6l2-1.3l2 1.4l2-0.8l2-0.1l2 0l2 0.1l2 0.2l2 0l2 0.7l2-0.8l2-0.1l2 1.1l2-0.2l2-1.2l2 0.9l2 0.1l2-0.8l2 0.1l2-0.4l2-0.4l2 0.4l2-1l2 0.3l2-0.3l2-0.2l2 0.2l2-1.6l2 0.1l2 0.6l2-0.4l2-0.3l2 0.1l2 0.2l2 1.3l2-0.6l2 0.6l2 0.2l2 0.6l2-0.2l2 0.1l2 0.8l2-0.4l2-0.2l2 1.6l2 0l2-0.7l2 0.4l2 0.2l2-0.7l2-0.3l2-0.1l2 1.2l2 0.2l2-0.9l2 0.8l2-0.8l2 0l2-0.3l2 0.5l2-0.3l2 0.8l2 0.1l2-0.4l2-0.4l2-0.1l2 0.9l2-0.4l2-0.1l2-1l2 1.5l2-1.2l2 0l2-0.9l2 0.9l2-0.5l2-1.1l2 0.3l2 0l2-0.4l2-1.4l2-0.1l2 0.4l2 0.3l2-0.3l2 0l2 0.2l2 1.3l2 0l2-0.9l2 0.6l2 0.8l2-0.7l2 0.6l2-0.3l2 1.2l2-0.6l2-0.2l2 0.7l2-0.8l2 0.1l2 1l2 0l2-1.2l2-0.1l2 1.3l2-0.7l2 0.5l2-0.7l2-0.4l2 0.1l2 0.5l2 0.5l2 0.2l2-0.9l2 0.1l2 0.5l2 0l2 0.1l2 0l2-0.4l2 0.4l2-0.5l2 0.5l2-0.6l2-0.7l2 0.9l2-1.2l2 0.4l2 0.1l2-0.3l2-0.3l2 0.6l2-1.2l2 0.4l2 0.4l2 0.4l2-1.1l2-0.3l2 1.4l2-0.2l2-0.2l2 0.9l2 0.2l2-0.8l2 0.2l2 0.3l2-0.2l2 0.2l2-0.3l2 1.1l2-0.6l2 0.7l2-0.1l2-0.5l2-0.5l2-0.3l2 0.4l2 0.8l2-0.4l2 0.3l2-1.1l2 1l2 0.4l2-1.6l2 0.1l2 1.1l2-0.8l2-0.2l2 0.8"/>
<path class="c" stroke="#ff0000" d="M229.2 1649.1l655.6 0.7l2-1.5l2 0l2-1.6l2-0.5l2-1l2-3.1l2-3.7l2-4.6l2-6.3l2-6.3l2-5.9l2-3.7l2-4l2-0.7l2 0.3l2 1.4l2-1.8l2-0.6l2-2.4l2 0.1l2-2.4l2-0.6l2 1.3l2 0.8l2 3.5l2 2.2l2 3.3l2 2.6l2 1.4l2 1.1l2 1.3l2-0.4l2 1l2-1l2 1.3l2-0.5l2 0.5l2-0.8l2 1.4l2-0.1l2 0l2-0.1l2-0.1l2-1.2l2 0.7l2-0.4l2-0.2l2 1l2 0.5l2-0.1l2-0.9l2-0.2l2 0.5l2-0.9l2 0.9l2-0.1l2-0.7l2 0.1l2-1.5l2 0.8l2-1.2l2 0l2 0.4l2-0.8l2 0.4l2-1l2-0.2l2 1.5l2 0.1l2 0l2-0.3l2-0.2l2-0.1l2 1.5l2 0.2l2-0.9l2 0.8l2-0.1l2 0l2 0l2 0l2-0.7l2 0.2l2 0l2 0.2l2 0l2 0.9l2-0.1l2-0.4l2-0.6l2 0.3l2-0.2l2-0.2l2 0.7l2-0.2l2-0.1l2-0.6l2 0l2-0.1l2 0.4l2 0.1l2 0l2-0.4l2-0.5l2 0.8l2-0.4l2 0.5l2-1l2-0.5l2 1l2-1.4l2 0.2l2 0.7l2 0l2-0.7l2-0.4l2 0.8l2 0.3l2 0.4l2-1.1l2 0.1l2 0.7l2 0.3l2-0.7l2-0.1l2 0.4l2 0.1l2 0.6l2-0.4l2-0.1l2 1.5l2-0.5l2-0.9l2 1.1l2-0.8l2 0.3l2 0.2l2 0.3l2 0.3l2-1.2l2-0.4l2 0.3l2 0.1l2-0.2l2 0.3l2-0.1l2 0.8l2-0.1l2-0.8l2-0.2l2 0.7l2-0.4l2 0.2l2-0.8l2-0.8l2 0.3l2-0.2l2 0.5l2-0.2l2-0.9l2 1l2-0.3l2-0.5l2-0.1l2-0.1l2 0.3l2-0.4l2 0.6l2-0.5l2-0.4l2 0.6l2-0.3l2-0.5l2 0.8l2 0.6l2-0.6l2 0.4l2-0.6l2 0.2l2 0.5l2 1.3l2-1.1l2 0.4l2 0.7l2 0.5l2 0.1l2-0.5l2-1l2 0.6l2 0.7l2-1l2-0.5l2 1.4l2-0.2l2-0.3l2-1l2 0.8l2-1.1l2 0.1l2-0.5l2 0.2l2 0.9l2-0.3l2-0.3l2-0.2l2-0.8l2-0.3l2 0.1l2 0.8l2-0.7l2-0.8l2 0.2l2 0.2l2-0.6l2-0.2l2 0.5l2 0.5l2-1.1l2 0.2l2 0.5l2-0.4l2 0.1l2 0.1l2 0.1l2-1.2l2 0.8l2-0.7l2 0.3l2 0.1l2 0.5l2 1.5l2-0.7l2 0.1l2 0.7l2 1.1l2-0.1l2 0.1l2 0.2l2-0.5l2 0.7l2-0.5l2-0.3l2-0.1l2 1.1l2-0.3l2-0.4l2-0.1l2 0.1l2-1l2 0l2 0.9l2-0.1l2 0.3l2-0.5l2 0.1l2-0.3l2-0.4l2 0l2 0.7l2-0.1l2-0.2l2-0.6l2-0.6l2-0.4l2 1.2l2-1.6l2 0.2l2 0.4l2-1.4l2 0.6l2-1.2l2 0.5l2-0.5l2-1l2-0.1l2-0.2l2 0.2l2 0.4l2-0.5l2-0.1l2 0.3l2 0.1l2 1.3l2 0.2l2 1.1l2-0.1l2 1.1l2-0.6l2 0.2l2-0.5l2 0.9l2-1.2l2 0.2l2 0.2l2 0.8l2-0.4l2-0.5l2 0.9l2-0.1l2-1.4l2 0.3l2 0.7l2 0.2l2-0.3l2 0.2l2-1.3l2-0.2l2 0.6l2-0.7l2 0.9l2 0.3l2-0.9l2 0.2l2-0.4l2-0.5l2-0.3l2 0.7l2 0.1l2-1.2l2-0.6l2 0.7l2-1.2l2 0.5l2-0.5l2-0.9l2 0.1l2-0.5l2-0.7l2 0l2 0.4l2 0.2l2-1.2l2 0.2l2-0.2l2 1.9l2-1.1l2 1l2-0.1l2 1.3l2 0.6l2 0.3l2 0.5l2-0.6l2 1.1l2-0.2l2-1l2 0.5l2-0.8l2 1.3l2 0.1l2-0.6l2-0.3l2 0.6l2-0.7l2-0.5l2 0.9l2-0.5l2 0.9l2-0.8l2-0.7l2 1l2 0.2l2-1.4l2 0.3l2 0.2l2 0.3l2-0.1l2-0.3l2 0.2l2-0.4l2-1.4l2 1.2l2-0.5l2-0.5l2-0.2l2-0.2l2-1.5l2 0.6l2-1.1l2 0l2 0.7l2-0.7l2-0.5l2-0.3l2 0.4l2-0.6l2 0.6l2 1l2-0.5l2 0.6l2 1.1l2-0.6l2 0.3l2 0.5l2 0.1l2 1l2-1.5l2 0.2l2 1l2-1.3l2 0.7l2 0.4l2-1l2 0.4l2-0.1l2 0.3l2 0.2l2 0.2l2-1.1l2 0.2l2 0.8l2 0.1l2-0.9l2-0.5l2 0.1l2 1l2-1.1l2 0.1l2-0.1l2 0.3l2 0.3l2-0.9l2 0.4l2 0.6l2-0.8l2-0.2l2 0.3l2-0.5l2-0.3l2 0.5l2-1.3l2 0l2 1.1l2-1.2l2-0.4l2 0.1l2 1.2l2-1.3l2 0.6l2 0.4l2-1l2 0.6l2 1l2-0.6l2 0.4l2 0.5l2 0.5l2-0.7l2-0.2l2-0.2l2 0.4l2 0.6l2 0.4l2-0.7l2-0.5l2 0.7l2-0.8l2 0.1l2 0l2 1.2l2-0.5l2-0.9l2 1.4l2-0.8l2-0.4l2 0.8"/>
</g>
<g class="legend">
<rect x="1006.9" y="1651.8" width="803.8" height="101" fill="#fff" stroke="#000" stroke-width="2.3"/>
<line x1="1035.6" y1="1701.5" x2="1175.8" y2="1701.5" stroke="#0000ff" stroke-width="9.6"/><text class="lg" x="1188.3" y="1722.6">Da</text>
<line x1="1293" y1="1701.5" x2="1433.6" y2="1701.5" stroke="#00ff00" stroke-width="9.6"/><text class="lg" x="1446.4" y="1722.6">Db</text>
<line x1="1558.4" y1="1701.5" x2="1698.9" y2="1701.5" stroke="#ff0000" stroke-width="9.6"/><text class="lg" x="1712.7" y="1722.6">Dc</text>
</g>
<g class="tl" text-anchor="end"><text x="214" y="1438.1">1</text><text x="213.6" y="1554.9">0.5</text><text x="215.6" y="1671.8">0</text><text x="213.6" y="1788.6">-0.5</text><text x="214" y="1905.5">-1</text><text x="213.6" y="2022.3">-1.5</text></g>
<g class="tl"><text x="188.6" y="2070.9">0</text><text x="489.2" y="2070.9">0.05</text><text x="814.8" y="2070.9">0.1</text><text x="1124.5" y="2070.9">0.15</text><text x="1451.8" y="2070.9">0.2</text><text x="1760.9" y="2070.9">0.25</text></g>
<text class="al" transform="translate(93.2 1715.2) rotate(-90)" x="-270.9" y="0">Diagnostic variables</text>
</g>
<text class="al" x="881.7" y="2150.4">Time(sec.)</text>
</svg>
</body></html>
